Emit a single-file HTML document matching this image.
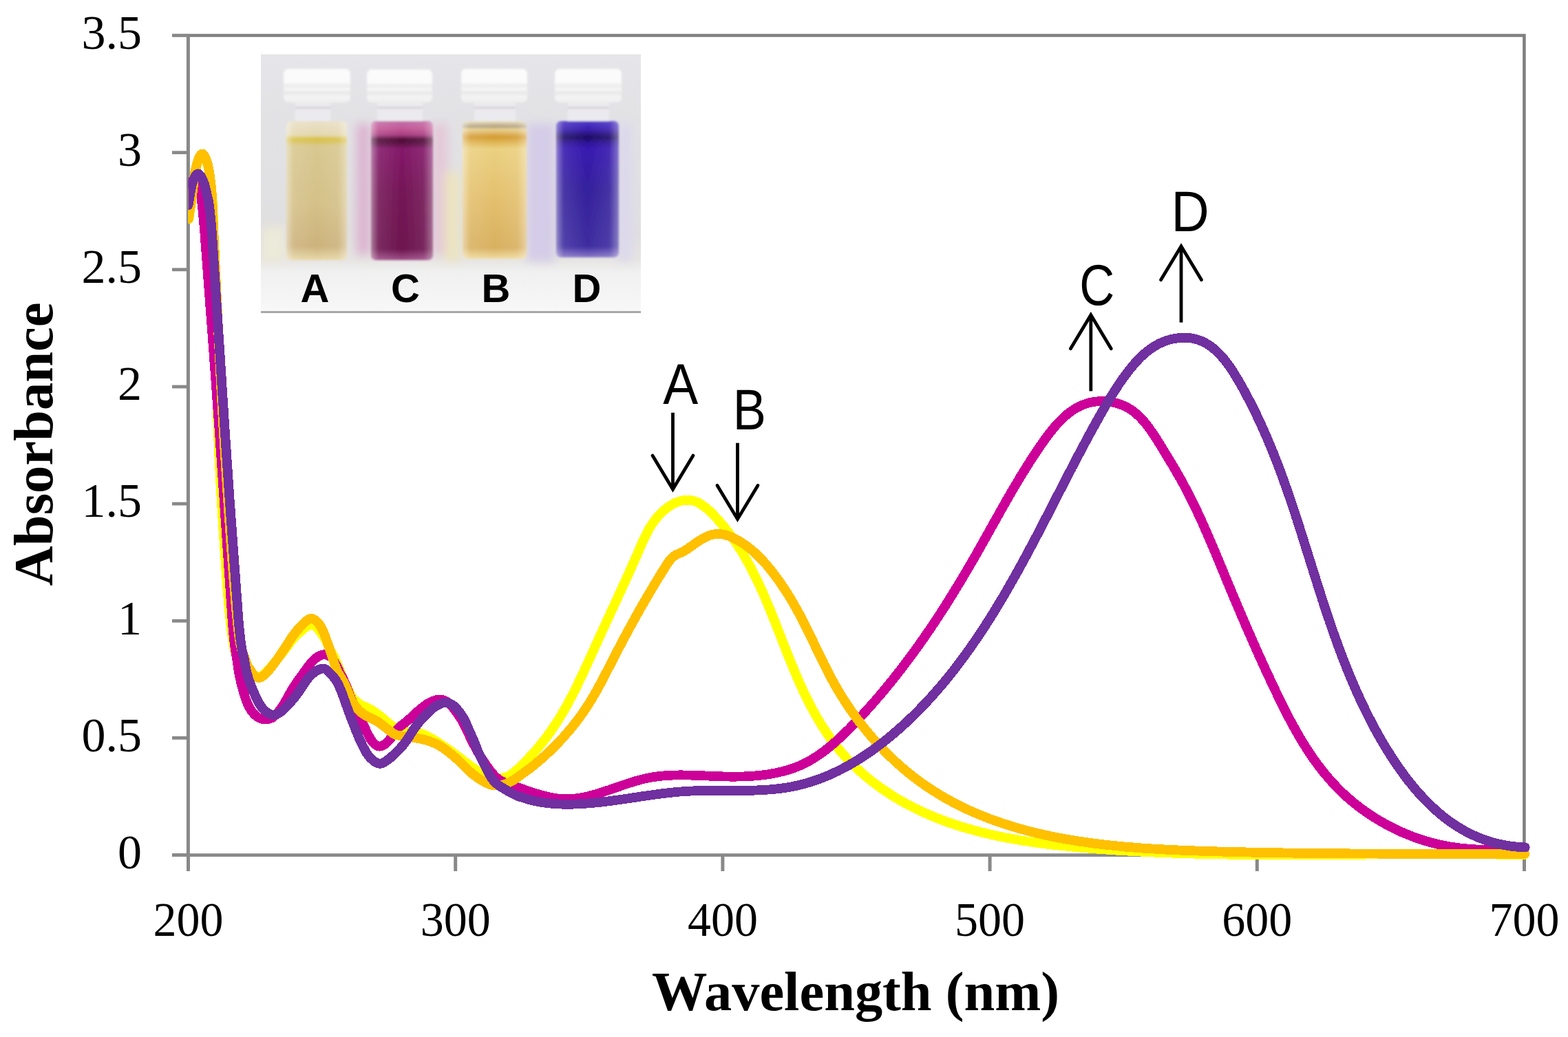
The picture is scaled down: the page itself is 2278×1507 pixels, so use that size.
<!DOCTYPE html>
<html><head><meta charset="utf-8"><title>Absorbance spectra</title>
<style>
html,body{margin:0;padding:0;background:#fff;width:2278px;height:1507px;overflow:hidden}
svg{display:block}
.tk{font-family:"Liberation Serif",serif;font-size:70px;fill:#000}
.tt{font-family:"Liberation Serif",serif;font-weight:bold;font-size:81px;fill:#000}
.an{font-family:"Liberation Sans",sans-serif;font-size:84px;fill:#000}
.il{font-family:"Liberation Sans",sans-serif;font-weight:bold;font-size:58px;fill:#000}
</style></head>
<body>
<svg width="2278" height="1507" viewBox="0 0 2278 1507">
<defs><clipPath id="pc"><rect x="273.5" y="0" width="2000" height="1300"/></clipPath></defs>
<rect width="2278" height="1507" fill="#fff"/>
<path d="M274,51.55 H2214.4 V1242.6" fill="none" stroke="#808080" stroke-width="4.6"/>
<line x1="273.4" y1="49.3" x2="273.4" y2="1245" stroke="#898989" stroke-width="5"/>
<line x1="250" y1="1242.6" x2="273" y2="1242.6" stroke="#898989" stroke-width="4.8"/>
<line x1="250" y1="1072.4" x2="273" y2="1072.4" stroke="#898989" stroke-width="4.8"/>
<line x1="250" y1="902.3" x2="273" y2="902.3" stroke="#898989" stroke-width="4.8"/>
<line x1="250" y1="732.1" x2="273" y2="732.1" stroke="#898989" stroke-width="4.8"/>
<line x1="250" y1="562.0" x2="273" y2="562.0" stroke="#898989" stroke-width="4.8"/>
<line x1="250" y1="391.8" x2="273" y2="391.8" stroke="#898989" stroke-width="4.8"/>
<line x1="250" y1="221.7" x2="273" y2="221.7" stroke="#898989" stroke-width="4.8"/>
<line x1="250" y1="51.5" x2="273" y2="51.5" stroke="#898989" stroke-width="4.8"/>
<line x1="250" y1="1242.6" x2="2217" y2="1242.6" stroke="#898989" stroke-width="4.8"/>
<line x1="273.5" y1="1242" x2="273.5" y2="1266" stroke="#898989" stroke-width="5"/>
<line x1="661.7" y1="1242" x2="661.7" y2="1266" stroke="#898989" stroke-width="5"/>
<line x1="1049.9" y1="1242" x2="1049.9" y2="1266" stroke="#898989" stroke-width="5"/>
<line x1="1438.1" y1="1242" x2="1438.1" y2="1266" stroke="#898989" stroke-width="5"/>
<line x1="1826.3" y1="1242" x2="1826.3" y2="1266" stroke="#898989" stroke-width="5"/>
<line x1="2214.5" y1="1242" x2="2214.5" y2="1266" stroke="#898989" stroke-width="5"/>
<text x="206" y="1261.8" text-anchor="end" class="tk">0</text>
<text x="206" y="1091.6" text-anchor="end" class="tk">0.5</text>
<text x="206" y="921.5" text-anchor="end" class="tk">1</text>
<text x="206" y="751.3" text-anchor="end" class="tk">1.5</text>
<text x="206" y="581.2" text-anchor="end" class="tk">2</text>
<text x="206" y="411.0" text-anchor="end" class="tk">2.5</text>
<text x="206" y="240.9" text-anchor="end" class="tk">3</text>
<text x="206" y="70.7" text-anchor="end" class="tk">3.5</text>
<text x="273.5" y="1359.5" text-anchor="middle" class="tk" textLength="102" lengthAdjust="spacingAndGlyphs">200</text>
<text x="661.7" y="1359.5" text-anchor="middle" class="tk" textLength="102" lengthAdjust="spacingAndGlyphs">300</text>
<text x="1049.9" y="1359.5" text-anchor="middle" class="tk" textLength="102" lengthAdjust="spacingAndGlyphs">400</text>
<text x="1438.1" y="1359.5" text-anchor="middle" class="tk" textLength="102" lengthAdjust="spacingAndGlyphs">500</text>
<text x="1826.3" y="1359.5" text-anchor="middle" class="tk" textLength="102" lengthAdjust="spacingAndGlyphs">600</text>
<text x="2214.5" y="1359.5" text-anchor="middle" class="tk" textLength="102" lengthAdjust="spacingAndGlyphs">700</text>
<text x="1243" y="1468" text-anchor="middle" class="tt" textLength="592" lengthAdjust="spacingAndGlyphs">Wavelength (nm)</text>
<text transform="translate(76,645.4) rotate(-90)" x="0" y="0" text-anchor="middle" class="tt" textLength="412" lengthAdjust="spacingAndGlyphs">Absorbance</text>
<g>
<defs>
<linearGradient id="bg" x1="0" y1="0" x2="0" y2="1">
<stop offset="0" stop-color="#e6e6ea"/><stop offset="0.25" stop-color="#e2e2e5"/><stop offset="0.7" stop-color="#e0dfe0"/>
<stop offset="0.79" stop-color="#e6e4e2"/><stop offset="0.84" stop-color="#f0f0f0"/><stop offset="1" stop-color="#f8f8f8"/></linearGradient>
<linearGradient id="lC" x1="0" y1="0" x2="0" y2="1"><stop offset="0" stop-color="#c070a8"/><stop offset="0.05" stop-color="#c45a98"/><stop offset="0.1" stop-color="#a83c80"/><stop offset="0.13" stop-color="#4e0c38"/><stop offset="0.16" stop-color="#5a1042"/><stop offset="0.2" stop-color="#84186a"/><stop offset="0.5" stop-color="#741656"/><stop offset="0.92" stop-color="#6c144e"/><stop offset="1" stop-color="#a05088"/></linearGradient>
<linearGradient id="lD" x1="0" y1="0" x2="0" y2="1"><stop offset="0" stop-color="#5038c8"/><stop offset="0.06" stop-color="#3a20b0"/><stop offset="0.09" stop-color="#2a1488"/><stop offset="0.12" stop-color="#1c0c60"/><stop offset="0.15" stop-color="#2a1090"/><stop offset="0.2" stop-color="#3618b0"/><stop offset="0.5" stop-color="#34209c"/><stop offset="0.92" stop-color="#3e2ca0"/><stop offset="1" stop-color="#8878c8"/></linearGradient>
<linearGradient id="lA" x1="0" y1="0" x2="0" y2="1"><stop offset="0" stop-color="#e8e0c8"/><stop offset="0.1" stop-color="#e4d8b0"/><stop offset="0.13" stop-color="#d8c040"/><stop offset="0.18" stop-color="#d8c890"/><stop offset="0.6" stop-color="#d4c088"/><stop offset="0.9" stop-color="#ccb27c"/><stop offset="1" stop-color="#e8d8a8"/></linearGradient>
<linearGradient id="lB" x1="0" y1="0" x2="0" y2="1"><stop offset="0" stop-color="#ece0c0"/><stop offset="0.04" stop-color="#b0a080"/><stop offset="0.06" stop-color="#e8d090"/><stop offset="0.115" stop-color="#d49a30"/><stop offset="0.16" stop-color="#e0b858"/><stop offset="0.2" stop-color="#ead080"/><stop offset="0.6" stop-color="#e2be6c"/><stop offset="0.92" stop-color="#d8b060"/><stop offset="1" stop-color="#f0dca0"/></linearGradient>
<linearGradient id="edge" x1="0" y1="0" x2="1" y2="0"><stop offset="0" stop-color="#fff" stop-opacity="0.45"/><stop offset="0.12" stop-color="#fff" stop-opacity="0.1"/><stop offset="0.5" stop-color="#fff" stop-opacity="0"/><stop offset="0.85" stop-color="#fff" stop-opacity="0.08"/><stop offset="1" stop-color="#fff" stop-opacity="0.4"/></linearGradient>
<linearGradient id="cap" x1="0" y1="0" x2="0" y2="1"><stop offset="0" stop-color="#fbfbfb"/><stop offset="0.4" stop-color="#fafafa"/><stop offset="0.5" stop-color="#ececec"/><stop offset="0.6" stop-color="#f6f6f6"/><stop offset="0.72" stop-color="#e8e8e8"/><stop offset="0.82" stop-color="#f4f4f4"/><stop offset="1" stop-color="#eeeeee"/></linearGradient>
<filter id="blr" x="-5%" y="-5%" width="110%" height="110%"><feGaussianBlur stdDeviation="1.6"/></filter>
<filter id="blr2" x="-30%" y="-30%" width="160%" height="160%"><feGaussianBlur stdDeviation="7"/></filter>
<clipPath id="ic"><rect x="379" y="79" width="552" height="374"/></clipPath>
</defs>
<g clip-path="url(#ic)">
<rect x="379" y="79" width="552" height="376" fill="url(#bg)"/>
<g filter="url(#blr2)">
<rect x="518" y="180" width="20" height="190" fill="#dcb4d0"/>
<rect x="628" y="180" width="22" height="190" fill="#e4c8d8"/>
<rect x="646" y="250" width="22" height="130" fill="#ece4c0"/>
<rect x="766" y="180" width="40" height="200" fill="#d4cce8"/>
<rect x="898" y="180" width="20" height="200" fill="#dcd8ec"/>
<rect x="380" y="330" width="35" height="50" fill="#ecead8"/>
</g>
<g filter="url(#blr)">
<rect x="429" y="147" width="51" height="31" fill="#ebeaee"/><rect x="429" y="155" width="51" height="3" fill="#d6d4da"/><rect x="412" y="100" width="97" height="49" rx="7" fill="url(#cap)"/><rect x="416" y="176" width="88" height="202" rx="7" fill="url(#lA)"/><rect x="416" y="176" width="88" height="202" rx="7" fill="url(#edge)"/><rect x="548" y="147" width="66" height="31" fill="#ebeaee"/><rect x="548" y="155" width="66" height="3" fill="#d6d4da"/><rect x="533" y="101" width="95" height="48" rx="7" fill="url(#cap)"/><rect x="539" y="176" width="90" height="202" rx="7" fill="url(#lC)"/><rect x="539" y="176" width="90" height="202" rx="7" fill="url(#edge)"/><rect x="689" y="147" width="60" height="31" fill="#ebeaee"/><rect x="689" y="155" width="60" height="3" fill="#d6d4da"/><rect x="670" y="100" width="96" height="49" rx="7" fill="url(#cap)"/><rect x="672" y="176" width="93" height="200" rx="7" fill="url(#lB)"/><rect x="672" y="176" width="93" height="200" rx="7" fill="url(#edge)"/><rect x="825" y="147" width="60" height="31" fill="#ebeaee"/><rect x="825" y="155" width="60" height="3" fill="#d6d4da"/><rect x="806" y="100" width="97" height="49" rx="7" fill="url(#cap)"/><rect x="808" y="176" width="91" height="198" rx="7" fill="url(#lD)"/><rect x="808" y="176" width="91" height="198" rx="7" fill="url(#edge)"/></g>
</g>
<rect x="379" y="452" width="552" height="3" fill="#a8a8a8"/>
<text x="457.5" y="439" text-anchor="middle" class="il">A</text><text x="589" y="439" text-anchor="middle" class="il">C</text><text x="720.5" y="439" text-anchor="middle" class="il">B</text><text x="852.5" y="439" text-anchor="middle" class="il">D</text></g>
<path d="M274.5,318.0 C275.2,312.7 277.6,296.8 279.0,286.0 C280.4,275.2 281.5,261.8 283.0,253.0 C284.5,244.2 286.2,237.7 288.0,233.0 C289.8,228.3 291.7,225.2 293.5,225.0 C295.3,224.8 297.2,227.2 299.0,231.5 C300.8,235.8 302.5,241.9 304.0,251.0 C305.5,260.1 306.9,271.0 308.0,286.0 C309.1,301.0 309.0,283.7 310.5,341.0 C312.0,398.3 313.8,545.2 317.0,630.0 C320.2,714.8 326.2,798.3 330.0,850.0 C333.8,901.7 336.3,920.7 340.0,940.0 C343.7,959.3 347.7,959.5 352.0,966.0 C356.3,972.5 361.5,976.2 366.0,979.0 C370.5,981.8 374.7,984.3 379.0,983.0 C383.3,981.7 386.8,976.7 392.0,971.0 C397.2,965.3 403.7,956.8 410.0,949.0 C416.3,941.2 422.8,930.8 430.0,924.0 C437.2,917.2 446.3,907.8 453.0,908.0 C459.7,908.2 465.5,918.8 470.0,925.0 C474.5,931.2 477.0,939.2 480.0,945.0 C483.0,950.8 484.7,952.5 488.0,960.0 C491.3,967.5 496.1,981.2 500.0,990.0 C503.9,998.8 508.7,1008.1 511.7,1013.0 C514.7,1017.9 515.9,1017.6 518.0,1019.5 C520.1,1021.4 522.0,1023.0 524.6,1024.5 C527.2,1026.0 530.8,1026.9 533.9,1028.5 C537.0,1030.1 539.9,1031.8 543.2,1034.0 C546.6,1036.2 549.3,1038.3 554.0,1042.0 C558.7,1045.7 565.5,1052.5 571.5,1056.0 C577.5,1059.5 582.6,1061.1 590.0,1063.0 C597.4,1064.9 605.5,1063.2 615.8,1067.5 C626.1,1071.8 639.8,1080.9 651.7,1089.0 C663.7,1097.1 677.5,1109.2 687.5,1116.0 C697.5,1122.8 703.4,1127.8 711.4,1130.0 C719.4,1132.2 728.9,1131.2 735.3,1129.5 C741.7,1127.8 746.0,1122.6 750.0,1119.5 C754.0,1116.4 757.4,1112.7 759.2,1111.0 C761.0,1109.3 760.2,1110.0 760.7,1109.5 C761.2,1109.0 761.6,1108.6 762.1,1108.1 C762.6,1107.6 763.0,1107.1 763.5,1106.6 C764.0,1106.1 764.5,1105.6 765.0,1105.1 C765.5,1104.6 765.9,1104.2 766.4,1103.7 C766.9,1103.2 767.3,1102.7 767.8,1102.2 C768.2,1101.7 768.6,1101.2 769.1,1100.7 C769.6,1100.2 770.0,1099.7 770.5,1099.2 C771.0,1098.7 771.4,1098.3 771.9,1097.8 C772.4,1097.3 772.8,1096.8 773.2,1096.3 C773.7,1095.8 774.2,1095.3 774.6,1094.8 C775.0,1094.3 775.5,1093.8 775.9,1093.3 C776.3,1092.8 776.8,1092.3 777.2,1091.8 C777.7,1091.3 778.2,1090.8 778.6,1090.3 C779.0,1089.8 779.5,1089.2 779.9,1088.7 C780.3,1088.2 780.8,1087.7 781.2,1087.2 C781.6,1086.7 782.0,1086.2 782.4,1085.7 C782.8,1085.2 783.3,1084.7 783.7,1084.2 C784.1,1083.7 784.6,1083.1 785.0,1082.6 C785.4,1082.1 785.8,1081.6 786.2,1081.1 C786.6,1080.6 787.1,1080.0 787.5,1079.5 C787.9,1079.0 788.3,1078.5 788.7,1078.0 C789.1,1077.5 789.6,1076.9 790.0,1076.4 C790.4,1075.9 790.8,1075.3 791.2,1074.8 C791.6,1074.3 792.0,1073.8 792.4,1073.3 C792.8,1072.8 793.2,1072.2 793.6,1071.7 C794.0,1071.2 794.4,1070.6 794.8,1070.1 C795.2,1069.6 795.6,1069.0 796.0,1068.5 C796.4,1068.0 796.7,1067.4 797.1,1066.9 C797.5,1066.4 797.9,1065.8 798.3,1065.3 C798.7,1064.8 799.1,1064.2 799.5,1063.7 C799.9,1063.2 800.2,1062.6 800.6,1062.1 C801.0,1061.5 801.3,1061.0 801.7,1060.4 C802.1,1059.9 802.5,1059.3 802.9,1058.8 C803.3,1058.3 803.6,1057.8 804.0,1057.2 C804.4,1056.7 804.7,1056.0 805.1,1055.5 C805.5,1055.0 805.8,1054.5 806.2,1053.9 C806.6,1053.4 806.9,1052.8 807.3,1052.2 C807.7,1051.6 808.0,1051.0 808.4,1050.5 C808.8,1050.0 809.0,1049.5 809.4,1048.9 C809.8,1048.4 810.1,1047.8 810.5,1047.2 C810.9,1046.6 811.2,1046.1 811.6,1045.5 C812.0,1044.9 812.3,1044.4 812.6,1043.8 C812.9,1043.2 813.2,1042.7 813.6,1042.1 C814.0,1041.5 814.4,1041.0 814.7,1040.4 C815.1,1039.8 815.4,1039.3 815.7,1038.7 C816.0,1038.1 816.4,1037.6 816.7,1037.0 C817.0,1036.4 817.4,1035.9 817.7,1035.3 C818.0,1034.7 818.4,1034.1 818.7,1033.5 C819.0,1032.9 819.4,1032.4 819.7,1031.8 C820.0,1031.2 820.4,1030.7 820.7,1030.1 C821.0,1029.5 821.4,1028.9 821.7,1028.3 C822.0,1027.7 822.4,1027.2 822.7,1026.6 C823.0,1026.0 823.4,1025.4 823.7,1024.8 C824.0,1024.2 824.3,1023.7 824.6,1023.1 C824.9,1022.5 825.3,1021.9 825.6,1021.3 C825.9,1020.7 826.2,1020.2 826.5,1019.6 C826.8,1019.0 827.2,1018.4 827.5,1017.8 C827.8,1017.2 828.1,1016.6 828.4,1016.0 C828.7,1015.4 829.0,1014.9 829.3,1014.3 C829.6,1013.7 830.0,1013.1 830.3,1012.5 C830.6,1011.9 830.9,1011.3 831.2,1010.7 C831.5,1010.1 831.8,1009.5 832.1,1008.9 C832.4,1008.3 832.7,1007.7 833.0,1007.1 C833.3,1006.5 833.6,1005.9 833.9,1005.3 C834.2,1004.7 834.5,1004.1 834.8,1003.5 C835.1,1002.9 835.4,1002.4 835.7,1001.8 C836.0,1001.2 836.3,1000.6 836.6,1000.0 C836.9,999.4 837.2,998.8 837.5,998.2 C837.8,997.6 838.1,996.9 838.4,996.3 C838.7,995.7 839.0,995.1 839.3,994.5 C839.6,993.9 839.9,993.3 840.2,992.7 C840.5,992.1 840.7,991.5 841.0,990.9 C841.3,990.3 841.6,989.7 841.9,989.1 C842.2,988.5 842.5,987.9 842.8,987.3 C843.1,986.7 843.3,986.1 843.6,985.5 C843.9,984.9 844.2,984.3 844.5,983.7 C844.8,983.1 845.1,982.4 845.4,981.8 C845.7,981.2 845.9,980.6 846.2,980.0 C846.5,979.4 846.8,978.8 847.1,978.2 C847.4,977.6 847.6,977.0 847.9,976.4 C848.2,975.8 848.5,975.2 848.8,974.6 C849.1,974.0 849.3,973.3 849.6,972.7 C849.9,972.1 850.1,971.5 850.4,970.9 C850.7,970.3 851.0,969.7 851.3,969.1 C851.6,968.5 851.8,967.9 852.1,967.3 C852.4,966.7 852.6,966.0 852.9,965.4 C853.2,964.8 853.5,964.2 853.8,963.6 C854.1,963.0 854.3,962.4 854.6,961.8 C854.9,961.2 855.1,960.6 855.4,960.0 C855.7,959.4 856.0,958.7 856.3,958.1 C856.6,957.5 856.8,956.9 857.1,956.3 C857.4,955.7 857.6,955.1 857.9,954.5 C858.2,953.9 858.4,953.3 858.7,952.7 C859.0,952.1 859.3,951.4 859.6,950.8 C859.9,950.2 860.1,949.6 860.4,949.0 C860.7,948.4 860.9,947.8 861.2,947.2 C861.5,946.6 861.7,946.0 862.0,945.4 C862.3,944.8 862.6,944.1 862.9,943.5 C863.2,942.9 863.4,942.3 863.7,941.7 C864.0,941.1 864.2,940.5 864.5,939.9 C864.8,939.3 865.0,938.7 865.3,938.1 C865.6,937.5 865.9,936.9 866.2,936.3 C866.5,935.7 866.7,935.1 867.0,934.5 C867.3,933.9 867.5,933.3 867.8,932.7 C868.1,932.1 868.3,931.5 868.6,930.9 C868.9,930.3 869.2,929.6 869.5,929.0 C869.8,928.4 870.0,927.8 870.3,927.2 C870.6,926.6 870.8,926.0 871.1,925.4 C871.4,924.8 871.6,924.2 871.9,923.6 C872.2,923.0 872.5,922.4 872.8,921.8 C873.1,921.2 873.3,920.6 873.6,920.0 C873.9,919.4 874.1,918.8 874.4,918.2 C874.7,917.6 875.0,917.0 875.3,916.4 C875.6,915.8 875.8,915.2 876.1,914.6 C876.4,914.0 876.6,913.4 876.9,912.8 C877.2,912.2 877.4,911.6 877.7,911.0 C878.0,910.4 878.3,909.8 878.6,909.2 C878.9,908.6 879.1,908.0 879.4,907.4 C879.7,906.8 879.9,906.3 880.2,905.7 C880.5,905.1 880.7,904.5 881.0,903.9 C881.3,903.3 881.6,902.7 881.9,902.1 C882.2,901.5 882.4,900.9 882.7,900.3 C883.0,899.7 883.2,899.1 883.5,898.5 C883.8,897.9 884.1,897.3 884.4,896.7 C884.7,896.1 884.9,895.5 885.2,894.9 C885.5,894.3 885.7,893.7 886.0,893.1 C886.3,892.5 886.5,891.9 886.8,891.3 C887.1,890.7 887.4,890.1 887.7,889.5 C888.0,888.9 888.2,888.3 888.5,887.7 C888.8,887.1 889.0,886.5 889.3,885.9 C889.6,885.3 889.8,884.7 890.1,884.1 C890.4,883.5 890.7,882.9 891.0,882.3 C891.3,881.7 891.5,881.1 891.8,880.5 C892.1,879.9 892.3,879.4 892.6,878.8 C892.9,878.2 893.2,877.6 893.5,877.0 C893.8,876.4 894.0,875.8 894.3,875.2 C894.6,874.6 894.8,874.0 895.1,873.4 C895.4,872.8 895.6,872.2 895.9,871.6 C896.2,871.0 896.5,870.4 896.8,869.8 C897.1,869.2 897.3,868.6 897.6,868.0 C897.9,867.4 898.1,866.8 898.4,866.2 C898.7,865.6 898.9,865.0 899.2,864.4 C899.5,863.8 899.8,863.2 900.1,862.6 C900.4,862.0 900.6,861.4 900.9,860.8 C901.2,860.2 901.4,859.6 901.7,859.0 C902.0,858.4 902.3,857.8 902.6,857.2 C902.9,856.6 903.1,856.0 903.4,855.4 C903.7,854.8 903.9,854.2 904.2,853.6 C904.5,853.0 904.7,852.4 905.0,851.8 C905.3,851.2 905.6,850.5 905.9,849.9 C906.2,849.3 906.4,848.7 906.7,848.1 C907.0,847.5 907.2,846.9 907.5,846.3 C907.8,845.7 908.0,845.1 908.3,844.5 C908.6,843.9 908.9,843.3 909.2,842.7 C909.5,842.1 909.7,841.5 910.0,840.9 C910.3,840.3 910.5,839.7 910.8,839.1 C911.1,838.5 911.3,837.8 911.6,837.2 C911.9,836.6 912.1,836.0 912.4,835.4 C912.7,834.8 913.0,834.2 913.3,833.6 C913.6,833.0 913.8,832.4 914.1,831.8 C914.4,831.2 914.6,830.5 914.9,829.9 C915.2,829.3 915.4,828.7 915.7,828.1 C916.0,827.5 916.3,826.9 916.6,826.3 C916.9,825.7 917.1,825.0 917.4,824.4 C917.7,823.8 917.9,823.2 918.2,822.6 C918.5,822.0 918.7,821.4 919.0,820.8 C919.3,820.2 919.5,819.5 919.8,818.9 C920.1,818.3 920.4,817.7 920.7,817.1 C921.0,816.5 921.2,815.8 921.5,815.2 C921.8,814.6 922.0,814.0 922.3,813.4 C922.6,812.8 922.8,812.1 923.1,811.5 C923.4,810.9 923.6,810.3 923.9,809.7 C924.2,809.1 924.4,808.4 924.7,807.8 C925.0,807.2 925.3,806.5 925.6,805.9 C925.9,805.3 926.1,804.7 926.4,804.1 C926.7,803.5 926.9,802.8 927.2,802.2 C927.5,801.6 927.7,800.9 928.0,800.3 C928.3,799.7 928.5,799.1 928.8,798.5 C929.1,797.9 929.3,797.2 929.6,796.6 C929.9,796.0 930.2,795.3 930.5,794.7 C930.8,794.1 931.0,793.4 931.3,792.8 C931.6,792.2 931.8,791.6 932.1,791.0 C932.4,790.4 932.6,789.7 932.9,789.1 C933.2,788.5 933.5,787.8 933.8,787.2 C934.1,786.6 934.3,786.0 934.6,785.4 C934.9,784.8 935.2,784.1 935.5,783.5 C935.8,782.9 936.1,782.2 936.4,781.6 C936.7,781.0 937.0,780.4 937.3,779.8 C937.6,779.2 937.9,778.6 938.2,778.0 C938.5,777.4 938.8,776.7 939.1,776.1 C939.4,775.5 939.7,774.9 940.0,774.3 C940.3,773.7 940.7,773.1 941.0,772.5 C941.3,771.9 941.6,771.3 941.9,770.7 C942.2,770.1 942.5,769.5 942.9,768.9 C943.2,768.3 943.6,767.8 944.0,767.2 C944.4,766.6 944.6,766.0 945.0,765.4 C945.4,764.8 945.7,764.3 946.1,763.7 C946.5,763.1 946.8,762.6 947.2,762.0 C947.6,761.4 947.9,760.9 948.3,760.3 C948.7,759.7 949.0,759.1 949.4,758.6 C949.8,758.1 950.2,757.5 950.6,757.0 C951.0,756.5 951.4,755.8 951.8,755.3 C952.2,754.8 952.7,754.2 953.1,753.7 C953.5,753.2 954.0,752.6 954.4,752.1 C954.8,751.6 955.3,751.1 955.7,750.6 C956.1,750.1 956.5,749.6 957.0,749.1 C957.5,748.6 957.9,748.0 958.4,747.5 C958.9,747.0 959.4,746.6 959.9,746.1 C960.4,745.6 960.9,745.1 961.4,744.6 C961.9,744.1 962.4,743.7 962.9,743.2 C963.4,742.7 963.9,742.2 964.4,741.8 C964.9,741.3 965.5,740.9 966.1,740.5 C966.7,740.1 967.2,739.6 967.7,739.2 C968.2,738.8 968.8,738.3 969.4,737.9 C970.0,737.5 970.5,737.1 971.1,736.7 C971.7,736.3 972.3,735.9 972.9,735.5 C973.5,735.1 974.0,734.8 974.6,734.4 C975.2,734.0 975.8,733.6 976.4,733.3 C977.0,732.9 977.6,732.6 978.2,732.3 C978.8,732.0 979.5,731.7 980.1,731.4 C980.7,731.1 981.3,730.8 981.9,730.5 C982.5,730.2 983.2,730.0 983.8,729.8 C984.4,729.6 985.0,729.3 985.6,729.1 C986.2,728.9 986.9,728.6 987.5,728.4 C988.1,728.2 988.8,728.1 989.4,727.9 C990.0,727.7 990.6,727.5 991.2,727.4 C991.8,727.3 992.5,727.2 993.1,727.1 C993.7,727.0 994.3,726.9 994.9,726.8 C995.5,726.7 996.2,726.6 996.8,726.6 C997.4,726.6 998.0,726.6 998.6,726.6 C999.2,726.6 999.8,726.6 1000.4,726.6 C1001.0,726.6 1001.6,726.7 1002.2,726.8 C1002.8,726.9 1003.3,727.0 1003.9,727.1 C1004.5,727.2 1005.1,727.3 1005.7,727.4 C1006.3,727.5 1006.8,727.6 1007.4,727.8 C1008.0,728.0 1008.5,728.2 1009.1,728.4 C1009.7,728.6 1010.2,728.8 1010.8,729.0 C1011.4,729.2 1012.0,729.5 1012.5,729.7 C1013.0,730.0 1013.6,730.2 1014.1,730.5 C1014.6,730.8 1015.2,731.0 1015.8,731.3 C1016.3,731.6 1016.9,731.9 1017.4,732.2 C1017.9,732.5 1018.5,732.9 1019.0,733.2 C1019.5,733.6 1020.1,733.9 1020.6,734.3 C1021.1,734.7 1021.6,735.0 1022.1,735.4 C1022.6,735.8 1023.2,736.1 1023.7,736.5 C1024.2,736.9 1024.7,737.3 1025.2,737.7 C1025.7,738.1 1026.3,738.6 1026.8,739.0 C1027.3,739.4 1027.8,739.9 1028.3,740.3 C1028.8,740.7 1029.3,741.1 1029.8,741.6 C1030.3,742.1 1030.8,742.5 1031.3,743.0 C1031.8,743.5 1032.2,743.8 1032.7,744.3 C1033.2,744.8 1033.7,745.3 1034.2,745.8 C1034.7,746.3 1035.1,746.7 1035.6,747.2 C1036.1,747.7 1036.5,748.2 1037.0,748.7 C1037.5,749.2 1037.9,749.7 1038.4,750.2 C1038.9,750.7 1039.3,751.2 1039.8,751.7 C1040.3,752.2 1040.7,752.7 1041.2,753.2 C1041.7,753.7 1042.1,754.2 1042.6,754.7 C1043.0,755.2 1043.5,755.7 1043.9,756.2 C1044.4,756.7 1044.8,757.2 1045.3,757.7 C1045.8,758.2 1046.2,758.7 1046.6,759.2 C1047.0,759.7 1047.5,760.3 1047.9,760.8 C1048.3,761.3 1048.8,761.8 1049.2,762.3 C1049.6,762.8 1050.1,763.4 1050.5,763.9 C1050.9,764.4 1051.4,764.9 1051.8,765.4 C1052.2,765.9 1052.7,766.5 1053.1,767.0 C1053.5,767.5 1053.9,768.1 1054.3,768.6 C1054.7,769.1 1055.2,769.7 1055.6,770.2 C1056.0,770.7 1056.4,771.2 1056.8,771.7 C1057.2,772.2 1057.7,772.8 1058.1,773.3 C1058.5,773.8 1058.9,774.4 1059.3,774.9 C1059.7,775.4 1060.1,776.0 1060.5,776.5 C1060.9,777.0 1061.3,777.7 1061.7,778.2 C1062.1,778.8 1062.4,779.3 1062.8,779.8 C1063.2,780.3 1063.6,780.9 1064.0,781.4 C1064.4,781.9 1064.8,782.5 1065.2,783.0 C1065.6,783.5 1065.9,784.2 1066.3,784.7 C1066.7,785.2 1067.0,785.8 1067.4,786.3 C1067.8,786.8 1068.2,787.5 1068.6,788.0 C1069.0,788.5 1069.3,789.1 1069.7,789.6 C1070.1,790.1 1070.4,790.8 1070.8,791.3 C1071.2,791.8 1071.5,792.3 1071.9,792.9 C1072.3,793.5 1072.7,794.0 1073.0,794.6 C1073.3,795.2 1073.7,795.7 1074.0,796.3 C1074.3,796.9 1074.7,797.5 1075.1,798.0 C1075.5,798.5 1075.8,799.1 1076.2,799.6 C1076.6,800.1 1076.9,800.7 1077.2,801.3 C1077.5,801.9 1077.9,802.4 1078.2,803.0 C1078.5,803.6 1079.0,804.1 1079.3,804.7 C1079.6,805.3 1080.0,805.8 1080.3,806.4 C1080.6,807.0 1081.0,807.6 1081.3,808.2 C1081.6,808.8 1082.0,809.3 1082.3,809.9 C1082.6,810.5 1083.0,811.0 1083.3,811.6 C1083.6,812.2 1084.0,812.7 1084.3,813.3 C1084.6,813.9 1085.0,814.5 1085.3,815.1 C1085.6,815.7 1085.9,816.2 1086.2,816.8 C1086.5,817.4 1086.9,817.9 1087.2,818.5 C1087.5,819.1 1087.9,819.7 1088.2,820.3 C1088.5,820.9 1088.8,821.4 1089.1,822.0 C1089.4,822.6 1089.7,823.2 1090.0,823.8 C1090.3,824.4 1090.7,824.9 1091.0,825.5 C1091.3,826.1 1091.6,826.7 1091.9,827.3 C1092.2,827.9 1092.5,828.5 1092.8,829.1 C1093.1,829.7 1093.4,830.2 1093.7,830.8 C1094.0,831.4 1094.3,832.0 1094.6,832.6 C1094.9,833.2 1095.2,833.8 1095.5,834.4 C1095.8,835.0 1096.1,835.6 1096.4,836.2 C1096.7,836.8 1097.0,837.4 1097.3,838.0 C1097.6,838.6 1097.9,839.2 1098.2,839.8 C1098.5,840.4 1098.8,840.9 1099.1,841.5 C1099.4,842.1 1099.6,842.7 1099.9,843.3 C1100.2,843.9 1100.5,844.5 1100.8,845.1 C1101.1,845.7 1101.3,846.3 1101.6,846.9 C1101.9,847.5 1102.2,848.2 1102.5,848.8 C1102.8,849.4 1103.0,850.0 1103.3,850.6 C1103.6,851.2 1103.9,851.8 1104.2,852.4 C1104.5,853.0 1104.7,853.6 1105.0,854.2 C1105.3,854.8 1105.5,855.4 1105.8,856.0 C1106.1,856.6 1106.3,857.2 1106.6,857.8 C1106.9,858.4 1107.2,859.1 1107.5,859.7 C1107.8,860.3 1108.0,860.9 1108.3,861.5 C1108.6,862.1 1108.8,862.7 1109.1,863.3 C1109.4,863.9 1109.6,864.5 1109.9,865.1 C1110.2,865.7 1110.4,866.4 1110.7,867.0 C1111.0,867.6 1111.2,868.2 1111.5,868.8 C1111.8,869.4 1112.0,870.1 1112.3,870.7 C1112.6,871.3 1112.8,871.9 1113.1,872.5 C1113.3,873.1 1113.5,873.7 1113.8,874.3 C1114.0,874.9 1114.3,875.6 1114.6,876.2 C1114.9,876.8 1115.1,877.4 1115.4,878.0 C1115.7,878.6 1116.0,879.3 1116.2,879.9 C1116.5,880.5 1116.7,881.1 1116.9,881.7 C1117.2,882.3 1117.4,883.0 1117.7,883.6 C1118.0,884.2 1118.2,884.9 1118.5,885.5 C1118.8,886.1 1119.0,886.7 1119.2,887.3 C1119.5,887.9 1119.8,888.6 1120.0,889.2 C1120.2,889.8 1120.5,890.4 1120.7,891.0 C1121.0,891.6 1121.2,892.3 1121.5,892.9 C1121.8,893.5 1122.0,894.2 1122.2,894.8 C1122.5,895.4 1122.8,896.0 1123.0,896.6 C1123.2,897.2 1123.5,897.9 1123.7,898.5 C1124.0,899.1 1124.2,899.8 1124.5,900.4 C1124.8,901.0 1125.0,901.6 1125.2,902.2 C1125.5,902.8 1125.8,903.5 1126.0,904.1 C1126.2,904.7 1126.5,905.4 1126.7,906.0 C1126.9,906.6 1127.2,907.2 1127.4,907.8 C1127.7,908.4 1128.0,909.1 1128.2,909.7 C1128.5,910.3 1128.7,911.0 1128.9,911.6 C1129.1,912.2 1129.3,912.9 1129.6,913.5 C1129.8,914.1 1130.2,914.7 1130.4,915.3 C1130.7,915.9 1130.9,916.6 1131.1,917.2 C1131.3,917.8 1131.5,918.5 1131.8,919.1 C1132.0,919.7 1132.3,920.4 1132.6,921.0 C1132.8,921.6 1133.1,922.2 1133.3,922.8 C1133.5,923.4 1133.8,924.1 1134.0,924.7 C1134.2,925.3 1134.5,926.0 1134.8,926.6 C1135.0,927.2 1135.3,927.9 1135.5,928.5 C1135.7,929.1 1136.0,929.8 1136.2,930.4 C1136.5,931.0 1136.8,931.6 1137.0,932.2 C1137.2,932.8 1137.5,933.5 1137.7,934.1 C1137.9,934.7 1138.2,935.4 1138.4,936.0 C1138.7,936.6 1139.0,937.3 1139.2,937.9 C1139.5,938.5 1139.7,939.1 1139.9,939.7 C1140.1,940.3 1140.3,941.0 1140.6,941.6 C1140.8,942.2 1141.2,942.9 1141.4,943.5 C1141.7,944.1 1141.8,944.8 1142.1,945.4 C1142.3,946.0 1142.7,946.6 1142.9,947.2 C1143.2,947.8 1143.4,948.5 1143.6,949.1 C1143.8,949.7 1144.0,950.4 1144.3,951.0 C1144.5,951.6 1144.8,952.2 1145.1,952.8 C1145.3,953.4 1145.5,954.1 1145.8,954.7 C1146.0,955.3 1146.3,956.0 1146.6,956.6 C1146.8,957.2 1147.0,957.9 1147.3,958.5 C1147.5,959.1 1147.8,959.7 1148.1,960.3 C1148.3,960.9 1148.5,961.6 1148.8,962.2 C1149.0,962.8 1149.3,963.5 1149.6,964.1 C1149.9,964.7 1150.2,965.3 1150.4,965.9 C1150.7,966.5 1150.8,967.2 1151.1,967.8 C1151.3,968.4 1151.6,969.0 1151.9,969.6 C1152.2,970.2 1152.5,970.9 1152.7,971.5 C1153.0,972.1 1153.2,972.8 1153.4,973.4 C1153.7,974.0 1153.9,974.6 1154.2,975.2 C1154.5,975.8 1154.7,976.5 1155.0,977.1 C1155.3,977.7 1155.5,978.3 1155.8,978.9 C1156.1,979.5 1156.3,980.2 1156.6,980.8 C1156.9,981.4 1157.2,982.0 1157.4,982.6 C1157.7,983.2 1157.8,983.9 1158.1,984.5 C1158.3,985.1 1158.6,985.7 1158.9,986.3 C1159.2,986.9 1159.5,987.5 1159.8,988.1 C1160.1,988.7 1160.3,989.4 1160.6,990.0 C1160.9,990.6 1161.1,991.2 1161.4,991.8 C1161.7,992.4 1161.9,993.0 1162.2,993.6 C1162.5,994.2 1162.7,994.9 1163.0,995.5 C1163.3,996.1 1163.5,996.7 1163.8,997.3 C1164.1,997.9 1164.4,998.5 1164.7,999.1 C1165.0,999.7 1165.2,1000.3 1165.5,1000.9 C1165.8,1001.5 1166.1,1002.2 1166.4,1002.8 C1166.7,1003.4 1166.9,1004.0 1167.2,1004.6 C1167.5,1005.2 1167.8,1005.8 1168.1,1006.4 C1168.4,1007.0 1168.6,1007.6 1168.9,1008.2 C1169.2,1008.8 1169.5,1009.4 1169.8,1010.0 C1170.1,1010.6 1170.4,1011.2 1170.7,1011.8 C1171.0,1012.4 1171.2,1013.0 1171.5,1013.6 C1171.8,1014.2 1172.1,1014.8 1172.4,1015.4 C1172.7,1016.0 1173.0,1016.6 1173.3,1017.2 C1173.6,1017.8 1173.9,1018.4 1174.2,1019.0 C1174.5,1019.6 1174.8,1020.2 1175.1,1020.8 C1175.4,1021.4 1175.7,1022.0 1176.0,1022.6 C1176.3,1023.2 1176.6,1023.7 1176.9,1024.3 C1177.2,1024.9 1177.6,1025.5 1177.9,1026.1 C1178.2,1026.7 1178.5,1027.3 1178.8,1027.9 C1179.1,1028.5 1179.4,1029.0 1179.7,1029.6 C1180.0,1030.2 1180.4,1030.8 1180.7,1031.4 C1181.0,1032.0 1181.3,1032.6 1181.6,1033.2 C1181.9,1033.8 1182.3,1034.3 1182.6,1034.9 C1182.9,1035.5 1183.3,1036.1 1183.6,1036.7 C1183.9,1037.3 1184.2,1037.8 1184.5,1038.4 C1184.8,1039.0 1185.2,1039.5 1185.5,1040.1 C1185.8,1040.7 1186.2,1041.3 1186.5,1041.9 C1186.8,1042.5 1187.2,1043.0 1187.5,1043.6 C1187.8,1044.2 1188.2,1044.7 1188.5,1045.3 C1188.8,1045.9 1189.2,1046.4 1189.5,1047.0 C1189.8,1047.6 1190.2,1048.1 1190.6,1048.7 C1190.9,1049.3 1191.3,1049.8 1191.6,1050.4 C1191.9,1051.0 1192.2,1051.5 1192.6,1052.1 C1192.9,1052.7 1193.3,1053.2 1193.7,1053.8 C1194.1,1054.4 1194.4,1054.9 1194.7,1055.5 C1195.0,1056.1 1195.4,1056.6 1195.8,1057.2 C1196.2,1057.8 1196.5,1058.3 1196.9,1058.9 C1197.3,1059.5 1197.6,1060.0 1198.0,1060.6 C1198.4,1061.1 1198.7,1061.7 1199.1,1062.2 C1199.5,1062.8 1199.8,1063.4 1200.2,1063.9 C1200.6,1064.5 1200.9,1065.0 1201.3,1065.5 C1201.7,1066.0 1202.0,1066.7 1202.4,1067.2 C1202.8,1067.8 1203.1,1068.3 1203.5,1068.8 C1203.9,1069.3 1204.3,1069.9 1204.7,1070.4 C1205.1,1071.0 1205.4,1071.5 1205.8,1072.1 C1206.2,1072.6 1206.6,1073.2 1207.0,1073.7 C1207.4,1074.2 1207.8,1074.8 1208.2,1075.3 C1208.6,1075.8 1208.9,1076.4 1209.3,1076.9 C1209.7,1077.4 1210.1,1078.0 1210.5,1078.5 C1210.9,1079.0 1211.3,1079.6 1211.7,1080.1 C1212.1,1080.6 1212.5,1081.2 1212.9,1081.7 C1213.3,1082.2 1213.8,1082.7 1214.2,1083.2 C1214.6,1083.7 1215.0,1084.3 1215.4,1084.8 C1215.8,1085.3 1216.2,1085.9 1216.6,1086.4 C1217.0,1086.9 1217.5,1087.4 1217.9,1087.9 C1218.3,1088.4 1218.8,1089.0 1219.2,1089.5 C1219.6,1090.0 1220.1,1090.5 1220.5,1091.0 C1220.9,1091.5 1221.3,1092.0 1221.7,1092.5 C1222.1,1093.0 1222.5,1093.6 1223.0,1094.1 C1223.5,1094.6 1224.0,1095.1 1224.4,1095.6 C1224.9,1096.1 1225.3,1096.6 1225.7,1097.1 C1226.1,1097.6 1226.5,1098.1 1227.0,1098.6 C1227.5,1099.1 1228.0,1099.6 1228.4,1100.1 C1228.9,1100.6 1229.2,1101.0 1229.7,1101.5 C1230.2,1102.0 1230.6,1102.5 1231.1,1103.0 C1231.6,1103.5 1232.0,1104.0 1232.5,1104.5 C1233.0,1105.0 1233.4,1105.4 1233.9,1105.9 C1234.4,1106.4 1234.8,1106.9 1235.3,1107.4 C1235.8,1107.9 1236.2,1108.3 1236.7,1108.8 C1237.2,1109.3 1237.6,1109.7 1238.1,1110.2 C1238.6,1110.7 1239.0,1111.1 1239.5,1111.6 C1240.0,1112.1 1240.5,1112.5 1241.0,1113.0 C1241.5,1113.5 1242.0,1113.9 1242.5,1114.4 C1243.0,1114.9 1243.4,1115.3 1243.9,1115.8 C1244.4,1116.3 1244.9,1116.7 1245.4,1117.2 C1245.9,1117.7 1246.4,1118.1 1246.9,1118.6 C1247.4,1119.1 1247.9,1119.5 1248.4,1120.0 C1248.9,1120.5 1249.4,1120.8 1249.9,1121.3 C1250.4,1121.8 1250.9,1122.2 1251.4,1122.7 C1251.9,1123.2 1252.4,1123.6 1252.9,1124.0 C1253.4,1124.4 1253.9,1124.9 1254.4,1125.3 C1254.9,1125.7 1255.5,1126.2 1256.0,1126.6 C1256.5,1127.0 1257.0,1127.5 1257.5,1127.9 C1258.0,1128.3 1258.6,1128.8 1259.1,1129.2 C1259.6,1129.6 1260.1,1130.1 1260.6,1130.5 C1261.1,1130.9 1261.7,1131.4 1262.2,1131.8 C1262.7,1132.2 1263.3,1132.7 1263.8,1133.1 C1264.3,1133.5 1264.9,1133.9 1265.4,1134.3 C1265.9,1134.7 1266.5,1135.2 1267.0,1135.6 C1267.5,1136.0 1268.1,1136.4 1268.6,1136.8 C1269.1,1137.2 1269.7,1137.6 1270.2,1138.0 C1270.7,1138.4 1271.3,1138.8 1271.8,1139.2 C1272.3,1139.6 1272.9,1140.1 1273.4,1140.5 C1273.9,1140.9 1274.5,1141.3 1275.0,1141.7 C1275.5,1142.1 1276.0,1142.4 1276.6,1142.8 C1277.1,1143.2 1277.8,1143.6 1278.3,1144.0 C1278.8,1144.4 1279.4,1144.8 1279.9,1145.2 C1280.4,1145.6 1281.0,1145.9 1281.5,1146.3 C1282.0,1146.7 1282.7,1147.1 1283.2,1147.5 C1283.8,1147.9 1284.2,1148.2 1284.8,1148.6 C1285.3,1149.0 1285.9,1149.3 1286.5,1149.7 C1287.1,1150.1 1287.7,1150.5 1288.2,1150.9 C1288.8,1151.3 1289.2,1151.6 1289.8,1152.0 C1290.3,1152.4 1290.9,1152.8 1291.5,1153.1 C1292.1,1153.4 1292.6,1153.8 1293.2,1154.1 C1293.8,1154.4 1294.4,1154.8 1294.9,1155.2 C1295.5,1155.6 1296.0,1156.0 1296.5,1156.3 C1297.0,1156.6 1297.6,1156.9 1298.2,1157.3 C1298.8,1157.7 1299.3,1158.1 1299.9,1158.4 C1300.5,1158.8 1301.0,1159.1 1301.6,1159.4 C1302.2,1159.7 1302.7,1160.1 1303.3,1160.4 C1303.9,1160.8 1304.4,1161.2 1305.0,1161.5 C1305.6,1161.8 1306.1,1162.2 1306.7,1162.5 C1307.3,1162.8 1307.9,1163.2 1308.5,1163.5 C1309.1,1163.8 1309.6,1164.1 1310.2,1164.4 C1310.8,1164.7 1311.3,1165.1 1311.9,1165.4 C1312.5,1165.7 1313.0,1166.1 1313.6,1166.4 C1314.2,1166.7 1314.8,1167.0 1315.4,1167.3 C1316.0,1167.6 1316.5,1168.0 1317.1,1168.3 C1317.7,1168.6 1318.3,1168.9 1318.9,1169.2 C1319.5,1169.5 1320.0,1169.9 1320.6,1170.2 C1321.2,1170.5 1321.7,1170.8 1322.3,1171.1 C1322.9,1171.4 1323.5,1171.7 1324.1,1172.0 C1324.7,1172.3 1325.3,1172.6 1325.9,1172.9 C1326.5,1173.2 1327.0,1173.5 1327.6,1173.8 C1328.2,1174.1 1328.8,1174.4 1329.4,1174.7 C1330.0,1175.0 1330.6,1175.2 1331.2,1175.5 C1331.8,1175.8 1332.3,1176.1 1332.9,1176.4 C1333.5,1176.7 1334.1,1177.0 1334.7,1177.3 C1335.3,1177.6 1335.9,1177.8 1336.5,1178.1 C1337.1,1178.4 1337.7,1178.6 1338.3,1178.9 C1338.9,1179.2 1339.5,1179.5 1340.1,1179.8 C1340.7,1180.1 1341.3,1180.3 1341.9,1180.6 C1342.5,1180.9 1343.1,1181.1 1343.7,1181.4 C1344.3,1181.7 1344.9,1181.9 1345.5,1182.2 C1346.1,1182.5 1346.7,1182.7 1347.3,1183.0 C1347.9,1183.3 1348.5,1183.5 1349.1,1183.8 C1349.7,1184.1 1350.3,1184.3 1350.9,1184.6 C1351.5,1184.9 1352.1,1185.2 1352.7,1185.4 C1353.3,1185.7 1353.9,1185.8 1354.5,1186.1 C1355.1,1186.3 1355.7,1186.7 1356.3,1186.9 C1356.9,1187.2 1357.6,1187.3 1358.2,1187.6 C1358.8,1187.8 1359.4,1188.2 1360.0,1188.4 C1360.6,1188.7 1361.2,1188.9 1361.8,1189.1 C1362.4,1189.3 1363.1,1189.6 1363.7,1189.8 C1364.3,1190.0 1364.9,1190.3 1365.5,1190.5 C1366.1,1190.7 1366.7,1191.0 1367.3,1191.2 C1367.9,1191.4 1368.6,1191.7 1369.2,1191.9 C1369.8,1192.1 1370.4,1192.4 1371.0,1192.6 C1371.6,1192.8 1372.3,1193.1 1372.9,1193.3 C1373.5,1193.5 1374.1,1193.8 1374.7,1194.0 C1375.3,1194.2 1376.0,1194.4 1376.6,1194.6 C1377.2,1194.8 1377.9,1195.1 1378.5,1195.3 C1379.1,1195.5 1379.7,1195.8 1380.3,1196.0 C1380.9,1196.2 1381.6,1196.4 1382.2,1196.6 C1382.8,1196.8 1383.5,1197.0 1384.1,1197.2 C1384.7,1197.4 1385.3,1197.7 1385.9,1197.9 C1386.5,1198.1 1387.2,1198.3 1387.8,1198.5 C1388.4,1198.7 1389.1,1198.9 1389.7,1199.1 C1390.3,1199.3 1391.0,1199.5 1391.6,1199.7 C1392.2,1199.9 1392.9,1200.1 1393.5,1200.3 C1394.1,1200.5 1394.8,1200.7 1395.4,1200.9 C1396.0,1201.1 1396.6,1201.3 1397.2,1201.5 C1397.8,1201.7 1398.5,1201.9 1399.1,1202.1 C1399.7,1202.3 1400.4,1202.4 1401.0,1202.6 C1401.6,1202.8 1402.3,1203.0 1402.9,1203.2 C1403.5,1203.4 1404.2,1203.6 1404.8,1203.8 C1405.4,1204.0 1406.0,1204.1 1406.7,1204.3 C1407.4,1204.5 1408.1,1204.7 1408.7,1204.9 C1409.3,1205.1 1410.0,1205.2 1410.6,1205.4 C1411.2,1205.6 1411.9,1205.7 1412.5,1205.9 C1413.1,1206.1 1413.8,1206.3 1414.4,1206.5 C1415.0,1206.7 1415.7,1206.8 1416.3,1207.0 C1416.9,1207.2 1417.5,1207.3 1418.2,1207.5 C1418.9,1207.7 1419.6,1207.8 1420.2,1208.0 C1420.8,1208.2 1421.5,1208.3 1422.1,1208.5 C1422.7,1208.7 1423.4,1208.8 1424.0,1209.0 C1424.6,1209.2 1425.2,1209.3 1425.9,1209.5 C1426.6,1209.7 1427.2,1209.8 1427.9,1210.0 C1428.6,1210.2 1429.2,1210.2 1429.8,1210.4 C1430.4,1210.6 1431.0,1210.7 1431.7,1210.9 C1432.4,1211.1 1433.1,1211.2 1433.7,1211.4 C1434.3,1211.6 1434.9,1211.7 1435.6,1211.8 C1436.2,1211.9 1436.9,1212.1 1437.6,1212.3 C1438.2,1212.5 1438.9,1212.5 1439.5,1212.7 C1440.1,1212.9 1440.8,1213.1 1441.4,1213.2 C1442.1,1213.3 1442.7,1213.5 1443.4,1213.6 C1444.1,1213.7 1444.8,1213.8 1445.4,1214.0 C1446.1,1214.2 1446.7,1214.3 1447.3,1214.5 C1447.9,1214.7 1448.6,1214.8 1449.3,1214.9 C1450.0,1215.0 1450.5,1215.2 1451.2,1215.3 C1451.9,1215.4 1452.6,1215.6 1453.2,1215.7 C1453.8,1215.8 1454.4,1216.0 1455.1,1216.1 C1455.8,1216.2 1456.4,1216.4 1457.1,1216.5 C1457.8,1216.6 1458.4,1216.8 1459.1,1216.9 C1459.8,1217.0 1460.3,1217.2 1461.0,1217.3 C1461.7,1217.4 1462.3,1217.5 1463.0,1217.6 C1463.7,1217.7 1464.3,1217.9 1465.0,1218.0 C1465.7,1218.1 1466.2,1218.3 1466.9,1218.4 C1467.6,1218.5 1468.2,1218.6 1468.9,1218.7 C1469.6,1218.8 1470.2,1219.0 1470.9,1219.1 C1471.6,1219.2 1472.2,1219.4 1472.9,1219.5 C1473.6,1219.6 1474.2,1219.7 1474.8,1219.8 C1475.4,1219.9 1476.1,1220.0 1476.8,1220.1 C1477.5,1220.2 1478.1,1220.4 1478.8,1220.5 C1479.5,1220.6 1480.1,1220.7 1480.8,1220.8 C1481.5,1220.9 1482.1,1221.1 1482.8,1221.2 C1483.5,1221.3 1484.1,1221.4 1484.8,1221.5 C1485.5,1221.6 1486.0,1221.7 1486.7,1221.8 C1487.4,1221.9 1488.0,1222.0 1488.7,1222.1 C1489.4,1222.2 1490.0,1222.3 1490.7,1222.4 C1491.4,1222.5 1492.0,1222.6 1492.7,1222.7 C1493.4,1222.8 1494.0,1222.9 1494.7,1223.0 C1495.4,1223.1 1496.0,1223.2 1496.7,1223.3 C1497.4,1223.4 1498.0,1223.5 1498.7,1223.6 C1499.4,1223.7 1500.0,1223.8 1500.7,1223.9 C1501.4,1224.0 1502.0,1224.1 1502.7,1224.2 C1503.4,1224.3 1504.0,1224.4 1504.7,1224.5 C1505.4,1224.6 1506.0,1224.7 1506.7,1224.8 C1507.4,1224.9 1508.0,1224.9 1508.7,1225.0 C1509.4,1225.1 1510.0,1225.2 1510.7,1225.3 C1511.4,1225.4 1512.0,1225.5 1512.7,1225.6 C1513.4,1225.7 1514.0,1225.7 1514.7,1225.8 C1515.4,1225.9 1516.0,1226.0 1516.7,1226.1 C1517.4,1226.2 1518.0,1226.2 1518.7,1226.3 C1519.4,1226.4 1520.0,1226.5 1520.7,1226.6 C1521.4,1226.7 1522.0,1226.7 1522.7,1226.8 C1523.4,1226.9 1524.0,1227.0 1524.7,1227.1 C1525.4,1227.2 1526.0,1227.2 1526.7,1227.3 C1527.4,1227.4 1528.0,1227.5 1528.7,1227.6 C1529.4,1227.7 1530.0,1227.7 1530.7,1227.8 C1531.4,1227.9 1532.0,1227.9 1532.7,1228.0 C1533.4,1228.1 1534.0,1228.1 1534.7,1228.2 C1535.4,1228.3 1536.0,1228.4 1536.7,1228.5 C1537.4,1228.6 1538.1,1228.6 1538.8,1228.7 C1539.5,1228.8 1540.1,1228.8 1540.8,1228.9 C1541.5,1229.0 1542.1,1229.0 1542.8,1229.1 C1543.5,1229.2 1544.1,1229.2 1544.8,1229.3 C1545.5,1229.4 1546.1,1229.4 1546.8,1229.5 C1547.5,1229.6 1548.1,1229.6 1548.8,1229.7 C1549.5,1229.8 1550.1,1229.8 1550.8,1229.9 C1551.5,1230.0 1552.1,1230.0 1552.8,1230.1 C1553.5,1230.2 1554.2,1230.2 1554.9,1230.3 C1555.6,1230.4 1556.2,1230.4 1556.9,1230.5 C1557.6,1230.6 1558.2,1230.6 1558.9,1230.7 C1559.6,1230.8 1560.2,1230.8 1560.9,1230.9 C1561.6,1231.0 1562.2,1231.0 1562.9,1231.1 C1563.6,1231.2 1564.2,1231.2 1564.9,1231.3 C1565.6,1231.4 1566.2,1231.5 1566.9,1231.5 C1567.6,1231.5 1568.3,1231.5 1569.0,1231.6 C1569.7,1231.6 1570.3,1231.7 1571.0,1231.8 C1571.7,1231.9 1572.3,1232.0 1573.0,1232.0 C1573.7,1232.0 1574.3,1232.0 1575.0,1232.1 C1575.7,1232.1 1576.3,1232.2 1577.0,1232.3 C1577.7,1232.4 1578.3,1232.5 1579.0,1232.5 C1579.7,1232.5 1580.3,1232.5 1581.0,1232.6 C1581.7,1232.6 1582.4,1232.7 1583.1,1232.8 C1583.8,1232.9 1584.4,1233.0 1585.1,1233.0 C1585.8,1233.0 1586.4,1233.0 1587.1,1233.1 C1587.8,1233.1 1588.4,1233.2 1589.1,1233.3 C1589.8,1233.3 1590.4,1233.4 1591.1,1233.4 C1591.8,1233.5 1592.4,1233.5 1593.1,1233.6 C1593.8,1233.6 1594.4,1233.7 1595.1,1233.7 C1595.8,1233.8 1596.5,1233.9 1597.2,1233.9 C1597.9,1234.0 1598.5,1234.0 1599.2,1234.0 C1599.9,1234.0 1600.5,1234.2 1601.2,1234.2 C1601.9,1234.2 1602.5,1234.2 1603.2,1234.3 C1603.9,1234.3 1604.5,1234.5 1605.2,1234.5 C1605.9,1234.5 1606.5,1234.5 1607.2,1234.6 C1607.9,1234.6 1608.5,1234.8 1609.2,1234.8 C1609.9,1234.8 1610.5,1234.9 1611.2,1234.9 C1611.9,1234.9 1612.5,1235.0 1613.2,1235.0 C1613.9,1235.0 1614.6,1235.2 1615.3,1235.2 C1616.0,1235.2 1616.6,1235.3 1617.3,1235.3 C1618.0,1235.3 1618.6,1235.4 1619.3,1235.4 C1620.0,1235.5 1620.6,1235.5 1621.3,1235.6 C1622.0,1235.6 1622.6,1235.7 1623.3,1235.7 C1624.0,1235.7 1624.6,1235.8 1625.3,1235.8 C1626.0,1235.8 1626.6,1235.9 1627.3,1235.9 C1628.0,1236.0 1628.6,1236.0 1629.3,1236.1 C1630.0,1236.1 1630.6,1236.2 1631.3,1236.2 C1632.0,1236.2 1632.6,1236.3 1633.3,1236.3 C1634.0,1236.3 1634.6,1236.4 1635.3,1236.4 C1636.0,1236.4 1636.6,1236.5 1637.3,1236.5 C1638.0,1236.5 1638.6,1236.7 1639.3,1236.7 C1640.0,1236.8 1640.6,1236.8 1641.3,1236.8 C1642.0,1236.8 1642.7,1236.9 1643.4,1236.9 C1644.1,1236.9 1644.7,1237.0 1645.4,1237.0 C1646.1,1237.0 1646.7,1237.1 1647.4,1237.1 C1648.1,1237.1 1648.7,1237.2 1649.4,1237.2 C1650.1,1237.2 1650.7,1237.3 1651.4,1237.3 C1652.1,1237.3 1652.7,1237.4 1653.4,1237.4 C1654.1,1237.4 1654.7,1237.5 1655.4,1237.5 C1656.1,1237.5 1656.7,1237.6 1657.4,1237.6 C1658.1,1237.6 1658.7,1237.7 1659.4,1237.7 C1660.1,1237.7 1660.7,1237.8 1661.4,1237.8 C1662.1,1237.8 1662.7,1237.9 1663.4,1237.9 C1664.1,1237.9 1664.7,1238.0 1665.4,1238.0 C1666.1,1238.0 1666.7,1238.1 1667.4,1238.1 C1668.1,1238.1 1668.7,1238.2 1669.4,1238.2 C1670.1,1238.2 1670.7,1238.3 1671.4,1238.3 C1672.1,1238.3 1672.7,1238.4 1673.4,1238.4 C1674.1,1238.4 1674.7,1238.5 1675.4,1238.5 C1676.1,1238.5 1676.7,1238.6 1677.4,1238.6 C1678.1,1238.6 1678.7,1238.7 1679.4,1238.7 C1680.1,1238.7 1680.7,1238.7 1681.4,1238.7 C1682.1,1238.7 1682.7,1238.8 1683.4,1238.8 C1684.1,1238.8 1684.7,1238.9 1685.4,1238.9 C1686.1,1238.9 1686.7,1239.0 1687.4,1239.0 C1688.1,1239.0 1688.7,1239.1 1689.4,1239.1 C1690.1,1239.1 1690.7,1239.2 1691.4,1239.2 C1692.1,1239.2 1692.7,1239.2 1693.4,1239.2 C1694.1,1239.2 1694.7,1239.3 1695.4,1239.3 C1696.1,1239.3 1696.7,1239.4 1697.4,1239.4 C1698.1,1239.4 1698.7,1239.5 1699.4,1239.5 C1700.1,1239.5 1700.7,1239.5 1701.4,1239.5 C1702.1,1239.5 1702.7,1239.6 1703.4,1239.6 C1704.1,1239.6 1704.7,1239.7 1705.4,1239.7 C1706.1,1239.7 1706.7,1239.7 1707.4,1239.7 C1708.1,1239.7 1708.7,1239.8 1709.4,1239.8 C1710.1,1239.8 1710.7,1239.9 1711.4,1239.9 C1712.1,1239.9 1712.7,1239.9 1713.4,1239.9 C1714.1,1239.9 1714.7,1240.0 1715.4,1240.0 C1716.1,1240.0 1716.7,1240.1 1717.4,1240.1 C1718.1,1240.1 1718.7,1240.1 1719.4,1240.1 C1720.1,1240.1 1720.8,1240.2 1721.4,1240.2 C1722.1,1240.2 1722.7,1240.3 1723.3,1240.3 C1723.9,1240.3 1724.6,1240.3 1725.3,1240.3 C1726.0,1240.3 1726.6,1240.4 1727.3,1240.4 C1728.0,1240.4 1728.6,1240.4 1729.3,1240.4 C1730.0,1240.4 1730.6,1240.5 1731.3,1240.5 C1732.0,1240.5 1732.6,1240.5 1733.3,1240.5 C1734.0,1240.5 1734.6,1240.6 1735.3,1240.6 C1736.0,1240.6 1736.6,1240.6 1737.3,1240.6 C1738.0,1240.6 1738.6,1240.7 1739.3,1240.7 C1740.0,1240.7 1740.6,1240.7 1741.3,1240.7 C1742.0,1240.7 1742.6,1240.8 1743.3,1240.8 C1744.0,1240.8 1744.6,1240.8 1745.3,1240.8 C1746.0,1240.8 1746.6,1240.9 1747.3,1240.9 C1748.0,1240.9 1748.6,1240.9 1749.3,1240.9 C1750.0,1240.9 1750.6,1241.0 1751.3,1241.0 C1752.0,1241.0 1752.6,1241.0 1753.3,1241.0 C1754.0,1241.0 1754.6,1241.1 1755.3,1241.1 C1756.0,1241.1 1756.5,1241.1 1757.2,1241.1 C1757.9,1241.1 1758.5,1241.1 1759.2,1241.1 C1759.9,1241.1 1760.5,1241.2 1761.2,1241.2 C1761.9,1241.2 1762.5,1241.2 1763.2,1241.2 C1763.9,1241.2 1764.5,1241.3 1765.2,1241.3 C1765.9,1241.3 1766.5,1241.3 1767.2,1241.3 C1767.9,1241.3 1768.5,1241.3 1769.2,1241.3 C1769.9,1241.3 1770.5,1241.4 1771.2,1241.4 C1771.9,1241.4 1772.5,1241.4 1773.2,1241.4 C1773.9,1241.4 1774.5,1241.4 1775.2,1241.4 C1775.9,1241.4 1776.5,1241.5 1777.2,1241.5 C1777.9,1241.5 1778.6,1241.5 1779.2,1241.5 C1779.8,1241.5 1780.4,1241.5 1781.1,1241.5 C1781.8,1241.5 1782.4,1241.6 1783.1,1241.6 C1783.8,1241.6 1784.4,1241.6 1785.1,1241.6 C1785.8,1241.6 1786.4,1241.6 1787.1,1241.6 C1787.8,1241.6 1788.4,1241.6 1789.1,1241.6 C1789.8,1241.6 1790.4,1241.7 1791.1,1241.7 C1791.8,1241.7 1792.4,1241.7 1793.1,1241.7 C1793.8,1241.7 1794.4,1241.7 1795.1,1241.7 C1795.8,1241.7 1796.4,1241.7 1797.1,1241.7 C1797.8,1241.7 1798.4,1241.8 1799.1,1241.8 C1799.8,1241.8 1800.4,1241.8 1801.1,1241.8 C1801.8,1241.8 1802.3,1241.8 1803.0,1241.8 C1803.7,1241.8 1804.3,1241.8 1805.0,1241.8 C1805.7,1241.8 1806.3,1241.8 1807.0,1241.8 C1807.7,1241.8 1808.3,1241.9 1809.0,1241.9 C1809.7,1241.9 1810.3,1241.9 1811.0,1241.9 C1811.7,1241.9 1812.3,1241.9 1813.0,1241.9 C1813.7,1241.9 1814.3,1241.9 1815.0,1241.9 C1815.7,1241.9 1816.3,1241.9 1817.0,1241.9 C1817.7,1241.9 1818.3,1242.0 1819.0,1242.0 C1819.7,1242.0 1820.2,1242.0 1820.9,1242.0 C1821.6,1242.0 1822.2,1242.0 1822.9,1242.0 C1823.6,1242.0 1824.2,1242.0 1824.9,1242.0 C1825.6,1242.0 1826.2,1242.0 1826.9,1242.0 C1827.6,1242.0 1828.2,1242.0 1828.9,1242.0 C1829.6,1242.0 1830.2,1242.0 1830.9,1242.0 C1831.6,1242.0 1832.2,1242.0 1832.9,1242.0 C1833.6,1242.0 1834.2,1242.0 1834.9,1242.0 C1835.6,1242.0 1836.2,1242.1 1836.9,1242.1 C1837.6,1242.1 1838.2,1242.1 1838.8,1242.1 C1839.4,1242.1 1840.1,1242.1 1840.8,1242.1 C1841.5,1242.1 1842.1,1242.1 1842.8,1242.1 C1843.5,1242.1 1844.1,1242.1 1844.8,1242.1 C1845.5,1242.1 1846.1,1242.1 1846.8,1242.1 C1847.5,1242.1 1848.1,1242.1 1848.8,1242.1 C1849.5,1242.1 1850.1,1242.1 1850.8,1242.1 C1851.5,1242.1 1852.1,1242.1 1852.8,1242.1 C1853.5,1242.1 1854.1,1242.1 1854.8,1242.1 C1855.5,1242.1 1856.0,1242.1 1856.7,1242.1 C1857.4,1242.1 1858.0,1242.1 1858.7,1242.1 C1859.4,1242.1 1860.0,1242.1 1860.7,1242.1 C1861.4,1242.1 1862.0,1242.1 1862.7,1242.1 C1863.4,1242.1 1864.0,1242.1 1864.7,1242.1 C1865.4,1242.1 1866.0,1242.1 1866.7,1242.1 C1867.4,1242.1 1868.0,1242.1 1868.7,1242.1 C1869.4,1242.1 1870.1,1242.1 1870.7,1242.1 C1871.3,1242.1 1871.9,1242.1 1872.6,1242.1 C1873.2,1242.1 1873.9,1242.1 1874.6,1242.1 C1875.3,1242.1 1875.9,1242.1 1876.6,1242.1 C1877.3,1242.1 1877.9,1242.1 1878.6,1242.1 C1879.3,1242.1 1879.9,1242.1 1880.6,1242.1 C1881.3,1242.1 1881.9,1242.1 1882.6,1242.1 C1883.3,1242.1 1883.9,1242.1 1884.6,1242.1 C1885.3,1242.1 1885.9,1242.1 1886.6,1242.1 C1887.3,1242.1 1887.9,1242.1 1888.6,1242.1 C1889.2,1242.1 1889.8,1242.1 1890.5,1242.1 C1891.2,1242.1 1891.8,1242.1 1892.5,1242.1 C1893.2,1242.1 1893.8,1242.1 1894.5,1242.1 C1895.2,1242.1 1895.8,1242.1 1896.5,1242.1 C1897.2,1242.1 1897.8,1242.1 1898.5,1242.1 C1899.2,1242.1 1899.8,1242.1 1900.5,1242.1 C1901.2,1242.1 1901.8,1242.0 1902.5,1242.0 C1903.2,1242.0 1903.8,1242.0 1904.5,1242.0 C1905.2,1242.0 1905.8,1242.0 1906.4,1242.0 C1907.1,1242.0 1907.7,1242.0 1908.4,1242.0 C1909.1,1242.0 1909.7,1242.0 1910.4,1242.0 C1911.1,1242.0 1911.7,1242.0 1912.4,1242.0 C1913.1,1242.0 1913.7,1242.0 1914.4,1242.0 C1915.1,1242.0 1915.7,1242.0 1916.4,1242.0 C1917.1,1242.0 1917.7,1242.0 1918.4,1242.0 C1919.1,1242.0 1919.7,1242.0 1920.4,1242.0 C1921.1,1242.0 1921.8,1242.0 1922.4,1242.0 C1923.1,1242.0 1923.7,1241.9 1924.3,1241.9 C1924.9,1241.9 1925.6,1241.9 1926.3,1241.9 C1927.0,1241.9 1927.6,1241.9 1928.3,1241.9 C1929.0,1241.9 1929.6,1241.9 1930.3,1241.9 C1931.0,1241.9 1931.6,1241.9 1932.3,1241.9 C1933.0,1241.9 1933.6,1241.9 1934.3,1241.9 C1935.0,1241.9 1935.6,1241.9 1936.3,1241.9 C1937.0,1241.9 1937.6,1241.9 1938.3,1241.9 C1939.0,1241.9 1939.6,1241.9 1940.3,1241.9 C1941.0,1241.9 1941.6,1241.8 1942.3,1241.8 C1943.0,1241.8 1943.5,1241.8 1944.2,1241.8 C1944.9,1241.8 1945.5,1241.8 1946.2,1241.8 C1946.9,1241.8 1947.5,1241.8 1948.2,1241.8 C1948.9,1241.8 1949.5,1241.8 1950.2,1241.8 C1950.9,1241.8 1951.5,1241.8 1952.2,1241.8 C1952.9,1241.8 1953.5,1241.8 1954.2,1241.8 C1954.9,1241.8 1955.5,1241.8 1956.2,1241.8 C1956.9,1241.8 1957.5,1241.7 1958.2,1241.7 C1958.9,1241.7 1959.5,1241.7 1960.2,1241.7 C1960.9,1241.7 1961.6,1241.7 1962.2,1241.7 C1962.8,1241.7 1963.4,1241.7 1964.1,1241.7 C1964.8,1241.7 1965.4,1241.7 1966.1,1241.7 C1966.8,1241.7 1967.4,1241.7 1968.1,1241.7 C1968.8,1241.7 1969.4,1241.7 1970.1,1241.7 C1970.8,1241.7 1971.4,1241.6 1972.1,1241.6 C1972.8,1241.6 1973.4,1241.6 1974.1,1241.6 C1974.8,1241.6 1975.4,1241.6 1976.1,1241.6 C1976.8,1241.6 1977.4,1241.6 1978.1,1241.6 C1978.8,1241.6 1979.4,1241.6 1980.1,1241.6 C1980.8,1241.6 1981.4,1241.6 1982.1,1241.6 C1982.8,1241.6 1983.4,1241.6 1984.1,1241.6 C1984.8,1241.6 1985.3,1241.5 1986.0,1241.5 C1986.7,1241.5 1987.3,1241.5 1988.0,1241.5 C1988.7,1241.5 1989.3,1241.5 1990.0,1241.5 C1990.7,1241.5 1991.3,1241.5 1992.0,1241.5 C1992.7,1241.5 1993.3,1241.5 1994.0,1241.5 C1994.7,1241.5 1995.3,1241.5 1996.0,1241.5 C1996.7,1241.5 1997.3,1241.5 1998.0,1241.5 C1998.7,1241.5 1999.3,1241.4 2000.0,1241.4 C2000.7,1241.4 2001.3,1241.4 2002.0,1241.4 C2002.7,1241.4 2003.3,1241.4 2004.0,1241.4 C2004.7,1241.4 2005.3,1241.4 2006.0,1241.4 C2006.7,1241.4 2007.3,1241.4 2008.0,1241.4 C2008.7,1241.4 2009.3,1241.4 2010.0,1241.4 C2010.7,1241.4 2011.3,1241.4 2012.0,1241.4 C2012.7,1241.4 2013.2,1241.4 2013.9,1241.4 C2014.6,1241.4 2015.2,1241.3 2015.9,1241.3 C2016.6,1241.3 2017.2,1241.3 2017.9,1241.3 C2018.6,1241.3 2019.2,1241.3 2019.9,1241.3 C2020.6,1241.3 2021.2,1241.3 2021.9,1241.3 C2022.6,1241.3 2023.2,1241.3 2023.9,1241.3 C2024.6,1241.3 2025.2,1241.3 2025.9,1241.3 C2026.6,1241.3 2027.2,1241.3 2027.9,1241.3 C2028.6,1241.3 2029.2,1241.3 2029.9,1241.3 C2030.6,1241.3 2031.2,1241.2 2031.9,1241.2 C2032.6,1241.2 2033.2,1241.2 2033.9,1241.2 C2034.6,1241.2 2035.2,1241.2 2035.9,1241.2 C2036.6,1241.2 2037.2,1241.2 2037.9,1241.2 C2038.6,1241.2 2039.2,1241.2 2039.9,1241.2 C2040.6,1241.2 2041.2,1241.2 2041.9,1241.2 C2042.6,1241.2 2043.2,1241.2 2043.9,1241.2 C2044.6,1241.2 2045.2,1241.2 2045.9,1241.2 C2046.6,1241.2 2047.2,1241.2 2047.9,1241.2 C2048.6,1241.2 2049.2,1241.2 2049.9,1241.2 C2050.6,1241.2 2051.2,1241.1 2051.9,1241.1 C2052.6,1241.1 2053.2,1241.1 2053.9,1241.1 C2054.6,1241.1 2055.2,1241.1 2055.9,1241.1 C2056.6,1241.1 2057.2,1241.1 2057.9,1241.1 C2058.6,1241.1 2059.2,1241.1 2059.9,1241.1 C2060.6,1241.1 2061.2,1241.1 2061.9,1241.1 C2062.6,1241.1 2063.2,1241.1 2063.9,1241.1 C2064.6,1241.1 2065.2,1241.1 2065.9,1241.1 C2066.6,1241.1 2067.2,1241.1 2067.9,1241.1 C2068.6,1241.1 2069.2,1241.1 2069.9,1241.1 C2070.6,1241.1 2071.2,1241.1 2071.9,1241.1 C2072.6,1241.1 2073.2,1241.1 2073.9,1241.1 C2074.6,1241.1 2075.2,1241.1 2075.9,1241.1 C2076.6,1241.1 2077.2,1241.1 2077.9,1241.1 C2078.6,1241.1 2079.2,1241.1 2079.9,1241.1 C2080.6,1241.1 2081.2,1241.1 2081.9,1241.1 C2082.6,1241.1 2083.2,1241.1 2083.9,1241.1 C2084.6,1241.1 2085.2,1241.1 2085.9,1241.1 C2086.6,1241.1 2087.2,1241.1 2087.9,1241.1 C2088.6,1241.1 2089.2,1241.1 2089.9,1241.1 C2090.6,1241.1 2091.2,1241.1 2091.9,1241.1 C2092.6,1241.1 2093.2,1241.1 2093.9,1241.1 C2094.6,1241.1 2095.2,1241.1 2095.9,1241.1 C2096.6,1241.1 2097.2,1241.1 2097.9,1241.1 C2098.6,1241.1 2099.2,1241.1 2099.9,1241.1 C2100.6,1241.1 2101.2,1241.1 2101.9,1241.1 C2102.6,1241.1 2103.2,1241.1 2103.9,1241.1 C2104.6,1241.1 2105.2,1241.1 2105.9,1241.1 C2106.6,1241.1 2107.2,1241.1 2107.9,1241.1 C2108.6,1241.1 2109.2,1241.1 2109.9,1241.1 C2110.6,1241.1 2111.2,1241.1 2111.9,1241.1 C2112.6,1241.1 2113.2,1241.1 2113.9,1241.1 C2114.6,1241.1 2115.2,1241.1 2115.9,1241.1 C2116.6,1241.1 2117.2,1241.1 2117.9,1241.1 C2118.6,1241.1 2119.2,1241.1 2119.9,1241.1 C2120.6,1241.1 2121.2,1241.1 2121.9,1241.1 C2122.6,1241.1 2123.3,1241.1 2124.0,1241.1 C2124.7,1241.1 2125.3,1241.1 2126.0,1241.1 C2126.7,1241.1 2127.3,1241.1 2128.0,1241.1 C2128.7,1241.1 2129.3,1241.1 2130.0,1241.1 C2130.7,1241.1 2131.3,1241.2 2132.0,1241.2 C2132.7,1241.2 2133.3,1241.2 2134.0,1241.2 C2134.7,1241.2 2135.3,1241.2 2136.0,1241.2 C2136.7,1241.2 2137.3,1241.2 2138.0,1241.2 C2138.7,1241.2 2139.3,1241.2 2140.0,1241.2 C2140.7,1241.2 2141.3,1241.2 2142.0,1241.2 C2142.7,1241.2 2143.3,1241.2 2144.0,1241.2 C2144.7,1241.2 2145.4,1241.3 2146.1,1241.3 C2146.8,1241.3 2147.4,1241.3 2148.1,1241.3 C2148.8,1241.3 2149.4,1241.3 2150.1,1241.3 C2150.8,1241.3 2151.4,1241.3 2152.1,1241.3 C2152.8,1241.3 2153.4,1241.3 2154.1,1241.3 C2154.8,1241.3 2155.4,1241.3 2156.1,1241.3 C2156.8,1241.3 2157.4,1241.4 2158.1,1241.4 C2158.8,1241.4 2159.4,1241.4 2160.1,1241.4 C2160.8,1241.4 2161.5,1241.4 2162.2,1241.4 C2162.9,1241.4 2163.5,1241.4 2164.2,1241.4 C2164.9,1241.4 2165.5,1241.5 2166.2,1241.5 C2166.9,1241.5 2167.5,1241.5 2168.2,1241.5 C2168.9,1241.5 2169.5,1241.5 2170.2,1241.5 C2170.9,1241.5 2171.5,1241.5 2172.2,1241.5 C2172.9,1241.5 2173.5,1241.6 2174.2,1241.6 C2174.9,1241.6 2175.6,1241.6 2176.3,1241.6 C2177.0,1241.6 2177.6,1241.6 2178.3,1241.6 C2179.0,1241.6 2179.6,1241.7 2180.3,1241.7 C2181.0,1241.7 2181.6,1241.7 2182.3,1241.7 C2183.0,1241.7 2183.6,1241.7 2184.3,1241.7 C2185.0,1241.7 2185.6,1241.7 2186.3,1241.7 C2187.0,1241.7 2187.7,1241.8 2188.4,1241.8 C2189.1,1241.8 2189.7,1241.8 2190.4,1241.8 C2191.1,1241.8 2191.7,1241.8 2192.4,1241.8 C2193.1,1241.8 2193.7,1241.9 2194.4,1241.9 C2195.1,1241.9 2195.7,1241.9 2196.4,1241.9 C2197.1,1241.9 2197.8,1242.0 2198.5,1242.0 C2199.2,1242.0 2199.8,1242.0 2200.5,1242.0 C2201.2,1242.0 2201.8,1242.0 2202.5,1242.0 C2203.2,1242.0 2203.8,1242.1 2204.5,1242.1 C2205.2,1242.1 2205.8,1242.1 2206.5,1242.1 C2207.2,1242.1 2207.9,1242.2 2208.6,1242.2 C2209.3,1242.2 2209.9,1242.2 2210.6,1242.2 C2211.3,1242.2 2211.9,1242.3 2212.6,1242.3 C2213.3,1242.3 2214.3,1242.3 2214.6,1242.3" fill="none" stroke="#FFFF00" stroke-width="13.8" stroke-linecap="round" stroke-linejoin="round" shape-rendering="crispEdges" clip-path="url(#pc)"/>
<path d="M273.5,270.0 C274.4,268.8 277.1,264.3 279.0,263.0 C280.9,261.7 283.2,260.5 285.0,262.0 C286.8,263.5 287.9,259.0 290.0,272.0 C292.1,285.0 292.7,280.3 297.5,340.0 C302.3,399.7 312.3,536.7 319.0,630.0 C325.7,723.3 333.2,845.0 337.5,900.0 C341.8,955.0 342.8,946.7 344.5,960.0 C346.2,973.3 346.2,973.3 347.5,980.0 C348.8,986.7 350.5,993.3 352.3,1000.0 C354.1,1006.7 356.2,1014.3 358.5,1020.0 C360.8,1025.7 363.2,1030.2 366.0,1034.0 C368.8,1037.8 371.8,1040.6 375.0,1042.5 C378.2,1044.4 381.3,1045.6 385.0,1045.5 C388.7,1045.4 392.8,1045.1 397.0,1042.0 C401.2,1038.9 405.3,1033.8 410.0,1027.0 C414.7,1020.2 420.1,1008.8 425.0,1001.0 C429.9,993.2 434.5,986.8 439.5,980.0 C444.5,973.2 450.1,964.8 455.0,960.0 C459.9,955.2 464.5,952.2 469.0,951.5 C473.5,950.8 477.7,951.2 482.0,956.0 C486.3,960.8 491.7,973.7 495.0,980.0 C498.3,986.3 499.3,988.0 501.8,993.8 C504.3,999.6 507.1,1008.1 510.0,1015.0 C512.9,1021.9 516.3,1029.2 519.0,1035.0 C521.7,1040.8 523.7,1044.5 526.4,1050.0 C529.1,1055.5 532.4,1063.2 535.0,1068.0 C537.6,1072.8 539.4,1076.2 542.0,1079.0 C544.6,1081.8 547.5,1084.3 550.5,1084.6 C553.5,1084.9 556.8,1083.4 560.0,1081.0 C563.2,1078.6 566.7,1074.0 570.0,1070.0 C573.3,1066.0 576.7,1060.5 580.0,1057.0 C583.3,1053.5 586.7,1051.8 590.0,1049.0 C593.3,1046.2 596.7,1043.4 600.0,1040.4 C603.3,1037.4 606.7,1033.8 610.0,1031.0 C613.3,1028.2 616.7,1025.5 620.0,1023.4 C623.3,1021.3 627.1,1019.6 630.0,1018.5 C632.9,1017.4 634.4,1016.4 637.4,1016.5 C640.4,1016.6 644.7,1017.2 648.0,1019.0 C651.3,1020.8 653.3,1022.7 657.0,1027.0 C660.7,1031.3 666.4,1039.2 670.0,1045.0 C673.6,1050.8 675.2,1055.0 678.5,1061.7 C681.8,1068.4 685.6,1077.0 690.0,1085.0 C694.4,1093.0 699.2,1102.0 705.0,1110.0 C710.8,1118.0 716.0,1126.9 725.0,1133.0 C734.0,1139.1 753.2,1144.1 759.2,1146.5 C765.2,1148.9 760.3,1147.2 760.9,1147.5 C761.5,1147.8 762.1,1148.0 762.8,1148.2 C763.4,1148.4 764.1,1148.6 764.8,1148.8 C765.4,1149.0 766.1,1149.2 766.7,1149.4 C767.4,1149.6 768.1,1149.9 768.7,1150.1 C769.4,1150.3 770.0,1150.5 770.6,1150.7 C771.2,1150.9 771.9,1151.1 772.5,1151.3 C773.1,1151.5 773.9,1151.7 774.5,1151.9 C775.1,1152.1 775.8,1152.3 776.4,1152.5 C777.0,1152.7 777.6,1152.9 778.3,1153.1 C778.9,1153.3 779.6,1153.5 780.3,1153.7 C780.9,1153.9 781.6,1154.1 782.2,1154.3 C782.9,1154.5 783.6,1154.6 784.2,1154.8 C784.9,1155.0 785.5,1155.2 786.1,1155.4 C786.7,1155.6 787.4,1155.7 788.0,1155.9 C788.6,1156.1 789.4,1156.2 790.0,1156.4 C790.6,1156.6 791.3,1156.7 791.9,1156.9 C792.5,1157.1 793.1,1157.2 793.8,1157.4 C794.4,1157.6 795.1,1157.7 795.8,1157.8 C796.4,1157.9 797.1,1158.1 797.7,1158.3 C798.3,1158.5 799.0,1158.6 799.6,1158.7 C800.2,1158.8 801.0,1159.0 801.6,1159.1 C802.2,1159.2 802.9,1159.3 803.5,1159.4 C804.1,1159.5 804.8,1159.6 805.4,1159.7 C806.0,1159.8 806.8,1159.9 807.4,1160.0 C808.0,1160.1 808.7,1160.2 809.3,1160.3 C809.9,1160.4 810.6,1160.5 811.2,1160.6 C811.9,1160.7 812.6,1160.8 813.2,1160.8 C813.9,1160.8 814.5,1160.9 815.1,1160.9 C815.8,1161.0 816.5,1161.0 817.1,1161.1 C817.8,1161.1 818.4,1161.2 819.0,1161.2 C819.6,1161.2 820.2,1161.2 820.9,1161.2 C821.5,1161.2 822.2,1161.2 822.9,1161.2 C823.5,1161.2 824.2,1161.2 824.8,1161.2 C825.4,1161.2 826.1,1161.2 826.7,1161.2 C827.4,1161.2 828.1,1161.1 828.7,1161.1 C829.4,1161.1 830.0,1161.0 830.6,1161.0 C831.2,1161.0 831.9,1160.9 832.5,1160.8 C833.1,1160.7 833.9,1160.7 834.5,1160.6 C835.1,1160.5 835.8,1160.5 836.4,1160.4 C837.0,1160.3 837.8,1160.3 838.4,1160.2 C839.0,1160.1 839.7,1160.0 840.3,1159.9 C840.9,1159.8 841.6,1159.7 842.2,1159.6 C842.9,1159.5 843.6,1159.4 844.2,1159.3 C844.9,1159.2 845.5,1159.0 846.1,1158.9 C846.7,1158.8 847.4,1158.7 848.0,1158.6 C848.6,1158.5 849.4,1158.2 850.0,1158.1 C850.6,1157.9 851.2,1157.8 851.9,1157.7 C852.5,1157.6 853.2,1157.5 853.9,1157.3 C854.5,1157.1 855.2,1157.0 855.8,1156.8 C856.4,1156.6 857.1,1156.5 857.7,1156.3 C858.4,1156.1 859.1,1156.0 859.7,1155.8 C860.4,1155.6 861.0,1155.5 861.6,1155.3 C862.2,1155.1 863.0,1155.0 863.6,1154.8 C864.2,1154.6 864.9,1154.4 865.5,1154.2 C866.1,1154.0 866.8,1153.8 867.4,1153.6 C868.0,1153.4 868.8,1153.2 869.4,1153.0 C870.0,1152.8 870.6,1152.6 871.3,1152.4 C871.9,1152.2 872.6,1152.0 873.3,1151.8 C873.9,1151.6 874.6,1151.4 875.2,1151.2 C875.8,1151.0 876.5,1150.8 877.1,1150.6 C877.8,1150.4 878.5,1150.1 879.1,1149.9 C879.8,1149.7 880.4,1149.5 881.0,1149.3 C881.6,1149.1 882.4,1148.8 883.0,1148.6 C883.6,1148.4 884.2,1148.2 884.9,1148.0 C885.5,1147.8 886.2,1147.5 886.9,1147.3 C887.5,1147.1 888.1,1146.8 888.8,1146.6 C889.4,1146.4 890.1,1146.2 890.8,1146.0 C891.4,1145.8 892.1,1145.5 892.7,1145.3 C893.3,1145.1 894.0,1144.8 894.6,1144.6 C895.2,1144.4 896.0,1144.1 896.6,1143.9 C897.2,1143.7 897.9,1143.5 898.5,1143.3 C899.1,1143.1 899.9,1142.8 900.5,1142.6 C901.1,1142.4 901.8,1142.1 902.4,1141.9 C903.0,1141.7 903.8,1141.4 904.4,1141.2 C905.0,1141.0 905.6,1140.8 906.3,1140.6 C906.9,1140.4 907.6,1140.1 908.3,1139.9 C908.9,1139.7 909.6,1139.5 910.2,1139.3 C910.9,1139.1 911.6,1138.8 912.2,1138.6 C912.9,1138.4 913.5,1138.2 914.1,1138.0 C914.8,1137.8 915.5,1137.6 916.1,1137.4 C916.8,1137.2 917.4,1137.0 918.0,1136.8 C918.6,1136.6 919.2,1136.4 919.9,1136.2 C920.5,1136.0 921.2,1135.8 921.9,1135.6 C922.5,1135.4 923.1,1135.2 923.8,1135.0 C924.4,1134.8 925.1,1134.6 925.8,1134.4 C926.4,1134.2 927.1,1134.1 927.7,1133.9 C928.4,1133.7 929.1,1133.6 929.7,1133.4 C930.4,1133.2 931.0,1133.0 931.6,1132.8 C932.2,1132.6 933.0,1132.6 933.6,1132.4 C934.2,1132.2 934.9,1132.1 935.5,1131.9 C936.1,1131.7 936.9,1131.6 937.5,1131.4 C938.1,1131.2 938.8,1131.1 939.4,1131.0 C940.0,1130.9 940.7,1130.7 941.4,1130.6 C942.1,1130.5 942.8,1130.3 943.4,1130.2 C944.0,1130.1 944.6,1129.9 945.3,1129.8 C945.9,1129.7 946.6,1129.6 947.3,1129.5 C947.9,1129.4 948.6,1129.3 949.2,1129.2 C949.9,1129.1 950.6,1129.0 951.2,1128.9 C951.9,1128.8 952.5,1128.7 953.1,1128.6 C953.8,1128.5 954.5,1128.4 955.1,1128.3 C955.8,1128.2 956.4,1128.2 957.0,1128.1 C957.6,1128.0 958.4,1128.0 959.0,1127.9 C959.6,1127.8 960.2,1127.8 960.9,1127.7 C961.5,1127.6 962.2,1127.6 962.9,1127.5 C963.6,1127.4 964.2,1127.4 964.9,1127.3 C965.5,1127.2 966.1,1127.1 966.8,1127.1 C967.4,1127.0 968.1,1127.0 968.8,1127.0 C969.4,1127.0 970.1,1126.9 970.7,1126.9 C971.4,1126.9 972.0,1126.8 972.7,1126.8 C973.4,1126.8 974.1,1126.7 974.7,1126.7 C975.4,1126.7 976.0,1126.6 976.6,1126.6 C977.2,1126.6 978.0,1126.5 978.6,1126.5 C979.2,1126.5 979.9,1126.5 980.5,1126.5 C981.1,1126.5 981.8,1126.4 982.5,1126.4 C983.2,1126.4 983.9,1126.4 984.5,1126.4 C985.1,1126.4 985.8,1126.4 986.4,1126.4 C987.0,1126.4 987.7,1126.3 988.4,1126.3 C989.1,1126.3 989.7,1126.3 990.4,1126.3 C991.1,1126.3 991.8,1126.4 992.4,1126.4 C993.0,1126.4 993.6,1126.4 994.3,1126.4 C994.9,1126.4 995.6,1126.4 996.3,1126.4 C997.0,1126.4 997.6,1126.4 998.3,1126.4 C999.0,1126.4 999.6,1126.5 1000.3,1126.5 C1000.9,1126.5 1001.6,1126.5 1002.2,1126.5 C1002.9,1126.5 1003.5,1126.6 1004.2,1126.6 C1004.9,1126.6 1005.5,1126.6 1006.2,1126.6 C1006.9,1126.6 1007.5,1126.7 1008.2,1126.7 C1008.9,1126.7 1009.6,1126.8 1010.2,1126.8 C1010.9,1126.8 1011.5,1126.8 1012.1,1126.8 C1012.8,1126.8 1013.4,1126.9 1014.1,1126.9 C1014.8,1126.9 1015.4,1127.0 1016.1,1127.0 C1016.8,1127.0 1017.4,1127.1 1018.1,1127.1 C1018.8,1127.1 1019.4,1127.2 1020.1,1127.2 C1020.8,1127.2 1021.4,1127.3 1022.1,1127.3 C1022.8,1127.3 1023.4,1127.4 1024.1,1127.4 C1024.8,1127.4 1025.4,1127.4 1026.1,1127.4 C1026.8,1127.4 1027.4,1127.5 1028.1,1127.5 C1028.8,1127.5 1029.4,1127.6 1030.1,1127.6 C1030.8,1127.6 1031.4,1127.7 1032.1,1127.7 C1032.8,1127.7 1033.4,1127.8 1034.1,1127.8 C1034.8,1127.8 1035.4,1127.9 1036.1,1127.9 C1036.8,1127.9 1037.4,1128.0 1038.1,1128.0 C1038.8,1128.0 1039.4,1128.0 1040.1,1128.0 C1040.8,1128.0 1041.4,1128.1 1042.1,1128.1 C1042.8,1128.1 1043.4,1128.2 1044.1,1128.2 C1044.8,1128.2 1045.4,1128.3 1046.1,1128.3 C1046.8,1128.3 1047.4,1128.3 1048.1,1128.3 C1048.8,1128.3 1049.5,1128.4 1050.2,1128.4 C1050.9,1128.4 1051.5,1128.4 1052.2,1128.4 C1052.9,1128.4 1053.5,1128.5 1054.2,1128.5 C1054.9,1128.5 1055.5,1128.5 1056.2,1128.5 C1056.9,1128.5 1057.5,1128.5 1058.2,1128.5 C1058.9,1128.5 1059.6,1128.6 1060.3,1128.6 C1061.0,1128.6 1061.6,1128.6 1062.3,1128.6 C1063.0,1128.6 1063.6,1128.6 1064.3,1128.6 C1065.0,1128.6 1065.6,1128.6 1066.3,1128.6 C1067.0,1128.6 1067.7,1128.6 1068.4,1128.6 C1069.1,1128.6 1069.7,1128.6 1070.4,1128.6 C1071.1,1128.6 1071.7,1128.5 1072.4,1128.5 C1073.1,1128.5 1073.7,1128.5 1074.4,1128.5 C1075.1,1128.5 1075.8,1128.5 1076.5,1128.5 C1077.2,1128.5 1077.8,1128.4 1078.5,1128.4 C1079.2,1128.4 1079.8,1128.4 1080.5,1128.4 C1081.2,1128.4 1081.8,1128.3 1082.5,1128.3 C1083.2,1128.3 1083.8,1128.2 1084.5,1128.2 C1085.2,1128.2 1085.8,1128.1 1086.5,1128.1 C1087.2,1128.1 1087.9,1128.0 1088.6,1128.0 C1089.3,1128.0 1089.9,1127.9 1090.6,1127.9 C1091.3,1127.9 1091.9,1127.8 1092.6,1127.8 C1093.3,1127.8 1093.9,1127.6 1094.6,1127.6 C1095.3,1127.5 1095.9,1127.5 1096.6,1127.5 C1097.3,1127.5 1097.9,1127.4 1098.6,1127.3 C1099.3,1127.2 1099.9,1127.2 1100.6,1127.1 C1101.3,1127.0 1101.9,1127.0 1102.6,1126.9 C1103.3,1126.8 1103.9,1126.8 1104.6,1126.7 C1105.3,1126.6 1105.9,1126.6 1106.6,1126.5 C1107.2,1126.4 1107.8,1126.4 1108.5,1126.3 C1109.2,1126.2 1109.8,1126.1 1110.5,1126.0 C1111.2,1125.9 1111.8,1125.9 1112.5,1125.8 C1113.2,1125.7 1113.8,1125.6 1114.5,1125.5 C1115.2,1125.4 1115.8,1125.3 1116.4,1125.2 C1117.1,1125.1 1117.8,1125.0 1118.4,1124.9 C1119.1,1124.8 1119.7,1124.7 1120.3,1124.6 C1120.9,1124.5 1121.6,1124.3 1122.3,1124.2 C1123.0,1124.1 1123.5,1124.0 1124.2,1123.9 C1124.9,1123.8 1125.6,1123.6 1126.2,1123.5 C1126.8,1123.4 1127.5,1123.2 1128.1,1123.1 C1128.7,1123.0 1129.4,1122.8 1130.0,1122.7 C1130.6,1122.6 1131.2,1122.4 1131.9,1122.2 C1132.6,1122.0 1133.2,1122.0 1133.9,1121.8 C1134.6,1121.6 1135.2,1121.4 1135.8,1121.3 C1136.4,1121.2 1137.1,1121.1 1137.7,1120.9 C1138.3,1120.8 1139.0,1120.6 1139.6,1120.4 C1140.2,1120.2 1140.8,1120.0 1141.4,1119.8 C1142.0,1119.6 1142.7,1119.5 1143.3,1119.3 C1143.9,1119.1 1144.6,1118.9 1145.2,1118.7 C1145.8,1118.5 1146.5,1118.3 1147.1,1118.1 C1147.7,1117.9 1148.3,1117.7 1148.9,1117.5 C1149.5,1117.3 1150.2,1117.1 1150.8,1116.9 C1151.4,1116.7 1152.0,1116.5 1152.6,1116.3 C1153.2,1116.1 1153.8,1115.8 1154.4,1115.6 C1155.0,1115.4 1155.6,1115.1 1156.2,1114.9 C1156.8,1114.7 1157.5,1114.4 1158.1,1114.2 C1158.7,1114.0 1159.3,1113.8 1159.9,1113.5 C1160.5,1113.2 1161.0,1113.0 1161.6,1112.7 C1162.2,1112.4 1162.8,1112.2 1163.4,1111.9 C1164.0,1111.6 1164.6,1111.4 1165.2,1111.1 C1165.8,1110.8 1166.4,1110.6 1167.0,1110.3 C1167.6,1110.0 1168.1,1109.8 1168.7,1109.5 C1169.3,1109.2 1169.9,1108.9 1170.5,1108.6 C1171.1,1108.3 1171.6,1108.0 1172.2,1107.7 C1172.8,1107.4 1173.3,1107.1 1173.9,1106.8 C1174.5,1106.5 1175.0,1106.1 1175.6,1105.8 C1176.2,1105.5 1176.7,1105.2 1177.3,1104.9 C1177.9,1104.6 1178.4,1104.2 1179.0,1103.9 C1179.6,1103.6 1180.1,1103.2 1180.7,1102.9 C1181.3,1102.6 1181.8,1102.2 1182.4,1101.8 C1183.0,1101.4 1183.5,1101.1 1184.1,1100.8 C1184.6,1100.5 1185.2,1100.1 1185.7,1099.7 C1186.2,1099.3 1186.9,1099.0 1187.4,1098.6 C1188.0,1098.2 1188.5,1097.9 1189.0,1097.5 C1189.5,1097.1 1190.1,1096.8 1190.6,1096.4 C1191.1,1096.0 1191.7,1095.7 1192.2,1095.3 C1192.8,1094.9 1193.4,1094.5 1193.9,1094.1 C1194.5,1093.7 1195.0,1093.4 1195.5,1093.0 C1196.0,1092.6 1196.6,1092.2 1197.1,1091.8 C1197.6,1091.4 1198.2,1091.0 1198.7,1090.6 C1199.2,1090.2 1199.7,1089.7 1200.2,1089.3 C1200.7,1088.9 1201.3,1088.5 1201.8,1088.1 C1202.3,1087.7 1202.9,1087.2 1203.4,1086.8 C1203.9,1086.4 1204.4,1086.0 1204.9,1085.6 C1205.4,1085.2 1206.0,1084.7 1206.5,1084.3 C1207.0,1083.9 1207.5,1083.4 1208.0,1083.0 C1208.5,1082.6 1209.1,1082.1 1209.6,1081.7 C1210.1,1081.3 1210.6,1080.8 1211.1,1080.4 C1211.6,1080.0 1212.1,1079.5 1212.6,1079.1 C1213.1,1078.6 1213.6,1078.2 1214.1,1077.7 C1214.6,1077.2 1215.2,1076.9 1215.7,1076.4 C1216.2,1076.0 1216.7,1075.5 1217.2,1075.0 C1217.7,1074.5 1218.2,1074.1 1218.7,1073.6 C1219.2,1073.1 1219.6,1072.7 1220.1,1072.2 C1220.6,1071.8 1221.1,1071.4 1221.6,1070.9 C1222.1,1070.5 1222.6,1070.0 1223.1,1069.5 C1223.6,1069.0 1224.1,1068.5 1224.6,1068.0 C1225.1,1067.5 1225.6,1067.1 1226.1,1066.6 C1226.6,1066.1 1227.0,1065.7 1227.5,1065.2 C1228.0,1064.7 1228.5,1064.3 1229.0,1063.8 C1229.5,1063.3 1229.9,1062.8 1230.4,1062.3 C1230.9,1061.8 1231.4,1061.4 1231.9,1060.9 C1232.4,1060.4 1232.8,1060.0 1233.3,1059.5 C1233.8,1059.0 1234.3,1058.5 1234.8,1058.0 C1235.3,1057.5 1235.7,1057.0 1236.2,1056.5 C1236.7,1056.0 1237.1,1055.6 1237.6,1055.1 C1238.1,1054.6 1238.5,1054.1 1239.0,1053.6 C1239.5,1053.1 1240.0,1052.6 1240.5,1052.1 C1241.0,1051.6 1241.4,1051.2 1241.9,1050.7 C1242.4,1050.2 1242.8,1049.7 1243.3,1049.2 C1243.8,1048.7 1244.2,1048.2 1244.7,1047.7 C1245.2,1047.2 1245.6,1046.7 1246.1,1046.2 C1246.6,1045.7 1247.0,1045.3 1247.5,1044.8 C1248.0,1044.3 1248.4,1043.8 1248.9,1043.3 C1249.4,1042.8 1249.8,1042.3 1250.3,1041.8 C1250.8,1041.3 1251.2,1040.8 1251.7,1040.3 C1252.2,1039.8 1252.6,1039.3 1253.1,1038.8 C1253.5,1038.3 1254.0,1037.8 1254.4,1037.3 C1254.9,1036.8 1255.3,1036.3 1255.8,1035.8 C1256.3,1035.3 1256.8,1034.8 1257.2,1034.3 C1257.7,1033.8 1258.0,1033.3 1258.5,1032.8 C1259.0,1032.3 1259.4,1031.8 1259.9,1031.3 C1260.4,1030.8 1260.8,1030.3 1261.3,1029.8 C1261.8,1029.3 1262.1,1028.8 1262.6,1028.3 C1263.0,1027.8 1263.5,1027.3 1264.0,1026.8 C1264.5,1026.3 1264.8,1025.8 1265.3,1025.3 C1265.8,1024.8 1266.2,1024.3 1266.7,1023.8 C1267.2,1023.3 1267.6,1022.8 1268.0,1022.3 C1268.4,1021.8 1268.8,1021.2 1269.3,1020.7 C1269.8,1020.2 1270.2,1019.7 1270.7,1019.2 C1271.2,1018.7 1271.6,1018.2 1272.0,1017.7 C1272.4,1017.2 1272.9,1016.7 1273.3,1016.2 C1273.7,1015.7 1274.1,1015.1 1274.6,1014.6 C1275.0,1014.1 1275.5,1013.6 1276.0,1013.1 C1276.5,1012.6 1276.9,1012.1 1277.3,1011.6 C1277.7,1011.1 1278.2,1010.5 1278.6,1010.0 C1279.0,1009.5 1279.5,1009.0 1279.9,1008.5 C1280.3,1008.0 1280.8,1007.5 1281.2,1007.0 C1281.6,1006.5 1282.1,1005.9 1282.5,1005.4 C1282.9,1004.9 1283.4,1004.4 1283.8,1003.9 C1284.2,1003.4 1284.7,1002.8 1285.1,1002.3 C1285.5,1001.8 1286.0,1001.3 1286.4,1000.8 C1286.8,1000.3 1287.2,999.7 1287.6,999.2 C1288.0,998.7 1288.5,998.2 1288.9,997.7 C1289.3,997.2 1289.8,996.6 1290.2,996.1 C1290.6,995.6 1291.1,995.1 1291.5,994.6 C1291.9,994.1 1292.3,993.5 1292.7,993.0 C1293.1,992.5 1293.6,992.0 1294.0,991.5 C1294.4,991.0 1294.9,990.4 1295.3,989.9 C1295.7,989.4 1296.1,988.8 1296.5,988.3 C1296.9,987.8 1297.4,987.3 1297.8,986.8 C1298.2,986.3 1298.6,985.7 1299.0,985.2 C1299.4,984.7 1299.9,984.1 1300.3,983.6 C1300.7,983.1 1301.1,982.5 1301.5,982.0 C1301.9,981.5 1302.4,981.0 1302.8,980.5 C1303.2,980.0 1303.6,979.4 1304.0,978.9 C1304.4,978.4 1304.8,977.8 1305.2,977.3 C1305.6,976.8 1306.1,976.2 1306.5,975.7 C1306.9,975.2 1307.3,974.6 1307.7,974.1 C1308.1,973.6 1308.5,973.1 1308.9,972.6 C1309.3,972.1 1309.7,971.5 1310.1,971.0 C1310.5,970.5 1311.0,969.9 1311.4,969.4 C1311.8,968.9 1312.2,968.3 1312.6,967.8 C1313.0,967.3 1313.4,966.7 1313.8,966.2 C1314.2,965.7 1314.6,965.1 1315.0,964.6 C1315.4,964.1 1315.8,963.5 1316.2,963.0 C1316.6,962.5 1317.0,961.9 1317.4,961.4 C1317.8,960.9 1318.2,960.3 1318.6,959.8 C1319.0,959.3 1319.4,958.7 1319.8,958.2 C1320.2,957.7 1320.6,957.1 1321.0,956.6 C1321.4,956.1 1321.8,955.5 1322.2,955.0 C1322.6,954.5 1323.0,953.9 1323.4,953.4 C1323.8,952.9 1324.2,952.3 1324.6,951.8 C1325.0,951.3 1325.3,950.7 1325.7,950.2 C1326.1,949.7 1326.5,949.1 1326.9,948.6 C1327.3,948.1 1327.7,947.5 1328.1,947.0 C1328.5,946.5 1328.9,945.8 1329.3,945.3 C1329.7,944.8 1330.0,944.2 1330.4,943.7 C1330.8,943.2 1331.2,942.6 1331.6,942.1 C1332.0,941.6 1332.4,941.0 1332.8,940.5 C1333.2,940.0 1333.5,939.4 1333.9,938.9 C1334.3,938.4 1334.7,937.8 1335.1,937.2 C1335.5,936.7 1335.8,936.1 1336.2,935.6 C1336.6,935.1 1337.0,934.5 1337.4,934.0 C1337.8,933.5 1338.1,932.9 1338.5,932.4 C1338.9,931.9 1339.3,931.2 1339.7,930.7 C1340.1,930.2 1340.4,929.6 1340.8,929.1 C1341.2,928.6 1341.6,928.0 1342.0,927.5 C1342.4,927.0 1342.7,926.3 1343.1,925.8 C1343.5,925.2 1343.8,924.7 1344.2,924.2 C1344.6,923.7 1345.0,923.2 1345.4,922.6 C1345.8,922.0 1346.1,921.5 1346.5,920.9 C1346.9,920.3 1347.2,919.8 1347.6,919.3 C1348.0,918.8 1348.3,918.1 1348.7,917.6 C1349.1,917.1 1349.5,916.5 1349.9,916.0 C1350.3,915.5 1350.6,914.9 1351.0,914.4 C1351.4,913.9 1351.7,913.2 1352.1,912.7 C1352.5,912.2 1352.8,911.7 1353.2,911.1 C1353.6,910.5 1353.9,910.0 1354.3,909.4 C1354.7,908.8 1355.0,908.3 1355.4,907.8 C1355.8,907.2 1356.1,906.6 1356.5,906.1 C1356.9,905.6 1357.2,905.0 1357.6,904.5 C1358.0,904.0 1358.3,903.4 1358.7,902.8 C1359.1,902.2 1359.4,901.6 1359.8,901.1 C1360.2,900.6 1360.5,900.0 1360.9,899.5 C1361.3,899.0 1361.6,898.3 1362.0,897.8 C1362.4,897.2 1362.7,896.8 1363.1,896.2 C1363.5,895.7 1363.8,895.1 1364.2,894.5 C1364.6,893.9 1364.9,893.3 1365.3,892.8 C1365.7,892.2 1366.1,891.8 1366.4,891.2 C1366.8,890.7 1367.1,890.1 1367.4,889.5 C1367.8,888.9 1368.1,888.3 1368.5,887.8 C1368.9,887.2 1369.2,886.8 1369.6,886.2 C1370.0,885.7 1370.3,885.1 1370.7,884.5 C1371.1,883.9 1371.4,883.3 1371.7,882.8 C1372.0,882.2 1372.4,881.8 1372.8,881.2 C1373.2,880.7 1373.6,880.1 1373.9,879.5 C1374.2,878.9 1374.6,878.4 1374.9,877.8 C1375.2,877.2 1375.7,876.6 1376.0,876.1 C1376.3,875.6 1376.7,875.0 1377.0,874.5 C1377.3,874.0 1377.7,873.4 1378.1,872.8 C1378.5,872.2 1378.8,871.7 1379.2,871.1 C1379.6,870.5 1379.9,870.0 1380.2,869.4 C1380.5,868.8 1381.0,868.2 1381.3,867.7 C1381.6,867.2 1381.9,866.7 1382.3,866.1 C1382.7,865.5 1383.1,865.0 1383.4,864.4 C1383.8,863.8 1384.1,863.3 1384.4,862.7 C1384.7,862.1 1385.1,861.6 1385.4,861.0 C1385.8,860.4 1386.2,859.9 1386.5,859.3 C1386.8,858.7 1387.2,858.2 1387.5,857.6 C1387.8,857.0 1388.2,856.5 1388.5,855.9 C1388.8,855.3 1389.2,854.8 1389.6,854.3 C1389.9,853.8 1390.3,853.2 1390.6,852.6 C1390.9,852.0 1391.2,851.5 1391.6,850.9 C1391.9,850.3 1392.3,849.8 1392.7,849.2 C1393.1,848.6 1393.4,848.1 1393.7,847.5 C1394.0,846.9 1394.4,846.4 1394.7,845.8 C1395.0,845.2 1395.4,844.7 1395.7,844.1 C1396.0,843.5 1396.4,843.0 1396.7,842.4 C1397.0,841.8 1397.5,841.3 1397.8,840.7 C1398.1,840.1 1398.5,839.6 1398.8,839.0 C1399.1,838.4 1399.5,837.9 1399.8,837.3 C1400.1,836.7 1400.5,836.2 1400.8,835.6 C1401.1,835.0 1401.5,834.5 1401.8,833.9 C1402.1,833.3 1402.5,832.8 1402.8,832.2 C1403.1,831.6 1403.5,831.1 1403.8,830.5 C1404.1,829.9 1404.5,829.4 1404.8,828.8 C1405.1,828.2 1405.5,827.7 1405.8,827.1 C1406.1,826.5 1406.5,826.0 1406.8,825.4 C1407.1,824.8 1407.5,824.3 1407.8,823.7 C1408.1,823.1 1408.5,822.6 1408.8,822.0 C1409.1,821.4 1409.5,820.9 1409.8,820.3 C1410.1,819.7 1410.5,819.2 1410.8,818.6 C1411.1,818.0 1411.5,817.5 1411.8,816.9 C1412.1,816.3 1412.5,815.7 1412.8,815.1 C1413.1,814.5 1413.5,814.0 1413.8,813.4 C1414.1,812.8 1414.5,812.3 1414.8,811.7 C1415.1,811.1 1415.5,810.6 1415.8,810.0 C1416.1,809.4 1416.4,808.9 1416.7,808.3 C1417.0,807.7 1417.4,807.2 1417.7,806.6 C1418.0,806.0 1418.4,805.5 1418.7,804.9 C1419.0,804.3 1419.4,803.8 1419.7,803.2 C1420.0,802.6 1420.4,802.0 1420.7,801.4 C1421.0,800.8 1421.3,800.3 1421.6,799.7 C1421.9,799.1 1422.3,798.6 1422.6,798.0 C1422.9,797.4 1423.3,796.9 1423.6,796.3 C1423.9,795.7 1424.2,795.2 1424.5,794.6 C1424.8,794.0 1425.2,793.5 1425.5,792.9 C1425.8,792.3 1426.2,791.7 1426.5,791.1 C1426.8,790.5 1427.1,790.0 1427.4,789.4 C1427.7,788.8 1428.1,788.3 1428.4,787.7 C1428.7,787.1 1429.1,786.6 1429.4,786.0 C1429.7,785.4 1430.0,784.9 1430.3,784.3 C1430.6,783.7 1431.0,783.1 1431.3,782.5 C1431.6,781.9 1432.0,781.4 1432.3,780.8 C1432.6,780.2 1432.9,779.7 1433.2,779.1 C1433.5,778.5 1433.9,778.0 1434.2,777.4 C1434.5,776.8 1434.9,776.2 1435.2,775.6 C1435.5,775.0 1435.8,774.5 1436.1,773.9 C1436.4,773.3 1436.8,772.8 1437.1,772.2 C1437.4,771.6 1437.8,771.1 1438.1,770.5 C1438.4,769.9 1438.7,769.4 1439.0,768.8 C1439.3,768.2 1439.7,767.6 1440.0,767.0 C1440.3,766.4 1440.6,765.9 1440.9,765.3 C1441.2,764.7 1441.6,764.2 1441.9,763.6 C1442.2,763.0 1442.6,762.4 1442.9,761.8 C1443.2,761.2 1443.5,760.7 1443.8,760.1 C1444.1,759.5 1444.5,759.0 1444.8,758.4 C1445.1,757.8 1445.5,757.3 1445.8,756.7 C1446.1,756.1 1446.4,755.5 1446.7,754.9 C1447.0,754.3 1447.4,753.8 1447.7,753.2 C1448.0,752.6 1448.4,752.1 1448.7,751.5 C1449.0,750.9 1449.3,750.4 1449.6,749.8 C1449.9,749.2 1450.3,748.6 1450.6,748.0 C1450.9,747.4 1451.3,746.9 1451.6,746.3 C1451.9,745.7 1452.2,745.2 1452.5,744.6 C1452.8,744.0 1453.2,743.4 1453.5,742.8 C1453.8,742.2 1454.2,741.7 1454.5,741.1 C1454.8,740.5 1455.2,740.0 1455.5,739.4 C1455.8,738.8 1456.1,738.3 1456.4,737.7 C1456.7,737.1 1457.1,736.5 1457.4,735.9 C1457.7,735.3 1458.1,734.8 1458.4,734.2 C1458.7,733.6 1459.1,733.1 1459.4,732.5 C1459.7,731.9 1460.1,731.3 1460.4,730.7 C1460.7,730.1 1461.0,729.6 1461.3,729.0 C1461.6,728.4 1462.0,727.9 1462.3,727.3 C1462.6,726.7 1463.0,726.1 1463.3,725.5 C1463.6,724.9 1464.0,724.4 1464.3,723.8 C1464.6,723.2 1465.0,722.7 1465.3,722.1 C1465.6,721.5 1466.0,720.9 1466.3,720.3 C1466.6,719.7 1467.0,719.2 1467.3,718.6 C1467.6,718.0 1468.0,717.5 1468.3,716.9 C1468.6,716.3 1469.0,715.7 1469.3,715.1 C1469.6,714.5 1470.0,714.0 1470.3,713.4 C1470.6,712.8 1470.9,712.3 1471.3,711.7 C1471.7,711.1 1472.1,710.6 1472.4,710.0 C1472.8,709.4 1473.1,708.8 1473.4,708.2 C1473.7,707.6 1474.1,707.1 1474.4,706.5 C1474.7,705.9 1475.1,705.4 1475.4,704.8 C1475.8,704.2 1476.2,703.6 1476.5,703.0 C1476.8,702.4 1477.2,701.9 1477.5,701.3 C1477.8,700.7 1478.2,700.2 1478.5,699.6 C1478.8,699.0 1479.2,698.4 1479.6,697.8 C1479.9,697.2 1480.3,696.7 1480.6,696.1 C1480.9,695.5 1481.2,695.0 1481.6,694.4 C1481.9,693.8 1482.3,693.2 1482.7,692.6 C1483.1,692.0 1483.4,691.5 1483.7,690.9 C1484.0,690.3 1484.4,689.8 1484.8,689.2 C1485.2,688.6 1485.6,688.0 1485.9,687.4 C1486.2,686.8 1486.6,686.3 1486.9,685.7 C1487.2,685.1 1487.6,684.6 1488.0,684.0 C1488.4,683.4 1488.7,682.9 1489.1,682.3 C1489.5,681.7 1489.8,681.1 1490.2,680.5 C1490.6,679.9 1490.9,679.4 1491.2,678.8 C1491.5,678.2 1491.9,677.7 1492.3,677.1 C1492.7,676.5 1493.0,675.9 1493.4,675.3 C1493.8,674.7 1494.1,674.2 1494.5,673.6 C1494.9,673.0 1495.2,672.5 1495.6,671.9 C1496.0,671.3 1496.3,670.8 1496.7,670.2 C1497.1,669.6 1497.4,669.0 1497.8,668.4 C1498.2,667.8 1498.6,667.3 1499.0,666.7 C1499.4,666.1 1499.7,665.6 1500.1,665.0 C1500.5,664.4 1500.8,663.8 1501.2,663.2 C1501.6,662.6 1501.9,662.1 1502.3,661.5 C1502.7,660.9 1503.1,660.4 1503.5,659.8 C1503.9,659.2 1504.2,658.7 1504.6,658.1 C1505.0,657.5 1505.4,656.9 1505.8,656.3 C1506.2,655.7 1506.5,655.2 1506.9,654.6 C1507.3,654.0 1507.7,653.5 1508.1,652.9 C1508.5,652.3 1508.9,651.8 1509.3,651.2 C1509.7,650.6 1510.0,650.0 1510.4,649.4 C1510.8,648.8 1511.2,648.3 1511.6,647.7 C1512.0,647.1 1512.4,646.6 1512.8,646.0 C1513.2,645.4 1513.6,644.9 1514.0,644.3 C1514.4,643.7 1514.8,643.2 1515.2,642.6 C1515.6,642.0 1516.0,641.5 1516.4,640.9 C1516.8,640.3 1517.2,639.7 1517.6,639.1 C1518.0,638.5 1518.5,638.0 1518.9,637.4 C1519.3,636.8 1519.7,636.3 1520.1,635.8 C1520.5,635.2 1520.9,634.7 1521.3,634.1 C1521.7,633.5 1522.2,633.0 1522.6,632.4 C1523.0,631.8 1523.4,631.2 1523.8,630.7 C1524.2,630.2 1524.7,629.6 1525.1,629.1 C1525.5,628.6 1526.0,628.0 1526.4,627.5 C1526.8,627.0 1527.3,626.3 1527.7,625.8 C1528.1,625.2 1528.6,624.7 1529.0,624.2 C1529.4,623.7 1529.9,623.1 1530.3,622.6 C1530.7,622.1 1531.2,621.5 1531.6,621.0 C1532.0,620.5 1532.5,620.0 1532.9,619.5 C1533.4,619.0 1533.8,618.4 1534.3,617.9 C1534.8,617.4 1535.2,616.9 1535.7,616.4 C1536.2,615.9 1536.5,615.4 1537.0,614.9 C1537.5,614.4 1537.9,613.9 1538.4,613.4 C1538.9,612.9 1539.3,612.5 1539.8,612.0 C1540.3,611.5 1540.7,611.1 1541.2,610.6 C1541.7,610.1 1542.1,609.7 1542.6,609.2 C1543.1,608.7 1543.6,608.3 1544.1,607.8 C1544.6,607.3 1545.0,606.8 1545.5,606.4 C1546.0,606.0 1546.5,605.5 1547.0,605.1 C1547.5,604.7 1548.0,604.2 1548.5,603.8 C1549.0,603.4 1549.5,602.9 1550.0,602.5 C1550.5,602.1 1551.0,601.7 1551.5,601.3 C1552.0,600.9 1552.5,600.5 1553.0,600.1 C1553.5,599.7 1554.1,599.3 1554.6,598.9 C1555.1,598.5 1555.6,598.2 1556.1,597.8 C1556.6,597.4 1557.2,597.1 1557.7,596.7 C1558.2,596.3 1558.8,596.0 1559.3,595.6 C1559.8,595.2 1560.4,594.9 1560.9,594.6 C1561.5,594.3 1562.0,593.9 1562.6,593.6 C1563.1,593.3 1563.7,592.9 1564.2,592.6 C1564.8,592.3 1565.3,592.0 1565.9,591.7 C1566.5,591.4 1567.0,591.2 1567.6,590.9 C1568.2,590.6 1568.7,590.3 1569.3,590.0 C1569.9,589.7 1570.4,589.5 1571.0,589.3 C1571.6,589.0 1572.2,588.8 1572.8,588.5 C1573.4,588.2 1573.9,588.0 1574.5,587.8 C1575.1,587.6 1575.7,587.4 1576.3,587.2 C1576.9,587.0 1577.5,586.8 1578.1,586.6 C1578.7,586.4 1579.4,586.2 1580.0,586.0 C1580.6,585.8 1581.2,585.7 1581.8,585.5 C1582.4,585.3 1583.1,585.1 1583.7,585.0 C1584.3,584.9 1585.0,584.7 1585.6,584.6 C1586.2,584.5 1586.9,584.4 1587.5,584.3 C1588.1,584.2 1588.8,584.1 1589.4,584.0 C1590.0,583.9 1590.7,583.8 1591.3,583.7 C1591.9,583.6 1592.6,583.6 1593.3,583.5 C1594.0,583.4 1594.6,583.3 1595.2,583.3 C1595.8,583.2 1596.4,583.2 1597.1,583.2 C1597.8,583.2 1598.4,583.1 1599.1,583.1 C1599.8,583.1 1600.4,583.1 1601.1,583.1 C1601.8,583.1 1602.3,583.1 1603.0,583.1 C1603.7,583.1 1604.3,583.2 1605.0,583.2 C1605.7,583.2 1606.3,583.2 1607.0,583.3 C1607.7,583.3 1608.2,583.4 1608.9,583.5 C1609.6,583.6 1610.2,583.6 1610.9,583.7 C1611.6,583.8 1612.2,583.9 1612.8,584.0 C1613.4,584.1 1614.1,584.2 1614.8,584.3 C1615.5,584.4 1616.1,584.5 1616.7,584.6 C1617.3,584.7 1617.9,584.9 1618.6,585.0 C1619.2,585.1 1619.9,585.3 1620.6,585.5 C1621.2,585.7 1621.9,585.8 1622.5,586.0 C1623.1,586.2 1623.8,586.4 1624.4,586.6 C1625.0,586.8 1625.6,587.0 1626.2,587.2 C1626.8,587.4 1627.5,587.6 1628.1,587.8 C1628.7,588.0 1629.3,588.2 1629.9,588.5 C1630.5,588.8 1631.1,589.0 1631.7,589.3 C1632.3,589.6 1632.9,589.8 1633.5,590.1 C1634.1,590.4 1634.7,590.6 1635.3,590.9 C1635.9,591.2 1636.5,591.5 1637.1,591.8 C1637.7,592.1 1638.2,592.5 1638.8,592.8 C1639.4,593.1 1640.0,593.5 1640.5,593.8 C1641.0,594.1 1641.5,594.4 1642.1,594.8 C1642.6,595.1 1643.2,595.5 1643.8,595.9 C1644.3,596.3 1644.9,596.6 1645.4,597.0 C1645.9,597.4 1646.5,597.8 1647.0,598.2 C1647.5,598.6 1648.0,599.0 1648.5,599.4 C1649.0,599.8 1649.5,600.3 1650.0,600.7 C1650.5,601.1 1651.0,601.6 1651.5,602.0 C1652.0,602.4 1652.5,602.8 1653.0,603.3 C1653.5,603.8 1654.0,604.2 1654.5,604.7 C1655.0,605.2 1655.4,605.6 1655.9,606.1 C1656.4,606.6 1656.8,607.0 1657.3,607.5 C1657.8,608.0 1658.2,608.5 1658.7,609.0 C1659.2,609.5 1659.6,610.0 1660.1,610.5 C1660.6,611.0 1661.0,611.5 1661.5,612.0 C1662.0,612.5 1662.4,613.1 1662.8,613.6 C1663.2,614.1 1663.7,614.6 1664.1,615.1 C1664.5,615.6 1665.0,616.2 1665.4,616.7 C1665.8,617.2 1666.3,617.9 1666.7,618.4 C1667.1,618.9 1667.5,619.5 1667.9,620.0 C1668.3,620.5 1668.8,621.1 1669.2,621.7 C1669.6,622.3 1670.0,622.8 1670.4,623.4 C1670.8,624.0 1671.2,624.5 1671.6,625.1 C1672.0,625.7 1672.4,626.2 1672.8,626.8 C1673.2,627.4 1673.6,627.9 1674.0,628.5 C1674.4,629.1 1674.8,629.6 1675.2,630.2 C1675.6,630.8 1676.0,631.4 1676.4,632.0 C1676.8,632.6 1677.1,633.1 1677.5,633.7 C1677.9,634.3 1678.3,634.9 1678.7,635.5 C1679.1,636.1 1679.4,636.7 1679.8,637.3 C1680.2,637.9 1680.5,638.4 1680.9,639.0 C1681.3,639.6 1681.6,640.2 1682.0,640.8 C1682.4,641.4 1682.7,642.0 1683.1,642.6 C1683.5,643.2 1683.8,643.8 1684.2,644.4 C1684.6,645.0 1684.9,645.6 1685.3,646.2 C1685.7,646.8 1686.0,647.3 1686.4,647.9 C1686.8,648.5 1687.1,649.1 1687.5,649.7 C1687.9,650.3 1688.2,650.9 1688.6,651.5 C1688.9,652.1 1689.2,652.6 1689.6,653.2 C1689.9,653.8 1690.3,654.4 1690.7,655.0 C1691.1,655.6 1691.5,656.1 1691.8,656.7 C1692.1,657.3 1692.4,657.8 1692.8,658.4 C1693.2,659.0 1693.6,659.6 1693.9,660.2 C1694.2,660.8 1694.6,661.3 1694.9,661.9 C1695.2,662.5 1695.7,663.0 1696.0,663.6 C1696.3,664.2 1696.7,664.7 1697.0,665.3 C1697.3,665.9 1697.7,666.4 1698.0,667.0 C1698.3,667.6 1698.8,668.1 1699.1,668.7 C1699.4,669.3 1699.8,669.8 1700.1,670.4 C1700.4,671.0 1700.8,671.5 1701.1,672.1 C1701.4,672.7 1701.8,673.2 1702.1,673.8 C1702.4,674.4 1702.8,674.9 1703.2,675.5 C1703.6,676.1 1703.9,676.6 1704.2,677.2 C1704.5,677.8 1704.9,678.3 1705.2,678.9 C1705.5,679.5 1705.9,680.0 1706.2,680.6 C1706.5,681.2 1706.9,681.7 1707.2,682.3 C1707.5,682.9 1707.9,683.4 1708.2,684.0 C1708.5,684.6 1708.8,685.1 1709.1,685.7 C1709.4,686.3 1709.8,686.8 1710.1,687.4 C1710.4,688.0 1710.8,688.5 1711.1,689.1 C1711.4,689.7 1711.8,690.2 1712.1,690.8 C1712.4,691.4 1712.7,691.9 1713.0,692.5 C1713.3,693.1 1713.7,693.6 1714.0,694.2 C1714.3,694.8 1714.7,695.3 1715.0,695.9 C1715.3,696.5 1715.6,697.0 1715.9,697.6 C1716.2,698.2 1716.6,698.7 1716.9,699.3 C1717.2,699.9 1717.5,700.4 1717.8,701.0 C1718.1,701.6 1718.5,702.1 1718.8,702.7 C1719.1,703.3 1719.4,703.8 1719.7,704.4 C1720.0,705.0 1720.3,705.6 1720.6,706.2 C1720.9,706.8 1721.2,707.3 1721.5,707.9 C1721.8,708.5 1722.2,709.0 1722.5,709.6 C1722.8,710.2 1723.1,710.8 1723.4,711.4 C1723.7,712.0 1724.0,712.5 1724.3,713.1 C1724.6,713.7 1724.9,714.3 1725.2,714.9 C1725.5,715.5 1725.8,716.0 1726.1,716.6 C1726.4,717.2 1726.7,717.8 1727.0,718.4 C1727.3,719.0 1727.6,719.5 1727.9,720.1 C1728.2,720.7 1728.5,721.3 1728.8,721.9 C1729.1,722.5 1729.4,723.1 1729.7,723.7 C1730.0,724.3 1730.3,724.8 1730.6,725.4 C1730.9,726.0 1731.2,726.6 1731.5,727.2 C1731.8,727.8 1732.0,728.4 1732.3,729.0 C1732.6,729.6 1732.9,730.1 1733.2,730.7 C1733.5,731.3 1733.8,731.9 1734.1,732.5 C1734.4,733.1 1734.7,733.7 1735.0,734.3 C1735.3,734.9 1735.5,735.5 1735.8,736.1 C1736.1,736.7 1736.4,737.3 1736.7,737.9 C1737.0,738.5 1737.2,739.1 1737.5,739.7 C1737.8,740.3 1738.1,740.9 1738.4,741.5 C1738.7,742.1 1738.9,742.7 1739.2,743.3 C1739.5,743.9 1739.8,744.5 1740.1,745.1 C1740.4,745.7 1740.6,746.3 1740.9,746.9 C1741.2,747.5 1741.5,748.1 1741.8,748.7 C1742.1,749.3 1742.3,749.9 1742.6,750.5 C1742.9,751.1 1743.1,751.7 1743.4,752.3 C1743.7,752.9 1744.0,753.5 1744.3,754.1 C1744.6,754.7 1744.8,755.3 1745.1,755.9 C1745.4,756.5 1745.6,757.2 1745.9,757.8 C1746.2,758.4 1746.5,759.0 1746.8,759.6 C1747.1,760.2 1747.3,760.8 1747.6,761.4 C1747.9,762.0 1748.1,762.6 1748.4,763.2 C1748.7,763.8 1748.9,764.5 1749.2,765.1 C1749.5,765.7 1749.7,766.3 1750.0,766.9 C1750.3,767.5 1750.5,768.1 1750.8,768.7 C1751.1,769.3 1751.3,770.0 1751.6,770.6 C1751.9,771.2 1752.2,771.8 1752.5,772.4 C1752.8,773.0 1753.0,773.6 1753.3,774.2 C1753.6,774.8 1753.8,775.5 1754.1,776.1 C1754.4,776.7 1754.6,777.3 1754.9,777.9 C1755.2,778.5 1755.4,779.1 1755.7,779.7 C1756.0,780.3 1756.2,781.0 1756.5,781.6 C1756.8,782.2 1757.0,782.8 1757.2,783.4 C1757.5,784.0 1757.7,784.7 1758.0,785.3 C1758.3,785.9 1758.5,786.5 1758.8,787.1 C1759.1,787.7 1759.3,788.4 1759.6,789.0 C1759.9,789.6 1760.1,790.2 1760.4,790.8 C1760.7,791.4 1760.9,792.1 1761.2,792.7 C1761.5,793.3 1761.7,793.9 1762.0,794.5 C1762.3,795.1 1762.5,795.8 1762.8,796.4 C1763.0,797.0 1763.2,797.6 1763.5,798.2 C1763.8,798.8 1764.0,799.5 1764.3,800.1 C1764.6,800.7 1764.8,801.3 1765.1,801.9 C1765.4,802.5 1765.6,803.2 1765.9,803.8 C1766.2,804.4 1766.5,805.1 1766.7,805.7 C1767.0,806.3 1767.2,806.9 1767.4,807.5 C1767.7,808.1 1767.9,808.8 1768.2,809.4 C1768.5,810.0 1768.7,810.6 1769.0,811.2 C1769.3,811.8 1769.5,812.5 1769.8,813.1 C1770.0,813.7 1770.2,814.3 1770.5,814.9 C1770.8,815.5 1771.0,816.2 1771.3,816.8 C1771.6,817.4 1771.8,818.1 1772.1,818.7 C1772.3,819.3 1772.5,819.9 1772.8,820.5 C1773.0,821.1 1773.3,821.8 1773.6,822.4 C1773.9,823.0 1774.1,823.6 1774.4,824.2 C1774.7,824.8 1775.0,825.5 1775.2,826.1 C1775.5,826.7 1775.7,827.4 1775.9,828.0 C1776.2,828.6 1776.4,829.2 1776.7,829.8 C1777.0,830.4 1777.2,831.1 1777.5,831.7 C1777.8,832.3 1778.0,832.9 1778.2,833.5 C1778.5,834.1 1778.7,834.8 1779.0,835.4 C1779.3,836.0 1779.5,836.7 1779.8,837.3 C1780.0,837.9 1780.2,838.5 1780.5,839.1 C1780.8,839.7 1781.0,840.4 1781.3,841.0 C1781.6,841.6 1781.8,842.2 1782.1,842.8 C1782.3,843.4 1782.5,844.1 1782.8,844.7 C1783.0,845.3 1783.3,845.9 1783.6,846.5 C1783.9,847.1 1784.2,847.8 1784.4,848.4 C1784.7,849.0 1784.8,849.6 1785.1,850.2 C1785.3,850.8 1785.6,851.5 1785.9,852.1 C1786.2,852.7 1786.5,853.3 1786.7,853.9 C1787.0,854.5 1787.2,855.2 1787.4,855.8 C1787.7,856.4 1787.9,857.1 1788.2,857.7 C1788.5,858.3 1788.8,858.9 1789.0,859.5 C1789.2,860.1 1789.5,860.7 1789.7,861.3 C1790.0,861.9 1790.2,862.6 1790.5,863.2 C1790.8,863.8 1791.0,864.4 1791.3,865.0 C1791.6,865.6 1791.8,866.3 1792.1,866.9 C1792.3,867.5 1792.5,868.1 1792.8,868.7 C1793.0,869.3 1793.3,870.0 1793.6,870.6 C1793.9,871.2 1794.1,871.8 1794.4,872.4 C1794.7,873.0 1795.0,873.7 1795.2,874.3 C1795.5,874.9 1795.7,875.5 1795.9,876.1 C1796.2,876.7 1796.4,877.3 1796.7,877.9 C1797.0,878.5 1797.2,879.2 1797.5,879.8 C1797.8,880.4 1798.0,881.0 1798.3,881.6 C1798.5,882.2 1798.8,882.9 1799.0,883.5 C1799.2,884.1 1799.5,884.7 1799.8,885.3 C1800.1,885.9 1800.3,886.5 1800.6,887.1 C1800.9,887.7 1801.1,888.4 1801.4,889.0 C1801.7,889.6 1802.0,890.2 1802.2,890.8 C1802.5,891.4 1802.7,892.0 1802.9,892.6 C1803.2,893.2 1803.4,893.9 1803.7,894.5 C1804.0,895.1 1804.2,895.7 1804.5,896.3 C1804.8,896.9 1805.0,897.5 1805.3,898.1 C1805.6,898.7 1805.8,899.4 1806.1,900.0 C1806.4,900.6 1806.7,901.2 1806.9,901.8 C1807.2,902.4 1807.3,903.0 1807.6,903.6 C1807.8,904.2 1808.1,904.9 1808.4,905.5 C1808.7,906.1 1808.9,906.7 1809.2,907.3 C1809.5,907.9 1809.7,908.5 1810.0,909.1 C1810.3,909.7 1810.5,910.4 1810.8,911.0 C1811.1,911.6 1811.3,912.2 1811.6,912.8 C1811.9,913.4 1812.1,914.0 1812.4,914.6 C1812.7,915.2 1812.9,915.8 1813.2,916.4 C1813.5,917.0 1813.7,917.7 1814.0,918.3 C1814.3,918.9 1814.5,919.5 1814.8,920.1 C1815.1,920.7 1815.3,921.3 1815.6,921.9 C1815.9,922.5 1816.1,923.1 1816.4,923.7 C1816.7,924.3 1816.9,925.0 1817.2,925.6 C1817.5,926.2 1817.7,926.8 1818.0,927.4 C1818.3,928.0 1818.5,928.6 1818.8,929.2 C1819.1,929.8 1819.3,930.4 1819.6,931.0 C1819.9,931.6 1820.1,932.2 1820.4,932.8 C1820.7,933.4 1820.9,934.1 1821.2,934.7 C1821.5,935.3 1821.7,935.9 1822.0,936.5 C1822.3,937.1 1822.5,937.7 1822.8,938.3 C1823.1,938.9 1823.3,939.5 1823.6,940.1 C1823.9,940.7 1824.1,941.3 1824.4,941.9 C1824.7,942.5 1824.9,943.2 1825.2,943.8 C1825.5,944.4 1825.7,945.0 1826.0,945.6 C1826.3,946.2 1826.5,946.8 1826.8,947.4 C1827.1,948.0 1827.4,948.6 1827.7,949.2 C1828.0,949.8 1828.2,950.4 1828.5,951.0 C1828.8,951.6 1829.0,952.3 1829.3,952.9 C1829.6,953.5 1829.8,954.1 1830.1,954.7 C1830.4,955.3 1830.6,955.9 1830.9,956.5 C1831.2,957.1 1831.5,957.7 1831.8,958.3 C1832.1,958.9 1832.3,959.5 1832.6,960.1 C1832.9,960.7 1833.1,961.3 1833.4,961.9 C1833.7,962.5 1833.9,963.2 1834.2,963.8 C1834.5,964.4 1834.8,965.0 1835.1,965.6 C1835.4,966.2 1835.6,966.8 1835.9,967.4 C1836.2,968.0 1836.4,968.6 1836.7,969.2 C1837.0,969.8 1837.3,970.4 1837.6,971.0 C1837.9,971.6 1838.1,972.2 1838.4,972.8 C1838.7,973.4 1838.9,974.0 1839.2,974.6 C1839.5,975.2 1839.8,975.9 1840.1,976.5 C1840.4,977.1 1840.6,977.7 1840.9,978.3 C1841.2,978.9 1841.4,979.5 1841.7,980.1 C1842.0,980.7 1842.3,981.3 1842.6,981.9 C1842.9,982.5 1843.1,983.1 1843.4,983.7 C1843.7,984.3 1844.0,984.9 1844.3,985.5 C1844.6,986.1 1844.8,986.7 1845.1,987.3 C1845.4,987.9 1845.7,988.5 1846.0,989.1 C1846.3,989.7 1846.5,990.4 1846.8,991.0 C1847.1,991.6 1847.4,992.2 1847.7,992.8 C1848.0,993.4 1848.2,994.0 1848.5,994.6 C1848.8,995.2 1849.1,995.8 1849.4,996.4 C1849.7,997.0 1850.0,997.6 1850.3,998.2 C1850.6,998.8 1850.8,999.4 1851.1,1000.0 C1851.4,1000.6 1851.7,1001.2 1852.0,1001.8 C1852.3,1002.4 1852.5,1003.0 1852.8,1003.6 C1853.1,1004.2 1853.4,1004.8 1853.7,1005.4 C1854.0,1006.0 1854.3,1006.6 1854.6,1007.2 C1854.9,1007.8 1855.1,1008.5 1855.4,1009.1 C1855.7,1009.7 1856.0,1010.3 1856.3,1010.9 C1856.6,1011.5 1856.9,1012.1 1857.2,1012.7 C1857.5,1013.3 1857.8,1013.9 1858.1,1014.5 C1858.4,1015.1 1858.6,1015.7 1858.9,1016.3 C1859.2,1016.9 1859.5,1017.5 1859.8,1018.1 C1860.1,1018.7 1860.4,1019.3 1860.7,1019.9 C1861.0,1020.5 1861.3,1021.1 1861.6,1021.7 C1861.9,1022.3 1862.2,1022.9 1862.5,1023.5 C1862.8,1024.1 1863.1,1024.7 1863.4,1025.3 C1863.7,1025.9 1864.0,1026.5 1864.3,1027.1 C1864.6,1027.7 1864.9,1028.3 1865.2,1028.9 C1865.5,1029.5 1865.8,1030.1 1866.1,1030.7 C1866.4,1031.3 1866.7,1031.9 1867.0,1032.5 C1867.3,1033.1 1867.6,1033.7 1867.9,1034.3 C1868.2,1034.9 1868.5,1035.5 1868.8,1036.1 C1869.1,1036.7 1869.5,1037.3 1869.8,1037.9 C1870.1,1038.5 1870.4,1039.0 1870.7,1039.6 C1871.0,1040.2 1871.3,1040.8 1871.6,1041.4 C1871.9,1042.0 1872.2,1042.6 1872.5,1043.2 C1872.8,1043.8 1873.2,1044.4 1873.5,1045.0 C1873.8,1045.6 1874.1,1046.2 1874.4,1046.8 C1874.7,1047.4 1875.1,1047.9 1875.4,1048.5 C1875.7,1049.1 1876.0,1049.7 1876.3,1050.3 C1876.6,1050.9 1877.0,1051.5 1877.3,1052.1 C1877.6,1052.7 1877.9,1053.2 1878.2,1053.8 C1878.5,1054.4 1878.9,1055.0 1879.2,1055.6 C1879.5,1056.2 1879.9,1056.7 1880.2,1057.3 C1880.5,1057.9 1880.8,1058.5 1881.1,1059.1 C1881.4,1059.7 1881.8,1060.2 1882.1,1060.8 C1882.4,1061.4 1882.8,1062.0 1883.1,1062.6 C1883.4,1063.2 1883.8,1063.7 1884.1,1064.3 C1884.4,1064.9 1884.8,1065.5 1885.1,1066.1 C1885.4,1066.7 1885.8,1067.2 1886.1,1067.8 C1886.4,1068.4 1886.8,1068.9 1887.1,1069.5 C1887.4,1070.1 1887.8,1070.7 1888.1,1071.3 C1888.4,1071.9 1888.8,1072.4 1889.1,1073.0 C1889.4,1073.6 1889.8,1074.1 1890.2,1074.7 C1890.6,1075.3 1890.9,1075.8 1891.2,1076.4 C1891.5,1077.0 1891.9,1077.5 1892.2,1078.1 C1892.5,1078.7 1893.0,1079.2 1893.3,1079.8 C1893.6,1080.4 1893.9,1080.9 1894.3,1081.5 C1894.7,1082.1 1895.1,1082.6 1895.4,1083.2 C1895.8,1083.8 1896.1,1084.3 1896.4,1084.9 C1896.8,1085.5 1897.1,1086.0 1897.5,1086.6 C1897.9,1087.2 1898.2,1087.7 1898.6,1088.3 C1899.0,1088.9 1899.3,1089.5 1899.7,1090.0 C1900.1,1090.5 1900.5,1091.0 1900.8,1091.6 C1901.1,1092.1 1901.4,1092.8 1901.8,1093.3 C1902.2,1093.8 1902.6,1094.4 1903.0,1094.9 C1903.4,1095.5 1903.7,1096.0 1904.1,1096.6 C1904.5,1097.1 1904.8,1097.7 1905.2,1098.2 C1905.6,1098.8 1905.9,1099.4 1906.3,1099.9 C1906.7,1100.5 1907.0,1101.0 1907.4,1101.5 C1907.8,1102.0 1908.2,1102.7 1908.6,1103.2 C1909.0,1103.8 1909.3,1104.3 1909.7,1104.8 C1910.1,1105.3 1910.5,1105.9 1910.9,1106.4 C1911.3,1106.9 1911.7,1107.5 1912.1,1108.0 C1912.5,1108.5 1912.8,1109.1 1913.2,1109.6 C1913.6,1110.1 1914.0,1110.7 1914.4,1111.2 C1914.8,1111.7 1915.2,1112.3 1915.6,1112.8 C1916.0,1113.3 1916.4,1113.9 1916.8,1114.4 C1917.2,1114.9 1917.6,1115.5 1918.0,1116.0 C1918.4,1116.5 1918.8,1117.0 1919.2,1117.5 C1919.6,1118.0 1920.0,1118.6 1920.4,1119.1 C1920.8,1119.6 1921.3,1120.1 1921.7,1120.6 C1922.1,1121.1 1922.5,1121.7 1922.9,1122.2 C1923.3,1122.7 1923.8,1123.2 1924.2,1123.7 C1924.6,1124.2 1925.0,1124.8 1925.4,1125.3 C1925.8,1125.8 1926.3,1126.3 1926.7,1126.8 C1927.1,1127.3 1927.6,1127.8 1928.0,1128.3 C1928.4,1128.8 1928.8,1129.3 1929.2,1129.8 C1929.6,1130.3 1930.1,1130.8 1930.5,1131.3 C1930.9,1131.8 1931.3,1132.3 1931.8,1132.8 C1932.2,1133.3 1932.8,1133.8 1933.2,1134.3 C1933.7,1134.8 1934.1,1135.3 1934.5,1135.8 C1934.9,1136.3 1935.3,1136.8 1935.8,1137.3 C1936.2,1137.8 1936.8,1138.2 1937.2,1138.7 C1937.7,1139.2 1938.0,1139.7 1938.5,1140.2 C1939.0,1140.7 1939.5,1141.1 1939.9,1141.6 C1940.4,1142.1 1940.8,1142.6 1941.2,1143.1 C1941.7,1143.6 1942.1,1144.0 1942.6,1144.5 C1943.1,1145.0 1943.5,1145.4 1944.0,1145.9 C1944.5,1146.4 1944.9,1146.8 1945.4,1147.3 C1945.9,1147.8 1946.3,1148.2 1946.8,1148.7 C1947.3,1149.2 1947.8,1149.6 1948.3,1150.1 C1948.8,1150.6 1949.2,1151.0 1949.7,1151.5 C1950.2,1152.0 1950.7,1152.5 1951.2,1152.9 C1951.7,1153.4 1952.1,1153.8 1952.6,1154.2 C1953.1,1154.7 1953.6,1155.1 1954.1,1155.6 C1954.6,1156.0 1955.1,1156.5 1955.6,1156.9 C1956.1,1157.4 1956.5,1157.8 1957.0,1158.3 C1957.5,1158.8 1958.0,1159.2 1958.5,1159.6 C1959.0,1160.0 1959.6,1160.5 1960.1,1160.9 C1960.6,1161.3 1961.1,1161.8 1961.6,1162.2 C1962.1,1162.6 1962.6,1163.1 1963.1,1163.5 C1963.6,1163.9 1964.1,1164.4 1964.6,1164.8 C1965.1,1165.2 1965.7,1165.7 1966.2,1166.1 C1966.7,1166.5 1967.2,1166.9 1967.7,1167.3 C1968.2,1167.7 1968.8,1168.2 1969.3,1168.6 C1969.8,1169.0 1970.4,1169.4 1970.9,1169.8 C1971.4,1170.2 1972.0,1170.7 1972.5,1171.1 C1973.0,1171.5 1973.5,1171.9 1974.0,1172.3 C1974.5,1172.7 1975.1,1173.1 1975.6,1173.5 C1976.1,1173.9 1976.7,1174.3 1977.2,1174.7 C1977.8,1175.1 1978.4,1175.5 1978.9,1175.9 C1979.5,1176.3 1980.0,1176.7 1980.5,1177.1 C1981.0,1177.5 1981.5,1177.9 1982.1,1178.3 C1982.6,1178.7 1983.2,1179.0 1983.8,1179.4 C1984.3,1179.8 1984.9,1180.2 1985.4,1180.6 C1986.0,1181.0 1986.5,1181.3 1987.1,1181.7 C1987.6,1182.1 1988.2,1182.5 1988.7,1182.9 C1989.2,1183.3 1989.8,1183.6 1990.4,1184.0 C1991.0,1184.4 1991.5,1184.7 1992.1,1185.1 C1992.7,1185.5 1993.2,1185.8 1993.8,1186.2 C1994.4,1186.6 1994.9,1186.9 1995.5,1187.3 C1996.1,1187.7 1996.6,1188.1 1997.2,1188.4 C1997.8,1188.8 1998.3,1189.1 1998.9,1189.4 C1999.5,1189.8 2000.0,1190.2 2000.6,1190.5 C2001.2,1190.8 2001.7,1191.2 2002.3,1191.5 C2002.9,1191.8 2003.5,1192.2 2004.1,1192.6 C2004.7,1192.9 2005.2,1193.3 2005.8,1193.6 C2006.4,1193.9 2006.9,1194.3 2007.5,1194.6 C2008.1,1194.9 2008.7,1195.3 2009.3,1195.6 C2009.9,1195.9 2010.5,1196.3 2011.1,1196.6 C2011.7,1196.9 2012.2,1197.3 2012.8,1197.6 C2013.4,1197.9 2014.0,1198.2 2014.6,1198.5 C2015.2,1198.8 2015.8,1199.2 2016.4,1199.5 C2017.0,1199.8 2017.6,1200.1 2018.2,1200.4 C2018.8,1200.7 2019.3,1201.0 2019.9,1201.3 C2020.5,1201.6 2021.1,1202.0 2021.7,1202.3 C2022.3,1202.6 2022.9,1202.9 2023.5,1203.2 C2024.1,1203.5 2024.7,1203.8 2025.3,1204.1 C2025.9,1204.4 2026.6,1204.6 2027.2,1204.9 C2027.8,1205.2 2028.4,1205.5 2029.0,1205.8 C2029.6,1206.1 2030.2,1206.4 2030.8,1206.7 C2031.4,1207.0 2032.0,1207.2 2032.6,1207.5 C2033.2,1207.8 2033.9,1208.0 2034.5,1208.3 C2035.1,1208.6 2035.7,1208.9 2036.3,1209.2 C2036.9,1209.5 2037.5,1209.7 2038.1,1210.0 C2038.7,1210.3 2039.4,1210.5 2040.0,1210.8 C2040.6,1211.1 2041.2,1211.3 2041.8,1211.6 C2042.4,1211.8 2043.1,1212.0 2043.7,1212.3 C2044.3,1212.5 2045.0,1212.8 2045.6,1213.1 C2046.2,1213.3 2046.8,1213.5 2047.4,1213.8 C2048.0,1214.0 2048.7,1214.3 2049.3,1214.6 C2049.9,1214.8 2050.6,1215.1 2051.2,1215.3 C2051.8,1215.5 2052.5,1215.8 2053.1,1216.0 C2053.7,1216.2 2054.3,1216.5 2054.9,1216.7 C2055.5,1216.9 2056.2,1217.2 2056.8,1217.4 C2057.4,1217.6 2058.1,1217.8 2058.7,1218.0 C2059.3,1218.2 2060.0,1218.5 2060.6,1218.7 C2061.2,1218.9 2061.9,1219.1 2062.5,1219.3 C2063.1,1219.5 2063.8,1219.8 2064.4,1220.0 C2065.0,1220.2 2065.7,1220.4 2066.3,1220.6 C2066.9,1220.8 2067.6,1221.0 2068.2,1221.2 C2068.8,1221.4 2069.5,1221.6 2070.1,1221.8 C2070.7,1222.0 2071.3,1222.2 2072.0,1222.4 C2072.7,1222.6 2073.3,1222.7 2074.0,1222.9 C2074.7,1223.1 2075.3,1223.3 2075.9,1223.5 C2076.5,1223.7 2077.2,1223.8 2077.8,1224.0 C2078.4,1224.2 2079.0,1224.3 2079.7,1224.5 C2080.3,1224.7 2081.0,1224.9 2081.7,1225.1 C2082.3,1225.3 2083.0,1225.3 2083.6,1225.5 C2084.2,1225.7 2084.8,1225.8 2085.5,1226.0 C2086.2,1226.2 2086.8,1226.3 2087.5,1226.5 C2088.2,1226.7 2088.8,1226.8 2089.4,1227.0 C2090.0,1227.2 2090.7,1227.3 2091.3,1227.4 C2092.0,1227.5 2092.7,1227.7 2093.3,1227.8 C2094.0,1227.9 2094.5,1228.1 2095.2,1228.2 C2095.8,1228.3 2096.5,1228.5 2097.2,1228.6 C2097.8,1228.7 2098.5,1228.9 2099.1,1229.0 C2099.7,1229.1 2100.3,1229.3 2101.0,1229.4 C2101.7,1229.5 2102.3,1229.6 2103.0,1229.7 C2103.7,1229.8 2104.2,1230.0 2104.9,1230.1 C2105.6,1230.2 2106.2,1230.3 2106.9,1230.4 C2107.6,1230.5 2108.2,1230.6 2108.8,1230.7 C2109.5,1230.8 2110.1,1230.9 2110.8,1231.0 C2111.5,1231.1 2112.2,1231.2 2112.8,1231.3 C2113.5,1231.4 2114.0,1231.5 2114.7,1231.6 C2115.3,1231.7 2116.0,1231.8 2116.7,1231.9 C2117.3,1232.0 2117.9,1232.0 2118.6,1232.1 C2119.2,1232.2 2119.9,1232.3 2120.6,1232.4 C2121.3,1232.5 2121.9,1232.5 2122.6,1232.6 C2123.2,1232.7 2123.8,1232.7 2124.5,1232.8 C2125.2,1232.9 2125.8,1232.9 2126.5,1233.0 C2127.2,1233.1 2127.8,1233.1 2128.5,1233.2 C2129.2,1233.3 2129.8,1233.3 2130.4,1233.4 C2131.1,1233.5 2131.7,1233.5 2132.4,1233.6 C2133.1,1233.6 2133.8,1233.7 2134.4,1233.7 C2135.1,1233.8 2135.7,1233.8 2136.3,1233.9 C2137.0,1234.0 2137.6,1234.0 2138.3,1234.1 C2139.0,1234.1 2139.6,1234.2 2140.3,1234.2 C2141.0,1234.2 2141.7,1234.2 2142.3,1234.3 C2143.0,1234.3 2143.5,1234.5 2144.2,1234.5 C2144.8,1234.5 2145.5,1234.6 2146.2,1234.6 C2146.9,1234.6 2147.5,1234.7 2148.2,1234.7 C2148.9,1234.7 2149.5,1234.8 2150.2,1234.8 C2150.9,1234.8 2151.5,1234.9 2152.2,1234.9 C2152.9,1234.9 2153.5,1235.0 2154.2,1235.0 C2154.8,1235.0 2155.4,1235.1 2156.1,1235.1 C2156.8,1235.1 2157.4,1235.1 2158.1,1235.1 C2158.8,1235.1 2159.4,1235.2 2160.1,1235.2 C2160.8,1235.2 2161.4,1235.3 2162.1,1235.3 C2162.8,1235.3 2163.4,1235.3 2164.1,1235.3 C2164.8,1235.3 2165.4,1235.4 2166.1,1235.4 C2166.8,1235.4 2167.4,1235.4 2168.1,1235.4 C2168.8,1235.4 2169.4,1235.5 2170.1,1235.5 C2170.8,1235.5 2171.4,1235.5 2172.1,1235.5 C2172.8,1235.5 2173.4,1235.6 2174.1,1235.6 C2174.8,1235.6 2175.4,1235.6 2176.1,1235.6 C2176.8,1235.6 2177.4,1235.6 2178.1,1235.6 C2178.8,1235.6 2179.4,1235.7 2180.1,1235.7 C2180.8,1235.7 2181.4,1235.7 2182.1,1235.7 C2182.8,1235.7 2183.4,1235.7 2184.1,1235.7 C2184.8,1235.7 2185.5,1235.7 2186.2,1235.7 C2186.9,1235.7 2187.5,1235.8 2188.2,1235.8 C2188.9,1235.8 2189.5,1235.8 2190.2,1235.8 C2190.9,1235.8 2191.5,1235.8 2192.2,1235.8 C2192.9,1235.8 2193.5,1235.8 2194.2,1235.8 C2194.9,1235.8 2195.5,1235.8 2196.2,1235.8 C2196.9,1235.8 2197.6,1235.8 2198.3,1235.8 C2199.0,1235.8 2199.6,1235.9 2200.3,1235.9 C2201.0,1235.9 2201.6,1235.9 2202.3,1235.9 C2203.0,1235.9 2203.6,1235.9 2204.3,1235.9 C2205.0,1235.9 2205.7,1235.9 2206.4,1235.9 C2207.1,1235.9 2207.7,1235.9 2208.4,1235.9 C2209.1,1235.9 2209.7,1235.9 2210.4,1235.9 C2211.1,1235.9 2211.8,1236.0 2212.5,1236.0 C2213.2,1236.0 2214.2,1236.0 2214.5,1236.0" fill="none" stroke="#CC0099" stroke-width="13.8" stroke-linecap="round" stroke-linejoin="round" shape-rendering="crispEdges" clip-path="url(#pc)"/>
<path d="M274.0,318.0 C274.8,312.5 277.5,296.0 279.0,285.0 C280.5,274.0 281.5,260.8 283.0,252.0 C284.5,243.2 286.2,236.8 288.0,232.0 C289.8,227.2 291.7,223.8 293.5,223.5 C295.3,223.2 297.2,225.6 299.0,230.0 C300.8,234.4 302.5,240.8 304.0,250.0 C305.5,259.2 306.9,270.0 308.0,285.0 C309.1,300.0 307.7,282.5 310.5,340.0 C313.3,397.5 319.3,536.7 325.0,630.0 C330.7,723.3 339.2,845.0 344.5,900.0 C349.8,955.0 353.8,947.7 357.0,960.0 C360.2,972.3 361.8,970.3 364.0,974.0 C366.2,977.7 367.8,980.2 370.0,982.0 C372.2,983.8 374.3,985.5 377.0,985.0 C379.7,984.5 382.2,982.8 386.0,979.0 C389.8,975.2 395.2,968.5 400.0,962.0 C404.8,955.5 410.0,947.3 415.0,940.0 C420.0,932.7 424.2,924.8 430.0,918.0 C435.8,911.2 444.2,901.7 449.5,899.5 C454.8,897.3 458.5,901.6 462.0,905.0 C465.5,908.4 467.5,912.9 470.5,919.8 C473.5,926.7 476.9,937.5 480.0,946.4 C483.1,955.2 485.6,965.0 489.0,972.9 C492.4,980.8 496.9,985.9 500.7,993.8 C504.5,1001.6 507.7,1012.9 512.0,1020.0 C516.3,1027.2 520.2,1031.9 526.4,1036.7 C532.6,1041.5 541.5,1044.1 549.0,1049.0 C556.5,1053.9 566.3,1062.7 571.5,1066.0 C576.7,1069.3 572.6,1067.3 580.0,1068.8 C587.4,1070.3 605.8,1072.2 615.8,1074.8 C625.8,1077.4 631.7,1079.7 639.7,1084.4 C647.7,1089.1 655.6,1095.9 663.6,1102.8 C671.6,1109.7 679.5,1119.4 687.5,1125.6 C695.5,1131.8 704.6,1137.4 711.4,1140.0 C718.1,1142.6 723.2,1141.5 728.0,1141.0 C732.8,1140.5 736.3,1138.7 740.0,1137.0 C743.7,1135.3 745.6,1134.0 750.0,1131.0 C754.4,1128.0 763.5,1121.2 766.5,1119.0 C769.5,1116.8 767.7,1118.4 768.3,1118.0 C768.9,1117.6 769.4,1117.1 769.9,1116.7 C770.4,1116.3 771.0,1115.9 771.5,1115.5 C772.0,1115.1 772.5,1114.6 773.0,1114.2 C773.5,1113.8 774.1,1113.4 774.6,1113.0 C775.1,1112.6 775.6,1112.1 776.1,1111.7 C776.6,1111.3 777.2,1110.8 777.7,1110.4 C778.2,1110.0 778.7,1109.5 779.2,1109.1 C779.7,1108.7 780.2,1108.2 780.7,1107.8 C781.2,1107.4 781.8,1106.9 782.3,1106.5 C782.8,1106.1 783.3,1105.6 783.8,1105.2 C784.3,1104.8 784.8,1104.3 785.3,1103.9 C785.8,1103.5 786.3,1103.0 786.8,1102.6 C787.3,1102.2 787.8,1101.8 788.3,1101.3 C788.8,1100.8 789.3,1100.4 789.8,1099.9 C790.3,1099.5 790.7,1099.0 791.2,1098.6 C791.7,1098.2 792.2,1097.8 792.7,1097.3 C793.2,1096.8 793.7,1096.4 794.2,1095.9 C794.7,1095.5 795.1,1095.0 795.6,1094.6 C796.1,1094.1 796.6,1093.7 797.1,1093.2 C797.6,1092.7 798.0,1092.3 798.5,1091.8 C799.0,1091.3 799.5,1090.9 800.0,1090.4 C800.5,1090.0 800.9,1089.5 801.4,1089.1 C801.9,1088.6 802.3,1088.2 802.8,1087.7 C803.3,1087.2 803.7,1086.8 804.2,1086.3 C804.7,1085.8 805.1,1085.4 805.6,1084.9 C806.1,1084.4 806.5,1084.0 807.0,1083.5 C807.5,1083.0 807.9,1082.6 808.4,1082.1 C808.9,1081.6 809.3,1081.1 809.8,1080.6 C810.3,1080.1 810.8,1079.7 811.2,1079.2 C811.7,1078.7 812.0,1078.3 812.5,1077.8 C813.0,1077.3 813.4,1076.8 813.9,1076.3 C814.4,1075.8 814.8,1075.4 815.2,1074.9 C815.7,1074.4 816.2,1073.9 816.6,1073.4 C817.0,1072.9 817.5,1072.5 817.9,1072.0 C818.3,1071.5 818.8,1071.0 819.2,1070.5 C819.6,1070.0 820.1,1069.5 820.5,1069.0 C820.9,1068.5 821.4,1068.0 821.8,1067.5 C822.2,1067.0 822.7,1066.5 823.1,1066.0 C823.5,1065.5 824.0,1065.1 824.4,1064.6 C824.8,1064.1 825.3,1063.5 825.7,1063.0 C826.1,1062.5 826.6,1062.0 827.0,1061.5 C827.4,1061.0 827.9,1060.5 828.3,1060.0 C828.7,1059.5 829.1,1059.0 829.5,1058.5 C829.9,1058.0 830.4,1057.5 830.8,1057.0 C831.2,1056.5 831.6,1055.9 832.0,1055.4 C832.4,1054.9 832.8,1054.4 833.2,1053.9 C833.6,1053.4 834.1,1052.8 834.5,1052.3 C834.9,1051.8 835.3,1051.3 835.7,1050.8 C836.1,1050.3 836.5,1049.7 836.9,1049.2 C837.3,1048.7 837.7,1048.2 838.1,1047.7 C838.5,1047.2 838.9,1046.6 839.3,1046.1 C839.7,1045.6 840.1,1045.0 840.5,1044.5 C840.9,1044.0 841.3,1043.4 841.7,1042.9 C842.1,1042.4 842.4,1041.8 842.8,1041.3 C843.2,1040.8 843.6,1040.2 844.0,1039.7 C844.4,1039.2 844.7,1038.6 845.1,1038.1 C845.5,1037.6 845.9,1037.0 846.3,1036.5 C846.7,1036.0 847.0,1035.5 847.4,1034.9 C847.8,1034.4 848.1,1033.8 848.5,1033.2 C848.9,1032.7 849.2,1032.1 849.6,1031.6 C850.0,1031.0 850.3,1030.5 850.7,1029.9 C851.1,1029.4 851.4,1028.8 851.8,1028.3 C852.2,1027.8 852.5,1027.1 852.9,1026.6 C853.3,1026.0 853.6,1025.5 854.0,1025.0 C854.4,1024.5 854.8,1023.9 855.1,1023.3 C855.5,1022.7 855.8,1022.2 856.1,1021.6 C856.5,1021.0 856.9,1020.5 857.2,1019.9 C857.6,1019.3 857.9,1018.8 858.2,1018.2 C858.6,1017.6 858.9,1017.1 859.3,1016.5 C859.6,1015.9 860.0,1015.4 860.3,1014.8 C860.6,1014.2 861.0,1013.7 861.3,1013.1 C861.6,1012.5 862.0,1012.0 862.3,1011.4 C862.6,1010.8 863.0,1010.3 863.3,1009.7 C863.6,1009.1 864.0,1008.5 864.3,1007.9 C864.6,1007.3 865.0,1006.8 865.3,1006.2 C865.6,1005.6 866.0,1005.1 866.3,1004.5 C866.6,1003.9 867.0,1003.3 867.3,1002.7 C867.6,1002.1 868.0,1001.6 868.3,1001.0 C868.6,1000.4 868.9,999.8 869.2,999.2 C869.5,998.6 869.9,998.1 870.2,997.5 C870.5,996.9 870.8,996.3 871.1,995.7 C871.4,995.1 871.8,994.5 872.1,993.9 C872.4,993.3 872.7,992.8 873.0,992.2 C873.3,991.6 873.7,991.0 874.0,990.4 C874.3,989.8 874.6,989.2 874.9,988.6 C875.2,988.0 875.6,987.5 875.9,986.9 C876.2,986.3 876.5,985.7 876.8,985.1 C877.1,984.5 877.4,983.9 877.7,983.3 C878.0,982.7 878.3,982.1 878.6,981.5 C878.9,980.9 879.3,980.3 879.6,979.7 C879.9,979.1 880.2,978.5 880.5,977.9 C880.8,977.3 881.1,976.8 881.4,976.2 C881.7,975.6 882.0,975.0 882.3,974.4 C882.6,973.8 882.9,973.2 883.2,972.6 C883.5,972.0 883.8,971.4 884.1,970.8 C884.4,970.2 884.8,969.6 885.1,969.0 C885.4,968.4 885.7,967.8 886.0,967.2 C886.3,966.6 886.6,966.0 886.9,965.4 C887.2,964.8 887.5,964.2 887.8,963.6 C888.1,963.0 888.4,962.4 888.7,961.8 C889.0,961.2 889.3,960.6 889.6,960.0 C889.9,959.4 890.2,958.9 890.5,958.3 C890.8,957.7 891.2,957.1 891.5,956.5 C891.8,955.9 892.1,955.3 892.4,954.7 C892.7,954.1 893.0,953.5 893.3,952.9 C893.6,952.3 893.9,951.7 894.2,951.1 C894.5,950.5 894.9,949.9 895.2,949.3 C895.5,948.7 895.8,948.2 896.1,947.6 C896.4,947.0 896.7,946.4 897.0,945.8 C897.3,945.2 897.6,944.6 897.9,944.0 C898.2,943.4 898.6,942.8 898.9,942.2 C899.2,941.6 899.5,941.0 899.8,940.4 C900.1,939.8 900.4,939.3 900.7,938.7 C901.0,938.1 901.4,937.5 901.7,936.9 C902.0,936.3 902.3,935.7 902.6,935.1 C902.9,934.5 903.2,934.0 903.5,933.4 C903.8,932.8 904.2,932.2 904.5,931.6 C904.8,931.0 905.1,930.4 905.4,929.8 C905.7,929.2 906.0,928.7 906.3,928.1 C906.6,927.5 907.0,926.9 907.3,926.3 C907.6,925.7 907.9,925.1 908.2,924.5 C908.5,923.9 908.9,923.4 909.2,922.8 C909.5,922.2 909.8,921.6 910.1,921.0 C910.4,920.4 910.8,919.9 911.1,919.3 C911.4,918.7 911.7,918.1 912.0,917.5 C912.3,916.9 912.7,916.3 913.0,915.7 C913.3,915.1 913.6,914.6 913.9,914.0 C914.2,913.4 914.6,912.8 914.9,912.2 C915.2,911.6 915.5,911.1 915.8,910.5 C916.1,909.9 916.5,909.3 916.8,908.7 C917.1,908.1 917.5,907.6 917.8,907.0 C918.1,906.4 918.4,905.8 918.7,905.2 C919.0,904.6 919.4,904.1 919.7,903.5 C920.0,902.9 920.4,902.3 920.7,901.7 C921.0,901.1 921.3,900.6 921.6,900.0 C921.9,899.4 922.3,898.8 922.6,898.2 C922.9,897.6 923.3,897.1 923.6,896.5 C923.9,895.9 924.2,895.4 924.5,894.8 C924.8,894.2 925.2,893.6 925.5,893.0 C925.8,892.4 926.2,891.9 926.5,891.3 C926.8,890.7 927.2,890.1 927.5,889.5 C927.8,888.9 928.2,888.4 928.5,887.8 C928.8,887.2 929.1,886.7 929.4,886.1 C929.7,885.5 930.1,884.9 930.4,884.3 C930.7,883.7 931.1,883.2 931.4,882.6 C931.7,882.0 932.1,881.5 932.4,880.9 C932.7,880.3 933.1,879.7 933.4,879.1 C933.7,878.5 934.1,878.0 934.4,877.4 C934.7,876.8 935.1,876.3 935.4,875.7 C935.7,875.1 936.1,874.6 936.4,874.0 C936.7,873.4 937.1,872.8 937.4,872.2 C937.7,871.6 938.1,871.1 938.4,870.5 C938.7,869.9 939.1,869.4 939.4,868.8 C939.7,868.2 940.1,867.7 940.4,867.1 C940.7,866.5 941.1,866.0 941.4,865.4 C941.7,864.8 942.1,864.2 942.4,863.6 C942.7,863.0 943.1,862.5 943.4,861.9 C943.7,861.3 944.1,860.8 944.4,860.2 C944.7,859.6 945.1,859.1 945.4,858.5 C945.7,857.9 946.0,857.4 946.4,856.8 C946.8,856.2 947.1,855.7 947.5,855.1 C947.9,854.5 948.2,854.0 948.5,853.4 C948.8,852.8 949.2,852.2 949.5,851.6 C949.8,851.0 950.1,850.5 950.5,849.9 C950.9,849.3 951.2,848.8 951.6,848.2 C952.0,847.6 952.3,847.1 952.6,846.5 C952.9,845.9 953.2,845.4 953.6,844.8 C954.0,844.2 954.4,843.7 954.7,843.1 C955.1,842.5 955.4,842.0 955.7,841.4 C956.0,840.8 956.4,840.3 956.7,839.7 C957.1,839.1 957.4,838.6 957.8,838.0 C958.1,837.4 958.4,836.9 958.8,836.3 C959.1,835.7 959.5,835.2 959.9,834.6 C960.2,834.0 960.5,833.5 960.9,832.9 C961.2,832.3 961.6,831.8 962.0,831.2 C962.4,830.6 962.6,830.0 963.0,829.5 C963.4,829.0 963.8,828.4 964.1,827.9 C964.5,827.4 964.8,826.8 965.1,826.2 C965.5,825.6 965.8,825.1 966.2,824.5 C966.6,823.9 966.9,823.4 967.3,822.8 C967.6,822.2 967.9,821.7 968.3,821.1 C968.6,820.5 969.0,820.0 969.4,819.4 C969.8,818.8 970.1,818.3 970.5,817.8 C970.9,817.3 971.2,816.7 971.6,816.2 C972.0,815.7 972.4,815.1 972.8,814.6 C973.2,814.1 973.6,813.6 974.0,813.1 C974.4,812.6 974.9,812.2 975.3,811.7 C975.7,811.2 976.1,810.7 976.6,810.3 C977.1,809.9 977.5,809.5 978.0,809.1 C978.5,808.7 979.0,808.3 979.5,807.9 C980.0,807.5 980.6,807.2 981.1,806.9 C981.6,806.6 982.1,806.3 982.7,806.0 C983.3,805.7 983.9,805.5 984.5,805.2 C985.1,804.9 985.6,804.7 986.2,804.4 C986.8,804.1 987.4,803.9 988.0,803.6 C988.6,803.4 989.2,803.2 989.8,802.9 C990.4,802.6 991.0,802.3 991.6,802.0 C992.2,801.7 992.7,801.4 993.2,801.1 C993.8,800.8 994.3,800.4 994.9,800.1 C995.5,799.8 996.0,799.4 996.6,799.1 C997.2,798.8 997.7,798.5 998.2,798.1 C998.7,797.8 999.3,797.4 999.8,797.0 C1000.3,796.6 1000.8,796.2 1001.4,795.8 C1002.0,795.4 1002.5,795.1 1003.1,794.7 C1003.7,794.3 1004.2,793.9 1004.7,793.5 C1005.2,793.1 1005.8,792.7 1006.4,792.3 C1007.0,791.9 1007.5,791.5 1008.1,791.1 C1008.7,790.7 1009.2,790.3 1009.8,789.9 C1010.4,789.5 1010.9,789.1 1011.5,788.7 C1012.1,788.3 1012.6,788.0 1013.2,787.6 C1013.8,787.2 1014.4,786.8 1015.0,786.4 C1015.6,786.0 1016.1,785.7 1016.7,785.3 C1017.3,784.9 1017.9,784.6 1018.5,784.2 C1019.1,783.8 1019.6,783.5 1020.2,783.1 C1020.8,782.8 1021.4,782.4 1022.0,782.1 C1022.6,781.8 1023.2,781.5 1023.8,781.2 C1024.4,780.9 1025.0,780.6 1025.6,780.3 C1026.2,780.0 1026.9,779.8 1027.5,779.5 C1028.1,779.2 1028.7,779.0 1029.3,778.7 C1029.9,778.5 1030.5,778.2 1031.1,778.0 C1031.7,777.8 1032.4,777.6 1033.0,777.4 C1033.6,777.2 1034.3,777.0 1034.9,776.9 C1035.5,776.8 1036.1,776.6 1036.7,776.5 C1037.3,776.4 1038.0,776.3 1038.6,776.2 C1039.2,776.1 1039.8,776.0 1040.5,776.0 C1041.2,776.0 1041.8,775.9 1042.5,775.9 C1043.2,775.9 1043.8,776.0 1044.4,776.0 C1045.0,776.0 1045.7,776.1 1046.3,776.1 C1046.9,776.1 1047.5,776.2 1048.2,776.3 C1048.9,776.4 1049.6,776.5 1050.2,776.6 C1050.8,776.7 1051.4,776.9 1052.1,777.0 C1052.8,777.1 1053.4,777.3 1054.1,777.5 C1054.8,777.7 1055.4,777.9 1056.0,778.1 C1056.6,778.3 1057.3,778.5 1057.9,778.7 C1058.5,778.9 1059.2,779.1 1059.8,779.4 C1060.4,779.6 1061.1,779.9 1061.7,780.2 C1062.3,780.5 1063.0,780.7 1063.6,781.0 C1064.2,781.3 1064.9,781.6 1065.5,781.9 C1066.1,782.2 1066.8,782.5 1067.4,782.8 C1068.0,783.1 1068.6,783.4 1069.2,783.7 C1069.8,784.0 1070.4,784.4 1071.0,784.7 C1071.6,785.0 1072.2,785.4 1072.8,785.7 C1073.4,786.1 1074.0,786.4 1074.6,786.8 C1075.2,787.1 1075.7,787.4 1076.3,787.8 C1076.9,788.1 1077.4,788.5 1078.0,788.9 C1078.6,789.3 1079.1,789.6 1079.7,790.0 C1080.3,790.4 1080.8,790.7 1081.4,791.1 C1082.0,791.5 1082.5,791.9 1083.1,792.3 C1083.6,792.7 1084.2,793.1 1084.7,793.5 C1085.2,793.9 1085.8,794.2 1086.3,794.6 C1086.8,795.0 1087.4,795.4 1087.9,795.8 C1088.4,796.2 1088.9,796.7 1089.4,797.1 C1089.9,797.5 1090.5,797.9 1091.0,798.3 C1091.5,798.7 1092.0,799.2 1092.5,799.6 C1093.0,800.0 1093.5,800.5 1094.0,800.9 C1094.5,801.3 1095.0,801.8 1095.5,802.2 C1096.0,802.6 1096.4,803.1 1096.9,803.5 C1097.4,803.9 1097.9,804.3 1098.4,804.8 C1098.9,805.2 1099.3,805.8 1099.8,806.2 C1100.3,806.7 1100.7,807.0 1101.2,807.5 C1101.7,808.0 1102.1,808.4 1102.6,808.9 C1103.1,809.4 1103.5,809.8 1104.0,810.3 C1104.5,810.8 1105.0,811.2 1105.4,811.7 C1105.9,812.2 1106.2,812.7 1106.7,813.2 C1107.2,813.7 1107.6,814.1 1108.1,814.6 C1108.5,815.1 1109.0,815.6 1109.4,816.1 C1109.8,816.6 1110.3,817.0 1110.7,817.5 C1111.1,818.0 1111.6,818.5 1112.0,819.0 C1112.4,819.5 1112.9,820.0 1113.3,820.5 C1113.7,821.0 1114.2,821.5 1114.6,822.0 C1115.0,822.5 1115.4,823.0 1115.8,823.5 C1116.2,824.0 1116.7,824.6 1117.1,825.1 C1117.5,825.6 1117.9,826.1 1118.3,826.6 C1118.7,827.1 1119.2,827.6 1119.6,828.1 C1120.0,828.6 1120.4,829.2 1120.8,829.7 C1121.2,830.2 1121.6,830.8 1122.0,831.3 C1122.4,831.8 1122.8,832.4 1123.2,832.9 C1123.6,833.4 1124.0,833.9 1124.4,834.4 C1124.8,834.9 1125.2,835.5 1125.6,836.0 C1126.0,836.5 1126.4,837.1 1126.8,837.6 C1127.2,838.1 1127.6,838.8 1128.0,839.3 C1128.4,839.8 1128.8,840.4 1129.2,840.9 C1129.6,841.4 1130.0,842.0 1130.4,842.5 C1130.8,843.0 1131.2,843.6 1131.6,844.1 C1132.0,844.6 1132.3,845.2 1132.7,845.8 C1133.1,846.3 1133.5,846.8 1133.9,847.4 C1134.3,848.0 1134.6,848.5 1135.0,849.1 C1135.4,849.7 1135.8,850.2 1136.2,850.7 C1136.6,851.2 1136.9,851.8 1137.3,852.4 C1137.7,853.0 1138.0,853.5 1138.4,854.1 C1138.8,854.7 1139.1,855.2 1139.5,855.8 C1139.9,856.3 1140.2,856.8 1140.6,857.4 C1141.0,858.0 1141.3,858.5 1141.7,859.1 C1142.1,859.7 1142.4,860.2 1142.8,860.8 C1143.2,861.4 1143.5,861.9 1143.9,862.5 C1144.3,863.1 1144.6,863.6 1145.0,864.2 C1145.4,864.8 1145.8,865.3 1146.1,865.9 C1146.4,866.5 1146.8,867.0 1147.1,867.6 C1147.4,868.2 1147.8,868.7 1148.2,869.3 C1148.6,869.9 1148.9,870.4 1149.2,871.0 C1149.5,871.6 1149.9,872.2 1150.2,872.8 C1150.5,873.4 1150.9,873.9 1151.2,874.5 C1151.5,875.1 1151.9,875.6 1152.2,876.2 C1152.5,876.8 1152.9,877.3 1153.2,877.9 C1153.5,878.5 1153.9,879.1 1154.2,879.7 C1154.5,880.3 1154.9,880.8 1155.2,881.4 C1155.5,882.0 1155.9,882.5 1156.2,883.1 C1156.5,883.7 1156.9,884.2 1157.2,884.8 C1157.5,885.4 1157.8,886.0 1158.1,886.6 C1158.4,887.2 1158.8,887.7 1159.1,888.3 C1159.4,888.9 1159.7,889.5 1160.0,890.1 C1160.3,890.7 1160.6,891.2 1160.9,891.8 C1161.2,892.4 1161.6,893.0 1161.9,893.6 C1162.2,894.2 1162.5,894.7 1162.8,895.3 C1163.1,895.9 1163.4,896.4 1163.7,897.0 C1164.0,897.6 1164.3,898.2 1164.6,898.8 C1164.9,899.4 1165.2,899.9 1165.5,900.5 C1165.8,901.1 1166.1,901.7 1166.4,902.3 C1166.7,902.9 1167.0,903.5 1167.3,904.1 C1167.6,904.7 1167.9,905.2 1168.2,905.8 C1168.5,906.4 1168.8,907.0 1169.1,907.6 C1169.4,908.2 1169.7,908.7 1170.0,909.3 C1170.3,909.9 1170.6,910.5 1170.9,911.1 C1171.2,911.7 1171.5,912.3 1171.8,912.9 C1172.1,913.5 1172.3,914.0 1172.6,914.6 C1172.9,915.2 1173.2,915.8 1173.5,916.4 C1173.8,917.0 1174.1,917.6 1174.4,918.2 C1174.7,918.8 1174.9,919.3 1175.2,919.9 C1175.5,920.5 1175.8,921.1 1176.1,921.7 C1176.4,922.3 1176.6,922.9 1176.9,923.5 C1177.2,924.1 1177.5,924.6 1177.8,925.2 C1178.1,925.8 1178.4,926.4 1178.7,927.0 C1179.0,927.6 1179.2,928.2 1179.5,928.8 C1179.8,929.4 1180.1,929.9 1180.4,930.5 C1180.7,931.1 1180.9,931.7 1181.2,932.3 C1181.5,932.9 1181.8,933.5 1182.1,934.1 C1182.4,934.7 1182.6,935.2 1182.9,935.8 C1183.2,936.4 1183.5,937.0 1183.8,937.6 C1184.1,938.2 1184.3,938.8 1184.6,939.4 C1184.9,940.0 1185.2,940.6 1185.5,941.2 C1185.8,941.8 1186.0,942.3 1186.3,942.9 C1186.6,943.5 1186.9,944.1 1187.2,944.7 C1187.5,945.3 1187.7,945.9 1188.0,946.5 C1188.3,947.1 1188.6,947.7 1188.9,948.3 C1189.2,948.9 1189.4,949.4 1189.7,950.0 C1190.0,950.6 1190.3,951.2 1190.6,951.8 C1190.9,952.4 1191.1,953.0 1191.4,953.6 C1191.7,954.2 1192.0,954.7 1192.3,955.3 C1192.6,955.9 1192.9,956.5 1193.2,957.1 C1193.5,957.7 1193.7,958.3 1194.0,958.9 C1194.3,959.5 1194.6,960.1 1194.9,960.7 C1195.2,961.3 1195.5,961.8 1195.8,962.4 C1196.1,963.0 1196.3,963.6 1196.6,964.2 C1196.9,964.8 1197.2,965.4 1197.5,966.0 C1197.8,966.6 1198.1,967.1 1198.4,967.7 C1198.7,968.3 1199.0,968.9 1199.3,969.5 C1199.6,970.1 1199.9,970.6 1200.2,971.2 C1200.5,971.8 1200.8,972.4 1201.1,973.0 C1201.4,973.6 1201.7,974.2 1202.0,974.8 C1202.3,975.4 1202.6,975.9 1202.9,976.5 C1203.2,977.1 1203.5,977.7 1203.8,978.3 C1204.1,978.9 1204.4,979.4 1204.7,980.0 C1205.0,980.6 1205.4,981.2 1205.7,981.8 C1206.0,982.4 1206.3,983.0 1206.6,983.6 C1206.9,984.2 1207.2,984.7 1207.5,985.3 C1207.8,985.9 1208.2,986.5 1208.5,987.1 C1208.8,987.7 1209.1,988.2 1209.4,988.8 C1209.7,989.4 1210.1,990.0 1210.4,990.6 C1210.7,991.2 1211.0,991.7 1211.3,992.3 C1211.6,992.9 1212.0,993.4 1212.3,994.0 C1212.6,994.6 1213.0,995.2 1213.3,995.8 C1213.6,996.4 1214.0,996.9 1214.3,997.5 C1214.6,998.1 1215.0,998.7 1215.3,999.3 C1215.6,999.9 1216.0,1000.4 1216.3,1001.0 C1216.6,1001.6 1217.0,1002.1 1217.3,1002.7 C1217.6,1003.3 1217.9,1003.9 1218.3,1004.5 C1218.7,1005.1 1219.1,1005.6 1219.4,1006.2 C1219.8,1006.8 1220.1,1007.3 1220.4,1007.9 C1220.8,1008.5 1221.2,1009.0 1221.5,1009.6 C1221.8,1010.2 1222.2,1010.7 1222.5,1011.3 C1222.8,1011.9 1223.2,1012.5 1223.6,1013.1 C1224.0,1013.7 1224.3,1014.2 1224.7,1014.8 C1225.1,1015.4 1225.4,1015.9 1225.8,1016.5 C1226.2,1017.1 1226.5,1017.6 1226.9,1018.2 C1227.3,1018.8 1227.6,1019.3 1228.0,1019.9 C1228.4,1020.5 1228.7,1021.0 1229.1,1021.6 C1229.5,1022.2 1229.8,1022.7 1230.2,1023.3 C1230.6,1023.9 1230.9,1024.4 1231.3,1025.0 C1231.7,1025.6 1232.0,1026.2 1232.4,1026.7 C1232.8,1027.2 1233.2,1027.8 1233.6,1028.3 C1234.0,1028.8 1234.3,1029.4 1234.7,1030.0 C1235.1,1030.6 1235.5,1031.1 1235.9,1031.7 C1236.3,1032.3 1236.7,1032.9 1237.1,1033.4 C1237.5,1034.0 1237.8,1034.5 1238.2,1035.0 C1238.6,1035.5 1239.0,1036.1 1239.4,1036.7 C1239.8,1037.3 1240.2,1037.9 1240.6,1038.4 C1241.0,1039.0 1241.4,1039.5 1241.8,1040.0 C1242.2,1040.5 1242.6,1041.2 1243.0,1041.7 C1243.4,1042.2 1243.8,1042.8 1244.2,1043.3 C1244.6,1043.8 1245.0,1044.5 1245.4,1045.0 C1245.8,1045.5 1246.3,1046.1 1246.7,1046.6 C1247.1,1047.1 1247.5,1047.7 1247.9,1048.2 C1248.3,1048.8 1248.8,1049.4 1249.2,1049.9 C1249.6,1050.5 1250.0,1051.0 1250.4,1051.5 C1250.8,1052.0 1251.3,1052.6 1251.7,1053.1 C1252.1,1053.6 1252.5,1054.2 1252.9,1054.7 C1253.3,1055.2 1253.8,1055.8 1254.2,1056.3 C1254.6,1056.8 1255.1,1057.4 1255.5,1057.9 C1255.9,1058.4 1256.4,1059.0 1256.8,1059.5 C1257.2,1060.0 1257.7,1060.6 1258.1,1061.1 C1258.5,1061.6 1259.0,1062.2 1259.4,1062.7 C1259.8,1063.2 1260.3,1063.8 1260.7,1064.3 C1261.1,1064.8 1261.6,1065.4 1262.0,1065.9 C1262.4,1066.4 1262.9,1066.9 1263.3,1067.4 C1263.7,1067.9 1264.1,1068.5 1264.6,1069.0 C1265.0,1069.5 1265.5,1070.0 1266.0,1070.5 C1266.5,1071.0 1266.8,1071.6 1267.3,1072.1 C1267.8,1072.6 1268.2,1073.1 1268.7,1073.6 C1269.2,1074.1 1269.5,1074.7 1270.0,1075.2 C1270.5,1075.7 1271.0,1076.2 1271.4,1076.7 C1271.9,1077.2 1272.2,1077.7 1272.7,1078.2 C1273.2,1078.7 1273.6,1079.3 1274.1,1079.8 C1274.6,1080.3 1275.0,1080.8 1275.5,1081.3 C1276.0,1081.8 1276.4,1082.3 1276.9,1082.8 C1277.4,1083.3 1277.8,1083.8 1278.3,1084.3 C1278.8,1084.8 1279.2,1085.3 1279.7,1085.8 C1280.2,1086.3 1280.6,1086.7 1281.1,1087.2 C1281.6,1087.7 1282.0,1088.2 1282.5,1088.7 C1283.0,1089.2 1283.4,1089.7 1283.9,1090.2 C1284.4,1090.7 1284.8,1091.1 1285.3,1091.6 C1285.8,1092.1 1286.3,1092.6 1286.8,1093.1 C1287.3,1093.6 1287.7,1094.0 1288.2,1094.5 C1288.7,1095.0 1289.1,1095.5 1289.6,1096.0 C1290.1,1096.5 1290.6,1096.9 1291.1,1097.4 C1291.6,1097.9 1292.0,1098.3 1292.5,1098.8 C1293.0,1099.3 1293.5,1099.8 1294.0,1100.3 C1294.5,1100.8 1295.0,1101.2 1295.5,1101.7 C1296.0,1102.2 1296.4,1102.6 1296.9,1103.1 C1297.4,1103.6 1297.9,1104.0 1298.4,1104.5 C1298.9,1105.0 1299.4,1105.3 1299.9,1105.8 C1300.4,1106.2 1300.9,1106.7 1301.4,1107.2 C1301.9,1107.7 1302.4,1108.1 1302.9,1108.6 C1303.4,1109.1 1303.9,1109.5 1304.4,1110.0 C1304.9,1110.5 1305.4,1110.9 1305.9,1111.3 C1306.4,1111.7 1306.9,1112.1 1307.4,1112.6 C1307.9,1113.0 1308.4,1113.5 1308.9,1114.0 C1309.4,1114.5 1309.9,1114.9 1310.4,1115.3 C1310.9,1115.7 1311.5,1116.2 1312.0,1116.6 C1312.5,1117.0 1313.0,1117.5 1313.5,1117.9 C1314.0,1118.3 1314.5,1118.8 1315.0,1119.2 C1315.5,1119.6 1316.1,1120.1 1316.6,1120.5 C1317.1,1120.9 1317.6,1121.4 1318.1,1121.8 C1318.6,1122.2 1319.2,1122.7 1319.7,1123.1 C1320.2,1123.5 1320.7,1123.9 1321.2,1124.3 C1321.7,1124.7 1322.3,1125.2 1322.8,1125.6 C1323.3,1126.0 1323.9,1126.4 1324.4,1126.8 C1324.9,1127.2 1325.4,1127.6 1325.9,1128.0 C1326.4,1128.4 1327.0,1128.9 1327.5,1129.3 C1328.0,1129.7 1328.6,1130.1 1329.1,1130.5 C1329.6,1130.9 1330.2,1131.3 1330.7,1131.7 C1331.2,1132.1 1331.8,1132.5 1332.3,1132.9 C1332.8,1133.3 1333.3,1133.7 1333.8,1134.1 C1334.3,1134.5 1334.9,1134.8 1335.4,1135.2 C1335.9,1135.6 1336.5,1136.0 1337.0,1136.4 C1337.5,1136.8 1338.2,1137.2 1338.7,1137.6 C1339.2,1138.0 1339.8,1138.3 1340.3,1138.7 C1340.8,1139.1 1341.4,1139.4 1341.9,1139.8 C1342.4,1140.2 1343.0,1140.6 1343.5,1141.0 C1344.0,1141.4 1344.5,1141.7 1345.1,1142.1 C1345.6,1142.5 1346.2,1142.8 1346.8,1143.2 C1347.3,1143.6 1347.9,1143.9 1348.4,1144.3 C1348.9,1144.7 1349.5,1145.0 1350.0,1145.4 C1350.5,1145.8 1351.2,1146.1 1351.7,1146.5 C1352.2,1146.9 1352.8,1147.2 1353.3,1147.6 C1353.8,1147.9 1354.5,1148.2 1355.0,1148.6 C1355.5,1148.9 1356.0,1149.3 1356.6,1149.7 C1357.1,1150.1 1357.7,1150.4 1358.3,1150.7 C1358.9,1151.0 1359.5,1151.5 1360.0,1151.8 C1360.5,1152.1 1361.0,1152.5 1361.6,1152.8 C1362.1,1153.1 1362.7,1153.4 1363.3,1153.8 C1363.9,1154.2 1364.4,1154.6 1365.0,1154.9 C1365.6,1155.2 1366.1,1155.6 1366.7,1155.9 C1367.3,1156.2 1367.9,1156.6 1368.4,1156.9 C1369.0,1157.2 1369.5,1157.6 1370.0,1157.9 C1370.5,1158.2 1371.1,1158.5 1371.7,1158.8 C1372.3,1159.1 1372.8,1159.5 1373.4,1159.8 C1374.0,1160.1 1374.5,1160.5 1375.1,1160.8 C1375.7,1161.1 1376.2,1161.4 1376.8,1161.7 C1377.4,1162.0 1378.0,1162.4 1378.6,1162.7 C1379.2,1163.0 1379.7,1163.3 1380.3,1163.6 C1380.9,1163.9 1381.4,1164.2 1382.0,1164.5 C1382.6,1164.8 1383.1,1165.2 1383.7,1165.5 C1384.3,1165.8 1384.8,1166.1 1385.4,1166.4 C1386.0,1166.7 1386.6,1167.0 1387.2,1167.3 C1387.8,1167.6 1388.3,1167.9 1388.9,1168.2 C1389.5,1168.5 1390.0,1168.8 1390.6,1169.1 C1391.2,1169.4 1391.8,1169.7 1392.4,1170.0 C1393.0,1170.3 1393.5,1170.5 1394.1,1170.8 C1394.7,1171.1 1395.3,1171.4 1395.9,1171.7 C1396.5,1172.0 1397.0,1172.3 1397.6,1172.6 C1398.2,1172.9 1398.8,1173.1 1399.4,1173.4 C1400.0,1173.7 1400.6,1174.0 1401.2,1174.3 C1401.8,1174.6 1402.3,1174.8 1402.9,1175.1 C1403.5,1175.4 1404.1,1175.6 1404.7,1175.9 C1405.3,1176.2 1405.9,1176.5 1406.5,1176.8 C1407.1,1177.1 1407.6,1177.3 1408.2,1177.6 C1408.8,1177.9 1409.4,1178.1 1410.0,1178.4 C1410.6,1178.7 1411.2,1178.9 1411.8,1179.2 C1412.4,1179.5 1413.0,1179.8 1413.6,1180.0 C1414.2,1180.2 1414.8,1180.5 1415.4,1180.7 C1416.0,1181.0 1416.6,1181.2 1417.2,1181.5 C1417.8,1181.8 1418.4,1182.0 1419.0,1182.3 C1419.6,1182.6 1420.2,1182.8 1420.8,1183.1 C1421.4,1183.3 1422.0,1183.5 1422.6,1183.8 C1423.2,1184.0 1423.8,1184.3 1424.4,1184.6 C1425.0,1184.8 1425.6,1185.1 1426.2,1185.3 C1426.8,1185.5 1427.4,1185.8 1428.0,1186.0 C1428.6,1186.2 1429.2,1186.5 1429.8,1186.8 C1430.4,1187.0 1431.0,1187.3 1431.6,1187.5 C1432.2,1187.7 1432.9,1188.0 1433.5,1188.2 C1434.1,1188.4 1434.7,1188.7 1435.3,1188.9 C1435.9,1189.1 1436.5,1189.4 1437.1,1189.6 C1437.7,1189.8 1438.3,1190.1 1438.9,1190.3 C1439.5,1190.5 1440.2,1190.8 1440.8,1191.0 C1441.4,1191.2 1442.0,1191.4 1442.6,1191.6 C1443.2,1191.8 1443.9,1192.1 1444.5,1192.3 C1445.1,1192.5 1445.7,1192.8 1446.3,1193.0 C1446.9,1193.2 1447.6,1193.4 1448.2,1193.6 C1448.8,1193.8 1449.4,1194.1 1450.0,1194.3 C1450.6,1194.5 1451.3,1194.7 1451.9,1194.9 C1452.5,1195.1 1453.1,1195.3 1453.7,1195.5 C1454.3,1195.7 1455.0,1196.0 1455.6,1196.2 C1456.2,1196.4 1456.8,1196.6 1457.4,1196.8 C1458.0,1197.0 1458.7,1197.2 1459.3,1197.4 C1459.9,1197.6 1460.6,1197.8 1461.2,1198.0 C1461.8,1198.2 1462.4,1198.4 1463.0,1198.6 C1463.6,1198.8 1464.3,1199.0 1464.9,1199.2 C1465.5,1199.4 1466.2,1199.6 1466.8,1199.8 C1467.4,1200.0 1468.1,1200.2 1468.7,1200.4 C1469.3,1200.6 1470.0,1200.8 1470.6,1201.0 C1471.2,1201.2 1471.8,1201.3 1472.4,1201.5 C1473.0,1201.7 1473.7,1201.9 1474.3,1202.1 C1474.9,1202.3 1475.6,1202.5 1476.2,1202.7 C1476.8,1202.9 1477.5,1203.0 1478.1,1203.2 C1478.7,1203.4 1479.4,1203.6 1480.0,1203.8 C1480.6,1204.0 1481.3,1204.1 1481.9,1204.3 C1482.5,1204.5 1483.2,1204.6 1483.8,1204.8 C1484.4,1205.0 1485.1,1205.2 1485.7,1205.4 C1486.3,1205.6 1487.0,1205.7 1487.6,1205.9 C1488.2,1206.1 1488.9,1206.2 1489.5,1206.4 C1490.1,1206.6 1490.8,1206.7 1491.4,1206.9 C1492.1,1207.1 1492.8,1207.2 1493.4,1207.4 C1494.1,1207.6 1494.7,1207.7 1495.3,1207.9 C1495.9,1208.1 1496.6,1208.2 1497.2,1208.4 C1497.8,1208.6 1498.5,1208.7 1499.1,1208.9 C1499.7,1209.1 1500.3,1209.2 1501.0,1209.4 C1501.7,1209.6 1502.3,1209.7 1503.0,1209.8 C1503.7,1209.9 1504.3,1210.1 1504.9,1210.3 C1505.5,1210.5 1506.2,1210.6 1506.8,1210.8 C1507.4,1211.0 1508.1,1211.0 1508.8,1211.2 C1509.5,1211.4 1510.1,1211.6 1510.7,1211.7 C1511.3,1211.8 1511.9,1211.9 1512.6,1212.1 C1513.2,1212.2 1513.9,1212.4 1514.6,1212.6 C1515.2,1212.8 1515.8,1212.9 1516.5,1213.0 C1517.2,1213.1 1517.8,1213.2 1518.5,1213.4 C1519.2,1213.6 1519.8,1213.8 1520.4,1213.9 C1521.0,1214.1 1521.7,1214.2 1522.3,1214.3 C1522.9,1214.4 1523.6,1214.6 1524.3,1214.7 C1525.0,1214.8 1525.5,1215.0 1526.2,1215.1 C1526.9,1215.2 1527.5,1215.4 1528.2,1215.5 C1528.9,1215.6 1529.6,1215.8 1530.2,1215.9 C1530.8,1216.0 1531.4,1216.2 1532.1,1216.3 C1532.8,1216.4 1533.4,1216.6 1534.1,1216.7 C1534.8,1216.8 1535.3,1217.0 1536.0,1217.1 C1536.7,1217.2 1537.3,1217.4 1538.0,1217.5 C1538.7,1217.6 1539.3,1217.7 1540.0,1217.8 C1540.7,1217.9 1541.2,1218.1 1541.9,1218.2 C1542.6,1218.3 1543.2,1218.5 1543.9,1218.6 C1544.6,1218.7 1545.2,1218.8 1545.9,1218.9 C1546.6,1219.0 1547.2,1219.2 1547.8,1219.3 C1548.4,1219.4 1549.1,1219.5 1549.8,1219.6 C1550.5,1219.7 1551.1,1219.9 1551.8,1220.0 C1552.5,1220.1 1553.1,1220.2 1553.8,1220.3 C1554.5,1220.4 1555.1,1220.5 1555.8,1220.6 C1556.5,1220.7 1557.0,1220.9 1557.7,1221.0 C1558.4,1221.1 1559.0,1221.2 1559.7,1221.3 C1560.4,1221.4 1561.0,1221.5 1561.7,1221.6 C1562.4,1221.7 1563.0,1221.8 1563.7,1221.9 C1564.4,1222.0 1565.0,1222.1 1565.7,1222.2 C1566.4,1222.3 1567.0,1222.5 1567.7,1222.6 C1568.4,1222.7 1569.1,1222.8 1569.7,1222.9 C1570.3,1223.0 1570.9,1223.1 1571.6,1223.2 C1572.2,1223.3 1572.9,1223.4 1573.6,1223.5 C1574.3,1223.6 1574.9,1223.6 1575.6,1223.7 C1576.3,1223.8 1576.9,1223.9 1577.6,1224.0 C1578.3,1224.1 1578.9,1224.2 1579.6,1224.3 C1580.3,1224.4 1580.9,1224.5 1581.6,1224.6 C1582.3,1224.7 1582.9,1224.8 1583.6,1224.9 C1584.3,1225.0 1584.9,1225.0 1585.6,1225.1 C1586.3,1225.2 1586.9,1225.3 1587.6,1225.4 C1588.3,1225.5 1588.9,1225.6 1589.6,1225.7 C1590.3,1225.8 1590.9,1225.8 1591.6,1225.9 C1592.3,1226.0 1592.9,1226.1 1593.6,1226.2 C1594.3,1226.3 1594.9,1226.3 1595.6,1226.4 C1596.3,1226.5 1597.0,1226.6 1597.7,1226.7 C1598.4,1226.8 1599.0,1226.8 1599.7,1226.9 C1600.4,1227.0 1601.0,1227.1 1601.7,1227.2 C1602.4,1227.3 1603.0,1227.3 1603.7,1227.4 C1604.4,1227.5 1605.0,1227.5 1605.7,1227.6 C1606.4,1227.7 1607.0,1227.7 1607.7,1227.8 C1608.4,1227.9 1609.0,1228.0 1609.7,1228.1 C1610.4,1228.2 1611.0,1228.2 1611.7,1228.3 C1612.4,1228.4 1613.1,1228.4 1613.8,1228.5 C1614.5,1228.6 1615.1,1228.6 1615.8,1228.7 C1616.5,1228.8 1617.1,1228.8 1617.8,1228.9 C1618.5,1229.0 1619.1,1229.0 1619.8,1229.1 C1620.5,1229.2 1621.1,1229.2 1621.8,1229.3 C1622.5,1229.4 1623.2,1229.4 1623.9,1229.5 C1624.6,1229.6 1625.2,1229.6 1625.9,1229.7 C1626.6,1229.8 1627.2,1229.8 1627.9,1229.9 C1628.6,1230.0 1629.2,1230.0 1629.9,1230.1 C1630.6,1230.2 1631.3,1230.2 1632.0,1230.3 C1632.7,1230.4 1633.3,1230.4 1634.0,1230.5 C1634.7,1230.6 1635.3,1230.7 1636.0,1230.7 C1636.7,1230.8 1637.3,1230.8 1638.0,1230.8 C1638.7,1230.8 1639.4,1230.9 1640.1,1231.0 C1640.8,1231.1 1641.4,1231.2 1642.1,1231.2 C1642.8,1231.2 1643.4,1231.2 1644.1,1231.3 C1644.8,1231.3 1645.4,1231.4 1646.1,1231.5 C1646.8,1231.6 1647.5,1231.7 1648.2,1231.7 C1648.9,1231.8 1649.5,1231.8 1650.2,1231.8 C1650.9,1231.8 1651.5,1232.0 1652.2,1232.0 C1652.9,1232.0 1653.6,1232.0 1654.3,1232.1 C1655.0,1232.1 1655.6,1232.2 1656.3,1232.3 C1657.0,1232.3 1657.6,1232.4 1658.3,1232.4 C1659.0,1232.5 1659.7,1232.5 1660.4,1232.6 C1661.1,1232.6 1661.7,1232.7 1662.4,1232.7 C1663.1,1232.8 1663.7,1232.9 1664.4,1232.9 C1665.1,1233.0 1665.8,1233.0 1666.5,1233.0 C1667.2,1233.0 1667.8,1233.0 1668.5,1233.1 C1669.2,1233.1 1669.8,1233.2 1670.5,1233.3 C1671.2,1233.3 1671.9,1233.4 1672.6,1233.4 C1673.3,1233.4 1673.9,1233.5 1674.6,1233.5 C1675.3,1233.5 1675.9,1233.5 1676.6,1233.6 C1677.3,1233.6 1678.0,1233.8 1678.7,1233.8 C1679.4,1233.8 1680.0,1233.9 1680.7,1233.9 C1681.4,1233.9 1682.0,1234.0 1682.7,1234.0 C1683.4,1234.0 1684.1,1234.1 1684.8,1234.1 C1685.5,1234.1 1686.1,1234.2 1686.8,1234.2 C1687.5,1234.2 1688.1,1234.3 1688.8,1234.3 C1689.5,1234.3 1690.2,1234.4 1690.9,1234.4 C1691.6,1234.5 1692.2,1234.5 1692.9,1234.6 C1693.6,1234.6 1694.2,1234.7 1694.9,1234.7 C1695.6,1234.7 1696.3,1234.8 1697.0,1234.8 C1697.7,1234.8 1698.3,1234.9 1699.0,1234.9 C1699.7,1234.9 1700.3,1235.0 1701.0,1235.0 C1701.7,1235.0 1702.4,1235.1 1703.1,1235.1 C1703.8,1235.1 1704.4,1235.2 1705.1,1235.2 C1705.8,1235.2 1706.4,1235.2 1707.1,1235.2 C1707.8,1235.2 1708.5,1235.3 1709.2,1235.3 C1709.9,1235.3 1710.5,1235.4 1711.2,1235.4 C1711.9,1235.4 1712.5,1235.5 1713.2,1235.5 C1713.9,1235.5 1714.6,1235.6 1715.3,1235.6 C1716.0,1235.6 1716.6,1235.7 1717.3,1235.7 C1718.0,1235.7 1718.6,1235.8 1719.3,1235.8 C1720.0,1235.8 1720.7,1235.8 1721.4,1235.8 C1722.1,1235.8 1722.7,1235.9 1723.4,1235.9 C1724.1,1235.9 1724.7,1236.0 1725.4,1236.0 C1726.1,1236.0 1726.8,1236.1 1727.5,1236.1 C1728.2,1236.1 1728.8,1236.2 1729.5,1236.2 C1730.2,1236.2 1730.8,1236.2 1731.5,1236.2 C1732.2,1236.2 1732.9,1236.3 1733.6,1236.3 C1734.3,1236.3 1734.9,1236.4 1735.6,1236.4 C1736.3,1236.4 1736.9,1236.4 1737.6,1236.4 C1738.3,1236.4 1738.9,1236.5 1739.6,1236.5 C1740.3,1236.5 1741.0,1236.6 1741.7,1236.6 C1742.4,1236.6 1743.0,1236.6 1743.7,1236.6 C1744.4,1236.6 1745.0,1236.7 1745.7,1236.7 C1746.4,1236.7 1747.0,1236.8 1747.7,1236.8 C1748.4,1236.8 1749.1,1236.8 1749.8,1236.8 C1750.5,1236.8 1751.1,1236.9 1751.8,1236.9 C1752.5,1236.9 1753.1,1237.0 1753.8,1237.0 C1754.5,1237.0 1755.1,1237.0 1755.8,1237.0 C1756.5,1237.0 1757.2,1237.1 1757.9,1237.1 C1758.6,1237.1 1759.2,1237.1 1759.9,1237.1 C1760.6,1237.1 1761.2,1237.2 1761.9,1237.2 C1762.6,1237.2 1763.2,1237.3 1763.9,1237.3 C1764.6,1237.3 1765.2,1237.3 1765.9,1237.3 C1766.6,1237.3 1767.2,1237.4 1767.9,1237.4 C1768.6,1237.4 1769.3,1237.4 1770.0,1237.4 C1770.7,1237.4 1771.3,1237.5 1772.0,1237.5 C1772.7,1237.5 1773.3,1237.5 1774.0,1237.5 C1774.7,1237.5 1775.3,1237.6 1776.0,1237.6 C1776.7,1237.6 1777.3,1237.6 1778.0,1237.6 C1778.7,1237.6 1779.3,1237.7 1780.0,1237.7 C1780.7,1237.7 1781.3,1237.7 1782.0,1237.7 C1782.7,1237.7 1783.3,1237.8 1784.0,1237.8 C1784.7,1237.8 1785.4,1237.8 1786.1,1237.8 C1786.8,1237.8 1787.4,1237.9 1788.1,1237.9 C1788.8,1237.9 1789.4,1237.9 1790.1,1237.9 C1790.8,1237.9 1791.4,1238.0 1792.1,1238.0 C1792.8,1238.0 1793.4,1238.0 1794.1,1238.0 C1794.8,1238.0 1795.4,1238.1 1796.1,1238.1 C1796.8,1238.1 1797.4,1238.1 1798.1,1238.1 C1798.8,1238.1 1799.4,1238.2 1800.1,1238.2 C1800.8,1238.2 1801.4,1238.2 1802.1,1238.2 C1802.8,1238.2 1803.4,1238.3 1804.1,1238.3 C1804.8,1238.3 1805.4,1238.3 1806.1,1238.3 C1806.8,1238.3 1807.4,1238.3 1808.1,1238.3 C1808.8,1238.3 1809.4,1238.4 1810.1,1238.4 C1810.8,1238.4 1811.4,1238.4 1812.1,1238.4 C1812.8,1238.4 1813.4,1238.5 1814.1,1238.5 C1814.8,1238.5 1815.4,1238.5 1816.1,1238.5 C1816.8,1238.5 1817.4,1238.6 1818.1,1238.6 C1818.8,1238.6 1819.4,1238.6 1820.1,1238.6 C1820.8,1238.6 1821.4,1238.6 1822.1,1238.6 C1822.8,1238.6 1823.4,1238.7 1824.1,1238.7 C1824.8,1238.7 1825.3,1238.7 1826.0,1238.7 C1826.7,1238.7 1827.3,1238.8 1828.0,1238.8 C1828.7,1238.8 1829.3,1238.8 1830.0,1238.8 C1830.7,1238.8 1831.3,1238.8 1832.0,1238.8 C1832.7,1238.8 1833.3,1238.9 1834.0,1238.9 C1834.7,1238.9 1835.3,1238.9 1836.0,1238.9 C1836.7,1238.9 1837.3,1238.9 1838.0,1238.9 C1838.7,1238.9 1839.3,1239.0 1840.0,1239.0 C1840.7,1239.0 1841.3,1239.0 1842.0,1239.0 C1842.7,1239.0 1843.2,1239.0 1843.9,1239.0 C1844.6,1239.0 1845.2,1239.1 1845.9,1239.1 C1846.6,1239.1 1847.2,1239.1 1847.9,1239.1 C1848.6,1239.1 1849.2,1239.1 1849.9,1239.1 C1850.6,1239.1 1851.2,1239.2 1851.9,1239.2 C1852.6,1239.2 1853.2,1239.2 1853.9,1239.2 C1854.6,1239.2 1855.2,1239.2 1855.9,1239.2 C1856.6,1239.2 1857.2,1239.3 1857.8,1239.3 C1858.4,1239.3 1859.1,1239.3 1859.8,1239.3 C1860.5,1239.3 1861.1,1239.3 1861.8,1239.3 C1862.5,1239.3 1863.1,1239.4 1863.8,1239.4 C1864.5,1239.4 1865.1,1239.4 1865.8,1239.4 C1866.5,1239.4 1867.0,1239.4 1867.7,1239.4 C1868.4,1239.4 1869.0,1239.5 1869.7,1239.5 C1870.4,1239.5 1871.0,1239.5 1871.7,1239.5 C1872.4,1239.5 1873.0,1239.5 1873.7,1239.5 C1874.4,1239.5 1875.1,1239.5 1875.7,1239.5 C1876.3,1239.5 1876.9,1239.6 1877.6,1239.6 C1878.2,1239.6 1878.9,1239.6 1879.6,1239.6 C1880.3,1239.6 1880.9,1239.6 1881.6,1239.6 C1882.3,1239.6 1882.9,1239.6 1883.6,1239.6 C1884.2,1239.6 1884.8,1239.7 1885.5,1239.7 C1886.2,1239.7 1886.8,1239.7 1887.5,1239.7 C1888.2,1239.7 1888.8,1239.7 1889.5,1239.7 C1890.2,1239.7 1890.8,1239.7 1891.5,1239.7 C1892.2,1239.7 1892.8,1239.8 1893.5,1239.8 C1894.2,1239.8 1894.8,1239.8 1895.4,1239.8 C1896.1,1239.8 1896.7,1239.8 1897.4,1239.8 C1898.1,1239.8 1898.8,1239.8 1899.4,1239.8 C1900.1,1239.8 1900.7,1239.9 1901.3,1239.9 C1901.9,1239.9 1902.6,1239.9 1903.3,1239.9 C1904.0,1239.9 1904.6,1239.9 1905.3,1239.9 C1906.0,1239.9 1906.6,1239.9 1907.3,1239.9 C1908.0,1239.9 1908.5,1239.9 1909.2,1239.9 C1909.9,1239.9 1910.5,1240.0 1911.2,1240.0 C1911.9,1240.0 1912.5,1240.0 1913.2,1240.0 C1913.9,1240.0 1914.6,1240.0 1915.2,1240.0 C1915.8,1240.0 1916.4,1240.0 1917.1,1240.0 C1917.8,1240.0 1918.4,1240.0 1919.1,1240.0 C1919.8,1240.0 1920.4,1240.1 1921.1,1240.1 C1921.8,1240.1 1922.4,1240.1 1923.1,1240.1 C1923.8,1240.1 1924.3,1240.1 1925.0,1240.1 C1925.7,1240.1 1926.3,1240.1 1927.0,1240.1 C1927.7,1240.1 1928.3,1240.1 1929.0,1240.1 C1929.7,1240.1 1930.2,1240.1 1930.9,1240.1 C1931.6,1240.1 1932.2,1240.2 1932.9,1240.2 C1933.6,1240.2 1934.2,1240.2 1934.9,1240.2 C1935.6,1240.2 1936.2,1240.2 1936.9,1240.2 C1937.6,1240.2 1938.2,1240.2 1938.8,1240.2 C1939.4,1240.2 1940.1,1240.2 1940.8,1240.2 C1941.5,1240.2 1942.1,1240.2 1942.8,1240.2 C1943.5,1240.2 1944.0,1240.2 1944.7,1240.2 C1945.4,1240.2 1946.0,1240.3 1946.7,1240.3 C1947.4,1240.3 1948.1,1240.3 1948.7,1240.3 C1949.3,1240.3 1949.9,1240.3 1950.6,1240.3 C1951.2,1240.3 1951.9,1240.3 1952.6,1240.3 C1953.3,1240.3 1953.9,1240.3 1954.6,1240.3 C1955.3,1240.3 1955.9,1240.3 1956.6,1240.3 C1957.2,1240.3 1957.8,1240.3 1958.5,1240.3 C1959.2,1240.3 1959.8,1240.4 1960.5,1240.4 C1961.2,1240.4 1961.8,1240.4 1962.5,1240.4 C1963.2,1240.4 1963.8,1240.4 1964.4,1240.4 C1965.1,1240.4 1965.7,1240.4 1966.4,1240.4 C1967.1,1240.4 1967.7,1240.4 1968.4,1240.4 C1969.1,1240.4 1969.8,1240.4 1970.4,1240.4 C1971.1,1240.4 1971.7,1240.4 1972.3,1240.4 C1972.9,1240.4 1973.6,1240.4 1974.3,1240.4 C1975.0,1240.4 1975.6,1240.4 1976.3,1240.4 C1977.0,1240.4 1977.5,1240.5 1978.2,1240.5 C1978.9,1240.5 1979.5,1240.5 1980.2,1240.5 C1980.9,1240.5 1981.5,1240.5 1982.2,1240.5 C1982.9,1240.5 1983.6,1240.5 1984.2,1240.5 C1984.8,1240.5 1985.4,1240.5 1986.1,1240.5 C1986.8,1240.5 1987.4,1240.5 1988.1,1240.5 C1988.8,1240.5 1989.4,1240.5 1990.1,1240.5 C1990.8,1240.5 1991.4,1240.5 1992.1,1240.5 C1992.8,1240.5 1993.3,1240.5 1994.0,1240.5 C1994.7,1240.5 1995.3,1240.5 1996.0,1240.5 C1996.7,1240.5 1997.3,1240.5 1998.0,1240.5 C1998.7,1240.5 1999.3,1240.5 2000.0,1240.5 C2000.7,1240.5 2001.2,1240.6 2001.9,1240.6 C2002.6,1240.6 2003.2,1240.6 2003.9,1240.6 C2004.6,1240.6 2005.2,1240.6 2005.9,1240.6 C2006.6,1240.6 2007.2,1240.6 2007.9,1240.6 C2008.6,1240.6 2009.2,1240.6 2009.8,1240.6 C2010.4,1240.6 2011.1,1240.6 2011.8,1240.6 C2012.5,1240.6 2013.1,1240.6 2013.8,1240.6 C2014.5,1240.6 2015.1,1240.6 2015.8,1240.6 C2016.5,1240.6 2017.0,1240.6 2017.7,1240.6 C2018.4,1240.6 2019.0,1240.6 2019.7,1240.6 C2020.4,1240.6 2021.0,1240.6 2021.7,1240.6 C2022.4,1240.6 2023.0,1240.6 2023.7,1240.6 C2024.4,1240.6 2025.1,1240.6 2025.7,1240.6 C2026.3,1240.6 2026.9,1240.6 2027.6,1240.6 C2028.2,1240.6 2028.9,1240.6 2029.6,1240.6 C2030.3,1240.6 2030.9,1240.6 2031.6,1240.6 C2032.3,1240.6 2032.9,1240.7 2033.6,1240.7 C2034.3,1240.7 2034.9,1240.7 2035.6,1240.7 C2036.2,1240.7 2036.8,1240.7 2037.5,1240.7 C2038.2,1240.7 2038.8,1240.7 2039.5,1240.7 C2040.2,1240.7 2040.8,1240.7 2041.5,1240.7 C2042.2,1240.7 2042.8,1240.7 2043.5,1240.7 C2044.2,1240.7 2044.8,1240.7 2045.5,1240.7 C2046.2,1240.7 2046.8,1240.7 2047.5,1240.7 C2048.2,1240.7 2048.8,1240.7 2049.4,1240.7 C2050.1,1240.7 2050.7,1240.7 2051.4,1240.7 C2052.1,1240.7 2052.7,1240.7 2053.4,1240.7 C2054.1,1240.7 2054.7,1240.7 2055.4,1240.7 C2056.1,1240.7 2056.7,1240.7 2057.4,1240.7 C2058.1,1240.7 2058.7,1240.7 2059.4,1240.7 C2060.1,1240.7 2060.8,1240.7 2061.4,1240.7 C2062.1,1240.7 2062.7,1240.7 2063.3,1240.7 C2064.0,1240.7 2064.6,1240.7 2065.3,1240.7 C2066.0,1240.7 2066.6,1240.7 2067.3,1240.7 C2068.0,1240.7 2068.6,1240.7 2069.3,1240.7 C2070.0,1240.7 2070.6,1240.7 2071.3,1240.7 C2072.0,1240.7 2072.6,1240.7 2073.3,1240.7 C2074.0,1240.7 2074.6,1240.7 2075.3,1240.7 C2076.0,1240.7 2076.6,1240.7 2077.3,1240.7 C2078.0,1240.7 2078.6,1240.7 2079.3,1240.7 C2080.0,1240.7 2080.6,1240.7 2081.3,1240.7 C2082.0,1240.7 2082.6,1240.7 2083.3,1240.7 C2084.0,1240.7 2084.6,1240.7 2085.3,1240.7 C2086.0,1240.7 2086.6,1240.7 2087.3,1240.7 C2088.0,1240.7 2088.6,1240.8 2089.3,1240.8 C2090.0,1240.8 2090.6,1240.8 2091.3,1240.8 C2092.0,1240.8 2092.6,1240.8 2093.3,1240.8 C2094.0,1240.8 2094.6,1240.8 2095.3,1240.8 C2096.0,1240.8 2096.6,1240.8 2097.3,1240.8 C2098.0,1240.8 2098.6,1240.8 2099.3,1240.8 C2100.0,1240.8 2100.6,1240.8 2101.3,1240.8 C2102.0,1240.8 2102.6,1240.8 2103.3,1240.8 C2104.0,1240.8 2104.6,1240.8 2105.3,1240.8 C2106.0,1240.8 2106.6,1240.8 2107.3,1240.8 C2108.0,1240.8 2108.6,1240.8 2109.3,1240.8 C2110.0,1240.8 2110.6,1240.8 2111.3,1240.8 C2112.0,1240.8 2112.6,1240.8 2113.3,1240.8 C2114.0,1240.8 2114.6,1240.8 2115.3,1240.8 C2116.0,1240.8 2116.6,1240.8 2117.3,1240.8 C2118.0,1240.8 2118.6,1240.8 2119.3,1240.8 C2120.0,1240.8 2120.6,1240.8 2121.3,1240.8 C2122.0,1240.8 2122.7,1240.8 2123.4,1240.8 C2124.1,1240.8 2124.7,1240.8 2125.4,1240.8 C2126.1,1240.8 2126.7,1240.8 2127.4,1240.8 C2128.1,1240.8 2128.7,1240.8 2129.4,1240.8 C2130.1,1240.8 2130.7,1240.8 2131.4,1240.8 C2132.1,1240.8 2132.7,1240.8 2133.4,1240.8 C2134.1,1240.8 2134.8,1240.8 2135.5,1240.8 C2136.2,1240.8 2136.8,1240.8 2137.5,1240.8 C2138.2,1240.8 2138.8,1240.8 2139.5,1240.8 C2140.2,1240.8 2140.8,1240.8 2141.5,1240.8 C2142.2,1240.8 2142.8,1240.8 2143.5,1240.8 C2144.2,1240.8 2144.9,1240.8 2145.6,1240.8 C2146.3,1240.8 2146.9,1240.8 2147.6,1240.8 C2148.3,1240.8 2148.9,1240.8 2149.6,1240.8 C2150.3,1240.8 2150.9,1240.8 2151.6,1240.8 C2152.3,1240.8 2153.0,1240.8 2153.7,1240.8 C2154.4,1240.8 2155.0,1240.8 2155.7,1240.8 C2156.4,1240.8 2157.0,1240.9 2157.7,1240.9 C2158.4,1240.9 2159.1,1240.9 2159.8,1240.9 C2160.5,1240.9 2161.1,1240.9 2161.8,1240.9 C2162.5,1240.9 2163.1,1240.9 2163.8,1240.9 C2164.5,1240.9 2165.2,1240.9 2165.9,1240.9 C2166.6,1240.9 2167.2,1240.9 2167.9,1240.9 C2168.6,1240.9 2169.2,1240.9 2169.9,1240.9 C2170.6,1240.9 2171.3,1240.9 2172.0,1240.9 C2172.7,1240.9 2173.3,1240.9 2174.0,1240.9 C2174.7,1240.9 2175.4,1240.9 2176.1,1240.9 C2176.8,1240.9 2177.4,1240.9 2178.1,1240.9 C2178.8,1240.9 2179.4,1240.9 2180.1,1240.9 C2180.8,1240.9 2181.5,1240.9 2182.2,1240.9 C2182.9,1240.9 2183.5,1240.9 2184.2,1240.9 C2184.9,1240.9 2185.6,1240.9 2186.3,1240.9 C2187.0,1240.9 2187.6,1240.9 2188.3,1240.9 C2189.0,1240.9 2189.7,1240.9 2190.4,1240.9 C2191.1,1240.9 2191.7,1240.9 2192.4,1240.9 C2193.1,1240.9 2193.8,1240.9 2194.5,1240.9 C2195.2,1240.9 2195.8,1240.9 2196.5,1240.9 C2197.2,1240.9 2197.9,1241.0 2198.6,1241.0 C2199.3,1241.0 2200.0,1241.0 2200.7,1241.0 C2201.4,1241.0 2202.0,1241.0 2202.7,1241.0 C2203.4,1241.0 2204.1,1241.0 2204.8,1241.0 C2205.5,1241.0 2206.1,1241.0 2206.8,1241.0 C2207.5,1241.0 2208.2,1241.0 2208.9,1241.0 C2209.6,1241.0 2210.3,1241.0 2211.0,1241.0 C2211.7,1241.0 2212.3,1241.0 2213.0,1241.0 C2213.7,1241.0 2214.8,1241.0 2215.1,1241.0" fill="none" stroke="#FFC000" stroke-width="13.8" stroke-linecap="round" stroke-linejoin="round" shape-rendering="crispEdges" clip-path="url(#pc)"/>
<path d="M273.5,298.0 C274.4,293.0 276.9,275.5 279.0,268.0 C281.1,260.5 283.7,254.7 286.0,253.0 C288.3,251.3 290.7,253.5 293.0,258.0 C295.3,262.5 297.5,266.3 300.0,280.0 C302.5,293.7 303.5,281.7 308.0,340.0 C312.5,398.3 320.6,536.7 327.0,630.0 C333.4,723.3 341.7,845.0 346.4,900.0 C351.1,955.0 353.1,946.7 355.2,960.0 C357.3,973.3 357.4,973.3 359.2,980.0 C361.0,986.7 363.5,993.3 366.2,1000.0 C368.9,1006.7 372.1,1014.5 375.2,1020.0 C378.3,1025.5 381.4,1029.8 385.0,1033.0 C388.6,1036.2 392.8,1039.0 397.0,1039.0 C401.2,1039.0 404.5,1037.7 410.0,1033.0 C415.5,1028.3 423.3,1019.3 430.0,1011.0 C436.7,1002.7 443.6,989.6 450.0,983.0 C456.4,976.4 463.4,972.2 468.4,971.5 C473.4,970.8 476.6,975.9 480.0,979.0 C483.4,982.1 486.3,985.7 489.0,990.0 C491.7,994.3 492.8,996.8 496.0,1005.0 C499.2,1013.2 504.1,1027.7 508.4,1039.0 C512.7,1050.3 517.7,1063.5 521.8,1072.8 C525.9,1082.1 529.5,1089.5 533.0,1095.0 C536.5,1100.5 539.7,1103.5 543.0,1106.0 C546.3,1108.5 549.3,1110.2 553.0,1109.7 C556.7,1109.2 560.5,1106.5 565.0,1103.0 C569.5,1099.5 575.8,1093.3 580.0,1089.0 C584.2,1084.7 586.7,1081.6 590.0,1077.0 C593.3,1072.4 596.7,1066.4 600.0,1061.6 C603.3,1056.8 606.7,1052.0 610.0,1048.0 C613.3,1044.0 616.3,1041.2 620.0,1037.7 C623.7,1034.2 627.7,1029.8 632.0,1027.0 C636.3,1024.2 641.9,1021.7 645.7,1021.0 C649.5,1020.3 652.0,1021.5 655.0,1023.0 C658.0,1024.5 660.5,1026.3 663.7,1030.0 C666.9,1033.7 671.4,1040.0 674.3,1045.0 C677.2,1050.0 678.5,1054.5 681.0,1060.0 C683.5,1065.5 686.3,1071.8 689.0,1078.0 C691.7,1084.2 692.5,1088.3 697.0,1097.5 C701.5,1106.7 709.6,1124.9 716.0,1133.3 C722.4,1141.7 729.6,1144.2 735.3,1148.0 C741.0,1151.8 746.0,1154.2 750.0,1156.0 C754.0,1157.8 757.4,1158.4 759.2,1159.0 C761.0,1159.6 760.3,1159.4 760.9,1159.6 C761.5,1159.8 762.2,1160.1 762.8,1160.3 C763.4,1160.5 764.0,1160.6 764.6,1160.8 C765.2,1161.0 765.9,1161.2 766.5,1161.4 C767.1,1161.6 767.8,1161.7 768.4,1161.9 C769.0,1162.1 769.6,1162.3 770.3,1162.5 C770.9,1162.7 771.6,1162.8 772.3,1163.0 C772.9,1163.2 773.6,1163.2 774.2,1163.4 C774.8,1163.6 775.5,1163.8 776.1,1163.9 C776.8,1164.1 777.5,1164.2 778.1,1164.3 C778.8,1164.4 779.4,1164.6 780.0,1164.7 C780.6,1164.8 781.4,1165.0 782.0,1165.1 C782.6,1165.2 783.2,1165.3 783.9,1165.4 C784.5,1165.5 785.2,1165.7 785.9,1165.8 C786.6,1165.9 787.2,1166.0 787.9,1166.1 C788.6,1166.2 789.2,1166.3 789.9,1166.4 C790.6,1166.5 791.2,1166.6 791.9,1166.7 C792.6,1166.8 793.2,1166.8 793.9,1166.9 C794.6,1167.0 795.2,1167.1 795.9,1167.2 C796.6,1167.3 797.2,1167.3 797.9,1167.4 C798.6,1167.5 799.2,1167.5 799.9,1167.6 C800.6,1167.7 801.2,1167.8 801.9,1167.8 C802.6,1167.8 803.2,1167.9 803.9,1167.9 C804.6,1168.0 805.2,1168.0 805.9,1168.1 C806.6,1168.1 807.3,1168.2 808.0,1168.2 C808.7,1168.2 809.3,1168.3 810.0,1168.3 C810.7,1168.3 811.3,1168.4 812.0,1168.4 C812.7,1168.4 813.4,1168.5 814.1,1168.5 C814.8,1168.5 815.4,1168.6 816.1,1168.6 C816.8,1168.6 817.5,1168.6 818.2,1168.6 C818.9,1168.6 819.5,1168.7 820.2,1168.7 C820.9,1168.7 821.6,1168.7 822.3,1168.7 C823.0,1168.7 823.6,1168.7 824.3,1168.7 C825.0,1168.7 825.7,1168.7 826.4,1168.7 C827.1,1168.7 827.7,1168.7 828.4,1168.7 C829.1,1168.7 829.8,1168.6 830.5,1168.6 C831.2,1168.6 831.8,1168.6 832.5,1168.6 C833.2,1168.6 833.9,1168.5 834.6,1168.5 C835.3,1168.5 835.9,1168.5 836.6,1168.5 C837.3,1168.5 838.0,1168.4 838.7,1168.4 C839.4,1168.4 840.1,1168.3 840.8,1168.3 C841.5,1168.3 842.1,1168.2 842.8,1168.2 C843.5,1168.2 844.2,1168.1 844.9,1168.1 C845.6,1168.1 846.2,1168.0 846.9,1168.0 C847.6,1168.0 848.3,1167.8 849.0,1167.8 C849.7,1167.8 850.3,1167.8 851.0,1167.7 C851.7,1167.7 852.4,1167.5 853.1,1167.5 C853.8,1167.5 854.4,1167.5 855.1,1167.4 C855.8,1167.4 856.5,1167.3 857.2,1167.2 C857.9,1167.1 858.5,1167.1 859.2,1167.0 C859.9,1166.9 860.6,1166.9 861.3,1166.8 C862.0,1166.7 862.6,1166.7 863.3,1166.6 C864.0,1166.5 864.7,1166.5 865.4,1166.4 C866.1,1166.3 866.7,1166.3 867.4,1166.2 C868.1,1166.1 868.7,1166.1 869.4,1166.0 C870.1,1165.9 870.7,1165.9 871.4,1165.8 C872.1,1165.7 872.8,1165.7 873.5,1165.6 C874.2,1165.5 874.8,1165.5 875.5,1165.4 C876.2,1165.3 876.8,1165.2 877.5,1165.1 C878.2,1165.0 878.8,1165.0 879.5,1164.9 C880.2,1164.8 880.8,1164.7 881.5,1164.6 C882.2,1164.5 882.8,1164.5 883.5,1164.4 C884.2,1164.3 884.8,1164.2 885.5,1164.1 C886.2,1164.0 886.8,1164.0 887.5,1163.9 C888.2,1163.8 888.8,1163.7 889.5,1163.6 C890.2,1163.5 890.8,1163.4 891.5,1163.3 C892.2,1163.2 892.9,1163.2 893.5,1163.1 C894.1,1163.0 894.8,1162.9 895.4,1162.8 C896.0,1162.7 896.7,1162.6 897.4,1162.5 C898.1,1162.4 898.7,1162.4 899.4,1162.3 C900.1,1162.2 900.8,1162.1 901.4,1162.0 C902.0,1161.9 902.6,1161.8 903.3,1161.7 C903.9,1161.6 904.6,1161.5 905.3,1161.4 C906.0,1161.3 906.6,1161.2 907.3,1161.1 C907.9,1161.0 908.6,1160.9 909.2,1160.8 C909.9,1160.7 910.5,1160.6 911.2,1160.5 C911.9,1160.4 912.6,1160.4 913.2,1160.3 C913.9,1160.2 914.5,1160.1 915.1,1160.0 C915.8,1159.9 916.5,1159.8 917.1,1159.7 C917.8,1159.6 918.4,1159.5 919.0,1159.4 C919.6,1159.3 920.4,1159.2 921.0,1159.1 C921.6,1159.0 922.2,1158.9 922.9,1158.8 C923.5,1158.7 924.2,1158.6 924.9,1158.5 C925.5,1158.4 926.1,1158.3 926.8,1158.2 C927.4,1158.1 928.1,1158.0 928.8,1157.9 C929.4,1157.8 930.1,1157.7 930.7,1157.6 C931.4,1157.5 932.1,1157.4 932.7,1157.3 C933.4,1157.2 934.0,1157.2 934.6,1157.1 C935.2,1157.0 935.9,1156.9 936.5,1156.8 C937.1,1156.7 937.9,1156.6 938.5,1156.5 C939.1,1156.4 939.8,1156.3 940.4,1156.2 C941.0,1156.1 941.8,1156.0 942.4,1155.9 C943.0,1155.8 943.7,1155.8 944.3,1155.7 C944.9,1155.6 945.6,1155.5 946.2,1155.4 C946.9,1155.3 947.6,1155.2 948.2,1155.1 C948.9,1155.0 949.5,1154.9 950.1,1154.8 C950.8,1154.7 951.5,1154.7 952.1,1154.6 C952.8,1154.5 953.4,1154.4 954.0,1154.3 C954.6,1154.2 955.2,1154.2 955.9,1154.1 C956.5,1154.0 957.2,1153.9 957.9,1153.8 C958.5,1153.7 959.1,1153.6 959.8,1153.5 C960.4,1153.4 961.1,1153.4 961.8,1153.3 C962.4,1153.2 963.1,1153.2 963.7,1153.1 C964.4,1153.0 965.1,1152.9 965.7,1152.8 C966.4,1152.7 967.0,1152.7 967.6,1152.6 C968.2,1152.5 969.0,1152.5 969.6,1152.4 C970.2,1152.3 970.9,1152.2 971.5,1152.1 C972.1,1152.0 972.9,1152.0 973.5,1151.9 C974.1,1151.8 974.8,1151.8 975.4,1151.7 C976.0,1151.6 976.8,1151.6 977.4,1151.5 C978.0,1151.4 978.6,1151.4 979.3,1151.3 C979.9,1151.2 980.6,1151.1 981.3,1151.1 C982.0,1151.0 982.6,1151.0 983.3,1151.0 C983.9,1151.0 984.6,1150.9 985.2,1150.8 C985.9,1150.7 986.6,1150.6 987.2,1150.6 C987.9,1150.5 988.5,1150.5 989.1,1150.5 C989.8,1150.5 990.4,1150.3 991.1,1150.3 C991.8,1150.2 992.4,1150.2 993.1,1150.2 C993.8,1150.2 994.5,1150.0 995.1,1150.0 C995.8,1150.0 996.4,1149.9 997.0,1149.9 C997.6,1149.9 998.3,1149.8 999.0,1149.8 C999.7,1149.8 1000.3,1149.7 1001.0,1149.7 C1001.7,1149.7 1002.3,1149.6 1003.0,1149.6 C1003.7,1149.6 1004.3,1149.5 1005.0,1149.5 C1005.7,1149.5 1006.3,1149.4 1007.0,1149.4 C1007.7,1149.4 1008.3,1149.3 1009.0,1149.3 C1009.7,1149.3 1010.3,1149.2 1011.0,1149.2 C1011.7,1149.2 1012.3,1149.2 1013.0,1149.2 C1013.7,1149.2 1014.3,1149.1 1015.0,1149.1 C1015.7,1149.1 1016.3,1149.1 1017.0,1149.1 C1017.7,1149.1 1018.3,1149.0 1019.0,1149.0 C1019.7,1149.0 1020.3,1149.0 1021.0,1149.0 C1021.7,1149.0 1022.3,1149.0 1023.0,1149.0 C1023.7,1149.0 1024.3,1148.9 1025.0,1148.9 C1025.7,1148.9 1026.4,1148.9 1027.1,1148.9 C1027.8,1148.9 1028.4,1148.9 1029.1,1148.9 C1029.8,1148.9 1030.4,1148.9 1031.1,1148.9 C1031.8,1148.9 1032.4,1148.9 1033.1,1148.9 C1033.8,1148.9 1034.5,1148.8 1035.2,1148.8 C1035.9,1148.8 1036.5,1148.8 1037.2,1148.8 C1037.9,1148.8 1038.5,1148.8 1039.2,1148.8 C1039.9,1148.8 1040.5,1148.8 1041.2,1148.8 C1041.9,1148.8 1042.6,1148.8 1043.3,1148.8 C1044.0,1148.8 1044.6,1148.8 1045.3,1148.8 C1046.0,1148.8 1046.6,1148.9 1047.3,1148.9 C1048.0,1148.9 1048.7,1148.9 1049.4,1148.9 C1050.1,1148.9 1050.7,1148.9 1051.4,1148.9 C1052.1,1148.9 1052.7,1148.9 1053.4,1148.9 C1054.1,1148.9 1054.8,1148.9 1055.5,1148.9 C1056.2,1148.9 1056.8,1148.9 1057.5,1148.9 C1058.2,1148.9 1058.8,1148.9 1059.5,1148.9 C1060.2,1148.9 1060.9,1148.9 1061.6,1148.9 C1062.3,1148.9 1062.9,1148.9 1063.6,1148.9 C1064.3,1148.9 1064.9,1148.9 1065.6,1148.9 C1066.3,1148.9 1067.0,1148.9 1067.7,1148.9 C1068.4,1148.9 1069.0,1148.9 1069.7,1148.9 C1070.4,1148.9 1071.0,1148.9 1071.7,1148.9 C1072.4,1148.9 1073.1,1148.9 1073.8,1148.9 C1074.5,1148.9 1075.1,1148.9 1075.8,1148.9 C1076.5,1148.9 1077.1,1148.9 1077.8,1148.9 C1078.5,1148.9 1079.2,1148.9 1079.9,1148.9 C1080.6,1148.9 1081.2,1148.9 1081.9,1148.9 C1082.6,1148.9 1083.2,1148.8 1083.9,1148.8 C1084.6,1148.8 1085.3,1148.8 1086.0,1148.8 C1086.7,1148.8 1087.3,1148.8 1088.0,1148.8 C1088.7,1148.8 1089.3,1148.7 1090.0,1148.7 C1090.7,1148.7 1091.3,1148.7 1092.0,1148.7 C1092.7,1148.7 1093.4,1148.6 1094.1,1148.6 C1094.8,1148.6 1095.4,1148.6 1096.1,1148.6 C1096.8,1148.6 1097.4,1148.5 1098.1,1148.5 C1098.8,1148.5 1099.4,1148.4 1100.1,1148.4 C1100.8,1148.4 1101.4,1148.3 1102.1,1148.3 C1102.8,1148.3 1103.5,1148.3 1104.2,1148.3 C1104.9,1148.3 1105.5,1148.2 1106.2,1148.2 C1106.9,1148.2 1107.5,1148.1 1108.2,1148.1 C1108.9,1148.0 1109.5,1148.0 1110.2,1147.9 C1110.9,1147.9 1111.5,1147.8 1112.2,1147.8 C1112.9,1147.8 1113.5,1147.8 1114.2,1147.7 C1114.9,1147.7 1115.5,1147.5 1116.2,1147.5 C1116.9,1147.5 1117.5,1147.5 1118.2,1147.4 C1118.9,1147.4 1119.5,1147.2 1120.2,1147.2 C1120.9,1147.2 1121.5,1147.1 1122.2,1147.1 C1122.9,1147.0 1123.5,1147.0 1124.2,1146.9 C1124.9,1146.8 1125.5,1146.8 1126.2,1146.7 C1126.9,1146.6 1127.5,1146.6 1128.2,1146.5 C1128.9,1146.4 1129.6,1146.3 1130.2,1146.2 C1130.8,1146.1 1131.4,1146.1 1132.1,1146.0 C1132.8,1145.9 1133.4,1145.9 1134.1,1145.8 C1134.8,1145.7 1135.4,1145.6 1136.1,1145.5 C1136.8,1145.4 1137.4,1145.3 1138.1,1145.2 C1138.8,1145.1 1139.3,1145.1 1140.0,1145.0 C1140.7,1144.9 1141.3,1144.8 1142.0,1144.7 C1142.7,1144.6 1143.2,1144.4 1143.9,1144.3 C1144.6,1144.2 1145.2,1144.1 1145.9,1144.0 C1146.6,1143.9 1147.2,1143.8 1147.9,1143.7 C1148.6,1143.6 1149.2,1143.4 1149.8,1143.3 C1150.4,1143.2 1151.0,1143.0 1151.7,1142.9 C1152.4,1142.8 1153.1,1142.6 1153.7,1142.5 C1154.3,1142.4 1155.0,1142.2 1155.6,1142.1 C1156.2,1142.0 1156.8,1141.8 1157.5,1141.7 C1158.2,1141.6 1158.8,1141.5 1159.5,1141.3 C1160.2,1141.1 1160.8,1140.9 1161.4,1140.8 C1162.0,1140.7 1162.7,1140.6 1163.3,1140.4 C1163.9,1140.2 1164.6,1140.1 1165.2,1139.9 C1165.8,1139.7 1166.5,1139.6 1167.1,1139.4 C1167.7,1139.2 1168.4,1139.1 1169.0,1138.9 C1169.6,1138.7 1170.3,1138.5 1170.9,1138.3 C1171.5,1138.1 1172.2,1138.0 1172.8,1137.8 C1173.4,1137.6 1174.1,1137.4 1174.7,1137.2 C1175.3,1137.0 1176.0,1136.9 1176.6,1136.7 C1177.2,1136.5 1177.9,1136.3 1178.5,1136.1 C1179.1,1135.9 1179.7,1135.7 1180.3,1135.5 C1180.9,1135.3 1181.6,1135.0 1182.2,1134.8 C1182.8,1134.6 1183.5,1134.4 1184.1,1134.2 C1184.7,1134.0 1185.3,1133.8 1185.9,1133.6 C1186.5,1133.4 1187.2,1133.1 1187.8,1132.9 C1188.4,1132.7 1189.1,1132.4 1189.7,1132.2 C1190.3,1132.0 1190.9,1131.8 1191.5,1131.6 C1192.1,1131.4 1192.7,1131.2 1193.3,1130.9 C1193.9,1130.7 1194.6,1130.3 1195.2,1130.1 C1195.8,1129.8 1196.4,1129.6 1197.0,1129.4 C1197.6,1129.2 1198.3,1129.0 1198.9,1128.7 C1199.5,1128.5 1200.1,1128.2 1200.7,1127.9 C1201.3,1127.7 1201.9,1127.5 1202.5,1127.2 C1203.1,1127.0 1203.7,1126.7 1204.3,1126.4 C1204.9,1126.1 1205.5,1125.9 1206.1,1125.6 C1206.7,1125.3 1207.3,1125.1 1207.9,1124.8 C1208.5,1124.5 1209.1,1124.3 1209.7,1124.0 C1210.3,1123.7 1210.9,1123.4 1211.5,1123.1 C1212.1,1122.8 1212.7,1122.6 1213.3,1122.3 C1213.9,1122.0 1214.5,1121.8 1215.1,1121.5 C1215.7,1121.2 1216.3,1120.9 1216.9,1120.6 C1217.5,1120.3 1218.1,1120.0 1218.7,1119.7 C1219.3,1119.4 1219.8,1119.1 1220.4,1118.8 C1221.0,1118.5 1221.6,1118.2 1222.2,1117.9 C1222.8,1117.6 1223.4,1117.3 1224.0,1117.0 C1224.6,1116.7 1225.1,1116.4 1225.7,1116.1 C1226.3,1115.8 1226.9,1115.5 1227.5,1115.2 C1228.1,1114.9 1228.6,1114.5 1229.2,1114.2 C1229.8,1113.9 1230.4,1113.6 1231.0,1113.3 C1231.6,1113.0 1232.1,1112.6 1232.7,1112.3 C1233.3,1112.0 1233.9,1111.6 1234.5,1111.3 C1235.1,1111.0 1235.6,1110.6 1236.2,1110.3 C1236.8,1110.0 1237.3,1109.6 1237.9,1109.3 C1238.5,1109.0 1239.0,1108.6 1239.6,1108.3 C1240.2,1108.0 1240.8,1107.6 1241.4,1107.3 C1242.0,1107.0 1242.5,1106.6 1243.1,1106.3 C1243.7,1106.0 1244.2,1105.5 1244.8,1105.2 C1245.4,1104.9 1245.9,1104.6 1246.5,1104.2 C1247.1,1103.8 1247.6,1103.4 1248.2,1103.1 C1248.8,1102.8 1249.3,1102.4 1249.9,1102.1 C1250.5,1101.8 1251.0,1101.4 1251.6,1101.0 C1252.1,1100.6 1252.7,1100.3 1253.2,1099.9 C1253.8,1099.5 1254.3,1099.2 1254.9,1098.8 C1255.5,1098.4 1256.0,1098.1 1256.6,1097.7 C1257.2,1097.3 1257.8,1097.0 1258.3,1096.6 C1258.8,1096.2 1259.4,1095.8 1259.9,1095.4 C1260.5,1095.0 1261.0,1094.7 1261.6,1094.3 C1262.1,1093.9 1262.7,1093.6 1263.2,1093.2 C1263.8,1092.8 1264.4,1092.4 1264.9,1092.0 C1265.5,1091.6 1266.0,1091.3 1266.5,1090.9 C1267.0,1090.5 1267.7,1090.1 1268.2,1089.7 C1268.8,1089.3 1269.3,1088.9 1269.8,1088.5 C1270.3,1088.1 1270.9,1087.7 1271.4,1087.3 C1271.9,1086.9 1272.5,1086.5 1273.0,1086.1 C1273.5,1085.7 1274.2,1085.3 1274.7,1084.9 C1275.2,1084.5 1275.8,1084.1 1276.3,1083.7 C1276.8,1083.3 1277.4,1082.9 1277.9,1082.5 C1278.4,1082.1 1279.0,1081.7 1279.5,1081.3 C1280.0,1080.9 1280.6,1080.5 1281.1,1080.1 C1281.6,1079.7 1282.2,1079.2 1282.7,1078.8 C1283.2,1078.4 1283.7,1078.0 1284.2,1077.6 C1284.7,1077.2 1285.3,1076.7 1285.8,1076.3 C1286.3,1075.9 1286.9,1075.5 1287.4,1075.1 C1287.9,1074.7 1288.5,1074.2 1289.0,1073.8 C1289.5,1073.4 1290.0,1072.9 1290.5,1072.5 C1291.0,1072.1 1291.6,1071.6 1292.1,1071.2 C1292.6,1070.8 1293.2,1070.4 1293.7,1070.0 C1294.2,1069.6 1294.7,1069.1 1295.2,1068.7 C1295.7,1068.3 1296.2,1067.8 1296.7,1067.4 C1297.2,1067.0 1297.8,1066.5 1298.3,1066.1 C1298.8,1065.7 1299.3,1065.2 1299.8,1064.8 C1300.3,1064.3 1300.8,1063.9 1301.3,1063.4 C1301.8,1063.0 1302.4,1062.5 1302.9,1062.1 C1303.4,1061.7 1303.9,1061.2 1304.4,1060.8 C1304.9,1060.4 1305.4,1060.0 1305.9,1059.5 C1306.4,1059.0 1306.9,1058.5 1307.4,1058.1 C1307.9,1057.6 1308.4,1057.2 1308.9,1056.8 C1309.4,1056.3 1309.9,1055.9 1310.4,1055.4 C1310.9,1055.0 1311.4,1054.5 1311.9,1054.1 C1312.4,1053.6 1312.9,1053.2 1313.4,1052.7 C1313.9,1052.2 1314.4,1051.9 1314.9,1051.4 C1315.4,1051.0 1315.8,1050.5 1316.3,1050.0 C1316.8,1049.5 1317.3,1049.1 1317.8,1048.6 C1318.3,1048.1 1318.8,1047.7 1319.3,1047.2 C1319.8,1046.8 1320.2,1046.4 1320.7,1045.9 C1321.2,1045.5 1321.7,1045.0 1322.2,1044.5 C1322.7,1044.0 1323.1,1043.6 1323.6,1043.1 C1324.1,1042.6 1324.6,1042.2 1325.1,1041.7 C1325.6,1041.2 1326.0,1040.8 1326.5,1040.3 C1327.0,1039.8 1327.4,1039.4 1327.9,1038.9 C1328.4,1038.4 1328.9,1038.0 1329.4,1037.5 C1329.9,1037.0 1330.3,1036.6 1330.8,1036.1 C1331.3,1035.6 1331.7,1035.1 1332.2,1034.6 C1332.7,1034.1 1333.1,1033.7 1333.6,1033.2 C1334.1,1032.7 1334.5,1032.3 1335.0,1031.8 C1335.5,1031.3 1335.9,1030.9 1336.4,1030.4 C1336.9,1029.9 1337.3,1029.4 1337.8,1028.9 C1338.3,1028.4 1338.7,1028.0 1339.2,1027.5 C1339.7,1027.0 1340.1,1026.5 1340.6,1026.0 C1341.1,1025.5 1341.5,1025.1 1342.0,1024.6 C1342.5,1024.1 1343.0,1023.6 1343.4,1023.1 C1343.9,1022.6 1344.2,1022.2 1344.7,1021.7 C1345.2,1021.2 1345.6,1020.7 1346.1,1020.2 C1346.6,1019.7 1347.0,1019.3 1347.5,1018.8 C1348.0,1018.3 1348.3,1017.8 1348.8,1017.3 C1349.2,1016.8 1349.8,1016.3 1350.2,1015.8 C1350.7,1015.3 1351.0,1014.9 1351.5,1014.4 C1352.0,1013.9 1352.5,1013.4 1352.9,1012.9 C1353.4,1012.4 1353.8,1011.9 1354.2,1011.4 C1354.6,1010.9 1355.0,1010.4 1355.5,1009.9 C1356.0,1009.4 1356.5,1008.9 1356.9,1008.4 C1357.4,1007.9 1357.8,1007.4 1358.2,1006.9 C1358.6,1006.4 1359.1,1005.9 1359.5,1005.4 C1359.9,1004.9 1360.4,1004.4 1360.8,1003.9 C1361.2,1003.4 1361.7,1002.9 1362.1,1002.4 C1362.5,1001.9 1363.0,1001.4 1363.4,1000.9 C1363.8,1000.4 1364.3,999.9 1364.7,999.4 C1365.1,998.9 1365.6,998.4 1366.0,997.9 C1366.4,997.4 1366.9,996.9 1367.3,996.4 C1367.7,995.9 1368.2,995.3 1368.6,994.8 C1369.0,994.3 1369.5,993.8 1369.9,993.3 C1370.3,992.8 1370.8,992.3 1371.2,991.8 C1371.6,991.3 1372.1,990.7 1372.5,990.2 C1372.9,989.7 1373.3,989.2 1373.7,988.7 C1374.1,988.2 1374.6,987.7 1375.0,987.2 C1375.4,986.7 1375.9,986.1 1376.3,985.6 C1376.7,985.1 1377.1,984.6 1377.5,984.1 C1377.9,983.6 1378.4,983.0 1378.8,982.5 C1379.2,982.0 1379.6,981.5 1380.0,981.0 C1380.4,980.5 1380.9,979.9 1381.3,979.4 C1381.7,978.9 1382.1,978.3 1382.5,977.8 C1382.9,977.3 1383.3,976.8 1383.7,976.3 C1384.1,975.8 1384.6,975.2 1385.0,974.7 C1385.4,974.2 1385.8,973.6 1386.2,973.1 C1386.6,972.6 1387.0,972.1 1387.4,971.6 C1387.8,971.1 1388.2,970.5 1388.6,970.0 C1389.0,969.5 1389.5,968.9 1389.9,968.4 C1390.3,967.9 1390.7,967.3 1391.1,966.8 C1391.5,966.3 1391.9,965.7 1392.3,965.2 C1392.7,964.7 1393.1,964.1 1393.5,963.6 C1393.9,963.1 1394.3,962.5 1394.7,962.0 C1395.1,961.5 1395.5,960.9 1395.9,960.4 C1396.3,959.9 1396.7,959.3 1397.1,958.8 C1397.5,958.3 1397.9,957.7 1398.3,957.2 C1398.7,956.7 1399.0,956.1 1399.4,955.6 C1399.8,955.1 1400.2,954.5 1400.6,954.0 C1401.0,953.5 1401.4,952.9 1401.8,952.4 C1402.2,951.9 1402.6,951.3 1403.0,950.8 C1403.4,950.3 1403.7,949.7 1404.1,949.2 C1404.5,948.7 1404.9,948.2 1405.3,947.6 C1405.7,947.0 1406.1,946.5 1406.5,945.9 C1406.9,945.3 1407.2,944.8 1407.6,944.3 C1408.0,943.8 1408.4,943.2 1408.8,942.7 C1409.2,942.2 1409.5,941.7 1409.9,941.1 C1410.3,940.5 1410.7,940.0 1411.1,939.4 C1411.5,938.8 1411.8,938.3 1412.2,937.8 C1412.6,937.2 1413.0,936.6 1413.4,936.1 C1413.8,935.6 1414.1,935.0 1414.5,934.5 C1414.9,934.0 1415.2,933.4 1415.6,932.9 C1416.0,932.4 1416.4,931.8 1416.8,931.2 C1417.2,930.7 1417.5,930.2 1417.9,929.6 C1418.3,929.0 1418.6,928.5 1419.0,927.9 C1419.4,927.3 1419.7,926.8 1420.1,926.3 C1420.5,925.8 1420.9,925.2 1421.3,924.6 C1421.7,924.0 1422.0,923.5 1422.4,922.9 C1422.8,922.3 1423.1,921.8 1423.5,921.3 C1423.9,920.8 1424.2,920.2 1424.6,919.6 C1425.0,919.0 1425.3,918.5 1425.7,917.9 C1426.1,917.3 1426.4,916.8 1426.8,916.3 C1427.2,915.8 1427.5,915.2 1427.9,914.6 C1428.3,914.0 1428.6,913.5 1429.0,912.9 C1429.4,912.3 1429.7,911.8 1430.1,911.3 C1430.5,910.8 1430.8,910.2 1431.2,909.6 C1431.6,909.0 1432.0,908.5 1432.3,907.9 C1432.6,907.3 1432.9,906.8 1433.3,906.2 C1433.7,905.6 1434.0,905.1 1434.4,904.5 C1434.8,903.9 1435.1,903.3 1435.5,902.8 C1435.9,902.2 1436.2,901.8 1436.6,901.2 C1436.9,900.7 1437.2,900.1 1437.6,899.5 C1437.9,898.9 1438.3,898.4 1438.7,897.8 C1439.1,897.2 1439.5,896.7 1439.8,896.1 C1440.1,895.5 1440.4,895.0 1440.8,894.4 C1441.2,893.8 1441.5,893.3 1441.9,892.7 C1442.3,892.1 1442.7,891.6 1443.0,891.0 C1443.3,890.4 1443.7,889.9 1444.0,889.3 C1444.3,888.7 1444.8,888.2 1445.1,887.6 C1445.4,887.0 1445.8,886.5 1446.1,885.9 C1446.4,885.3 1446.8,884.7 1447.1,884.1 C1447.4,883.5 1447.8,883.0 1448.2,882.4 C1448.6,881.8 1448.9,881.3 1449.2,880.7 C1449.5,880.1 1450.0,879.6 1450.3,879.0 C1450.6,878.4 1451.0,877.9 1451.3,877.3 C1451.6,876.7 1451.9,876.2 1452.3,875.6 C1452.7,875.0 1453.1,874.5 1453.4,873.9 C1453.8,873.3 1454.1,872.7 1454.4,872.1 C1454.7,871.5 1455.1,871.0 1455.4,870.4 C1455.7,869.8 1456.1,869.3 1456.4,868.7 C1456.8,868.1 1457.2,867.6 1457.5,867.0 C1457.8,866.4 1458.2,865.8 1458.5,865.2 C1458.8,864.6 1459.2,864.1 1459.5,863.5 C1459.8,862.9 1460.2,862.4 1460.5,861.8 C1460.8,861.2 1461.2,860.6 1461.5,860.0 C1461.8,859.4 1462.2,858.9 1462.5,858.3 C1462.8,857.7 1463.2,857.2 1463.5,856.6 C1463.8,856.0 1464.2,855.4 1464.5,854.8 C1464.8,854.2 1465.2,853.7 1465.5,853.1 C1465.8,852.5 1466.2,852.0 1466.5,851.4 C1466.8,850.8 1467.2,850.2 1467.5,849.6 C1467.8,849.0 1468.2,848.5 1468.5,847.9 C1468.8,847.3 1469.2,846.7 1469.5,846.1 C1469.8,845.5 1470.2,845.0 1470.5,844.4 C1470.8,843.8 1471.2,843.2 1471.5,842.6 C1471.8,842.0 1472.2,841.5 1472.5,840.9 C1472.8,840.3 1473.2,839.7 1473.5,839.1 C1473.8,838.5 1474.1,838.0 1474.4,837.4 C1474.7,836.8 1475.1,836.2 1475.4,835.6 C1475.7,835.0 1476.1,834.5 1476.4,833.9 C1476.7,833.3 1477.1,832.7 1477.4,832.1 C1477.7,831.5 1478.1,831.0 1478.4,830.4 C1478.7,829.8 1479.0,829.2 1479.3,828.6 C1479.6,828.0 1480.0,827.5 1480.3,826.9 C1480.6,826.3 1481.0,825.7 1481.3,825.1 C1481.6,824.5 1481.9,824.0 1482.2,823.4 C1482.5,822.8 1482.9,822.2 1483.2,821.6 C1483.5,821.0 1483.9,820.4 1484.2,819.8 C1484.5,819.2 1484.8,818.7 1485.1,818.1 C1485.4,817.5 1485.8,816.9 1486.1,816.3 C1486.4,815.7 1486.7,815.2 1487.0,814.6 C1487.3,814.0 1487.7,813.4 1488.0,812.8 C1488.3,812.2 1488.7,811.6 1489.0,811.0 C1489.3,810.4 1489.6,809.9 1489.9,809.3 C1490.2,808.7 1490.6,808.1 1490.9,807.5 C1491.2,806.9 1491.5,806.3 1491.8,805.7 C1492.1,805.1 1492.5,804.6 1492.8,804.0 C1493.1,803.4 1493.4,802.8 1493.7,802.2 C1494.0,801.6 1494.3,801.0 1494.6,800.4 C1494.9,799.8 1495.3,799.3 1495.6,798.7 C1495.9,798.1 1496.2,797.5 1496.5,796.9 C1496.8,796.3 1497.2,795.7 1497.5,795.1 C1497.8,794.5 1498.1,794.0 1498.4,793.4 C1498.7,792.8 1499.1,792.2 1499.4,791.6 C1499.7,791.0 1500.0,790.4 1500.3,789.8 C1500.6,789.2 1500.9,788.6 1501.2,788.0 C1501.5,787.4 1501.9,786.9 1502.2,786.3 C1502.5,785.7 1502.8,785.1 1503.1,784.5 C1503.4,783.9 1503.7,783.3 1504.0,782.7 C1504.3,782.1 1504.7,781.6 1505.0,781.0 C1505.3,780.4 1505.6,779.8 1505.9,779.2 C1506.2,778.6 1506.5,778.0 1506.8,777.4 C1507.1,776.8 1507.5,776.2 1507.8,775.6 C1508.1,775.0 1508.4,774.5 1508.7,773.9 C1509.0,773.3 1509.3,772.7 1509.6,772.1 C1509.9,771.5 1510.2,770.9 1510.5,770.3 C1510.8,769.7 1511.2,769.1 1511.5,768.5 C1511.8,767.9 1512.1,767.3 1512.4,766.7 C1512.7,766.1 1513.0,765.6 1513.3,765.0 C1513.6,764.4 1513.9,763.8 1514.2,763.2 C1514.5,762.6 1514.8,762.0 1515.1,761.4 C1515.4,760.8 1515.8,760.2 1516.1,759.6 C1516.4,759.0 1516.7,758.5 1517.0,757.9 C1517.3,757.3 1517.6,756.7 1517.9,756.1 C1518.2,755.5 1518.5,754.9 1518.8,754.3 C1519.1,753.7 1519.4,753.1 1519.7,752.5 C1520.0,751.9 1520.4,751.4 1520.7,750.8 C1521.0,750.2 1521.3,749.6 1521.6,749.0 C1521.9,748.4 1522.2,747.8 1522.5,747.2 C1522.8,746.6 1523.1,746.0 1523.4,745.4 C1523.7,744.8 1524.0,744.2 1524.3,743.6 C1524.6,743.0 1524.9,742.5 1525.2,741.9 C1525.5,741.3 1525.8,740.7 1526.1,740.1 C1526.4,739.5 1526.8,738.9 1527.1,738.3 C1527.4,737.7 1527.7,737.1 1528.0,736.5 C1528.3,735.9 1528.6,735.3 1528.9,734.7 C1529.2,734.1 1529.5,733.6 1529.8,733.0 C1530.1,732.4 1530.4,731.8 1530.7,731.2 C1531.0,730.6 1531.3,730.0 1531.6,729.4 C1531.9,728.8 1532.2,728.2 1532.5,727.6 C1532.8,727.0 1533.2,726.5 1533.5,725.9 C1533.8,725.3 1534.1,724.7 1534.4,724.1 C1534.7,723.5 1535.0,722.9 1535.3,722.3 C1535.6,721.7 1535.9,721.1 1536.2,720.5 C1536.5,719.9 1536.8,719.3 1537.1,718.7 C1537.4,718.1 1537.7,717.6 1538.0,717.0 C1538.3,716.4 1538.6,715.8 1538.9,715.2 C1539.2,714.6 1539.5,714.0 1539.8,713.4 C1540.1,712.8 1540.4,712.2 1540.7,711.6 C1541.0,711.0 1541.4,710.4 1541.7,709.8 C1542.0,709.2 1542.3,708.7 1542.6,708.1 C1542.9,707.5 1543.2,706.9 1543.5,706.3 C1543.8,705.7 1544.1,705.1 1544.4,704.5 C1544.7,703.9 1545.0,703.3 1545.3,702.7 C1545.6,702.1 1545.9,701.6 1546.2,701.0 C1546.5,700.4 1546.8,699.8 1547.1,699.2 C1547.4,698.6 1547.7,698.0 1548.0,697.4 C1548.3,696.8 1548.7,696.2 1549.0,695.6 C1549.3,695.0 1549.6,694.5 1549.9,693.9 C1550.2,693.3 1550.5,692.7 1550.8,692.1 C1551.1,691.5 1551.4,690.9 1551.7,690.3 C1552.0,689.7 1552.3,689.1 1552.6,688.5 C1552.9,687.9 1553.2,687.4 1553.5,686.8 C1553.8,686.2 1554.2,685.6 1554.5,685.0 C1554.8,684.4 1555.1,683.8 1555.4,683.2 C1555.7,682.6 1556.0,682.1 1556.3,681.5 C1556.6,680.9 1556.9,680.3 1557.2,679.7 C1557.5,679.1 1557.8,678.5 1558.1,677.9 C1558.4,677.3 1558.8,676.7 1559.1,676.1 C1559.4,675.5 1559.7,675.0 1560.0,674.4 C1560.3,673.8 1560.6,673.2 1560.9,672.6 C1561.2,672.0 1561.5,671.4 1561.8,670.8 C1562.1,670.2 1562.4,669.7 1562.7,669.1 C1563.0,668.5 1563.4,667.9 1563.7,667.3 C1564.0,666.7 1564.3,666.1 1564.6,665.5 C1564.9,664.9 1565.2,664.4 1565.5,663.8 C1565.8,663.2 1566.1,662.6 1566.4,662.0 C1566.7,661.4 1567.1,660.8 1567.4,660.2 C1567.7,659.6 1568.0,659.1 1568.3,658.5 C1568.6,657.9 1568.9,657.3 1569.2,656.7 C1569.5,656.1 1569.9,655.6 1570.2,655.0 C1570.5,654.4 1570.8,653.8 1571.1,653.2 C1571.4,652.6 1571.7,652.0 1572.0,651.4 C1572.3,650.8 1572.7,650.3 1573.0,649.7 C1573.3,649.1 1573.6,648.5 1573.9,647.9 C1574.2,647.3 1574.5,646.8 1574.8,646.2 C1575.1,645.6 1575.5,645.0 1575.8,644.4 C1576.1,643.8 1576.4,643.2 1576.7,642.6 C1577.0,642.0 1577.4,641.5 1577.7,640.9 C1578.0,640.3 1578.3,639.7 1578.6,639.1 C1578.9,638.5 1579.3,638.0 1579.6,637.4 C1579.9,636.8 1580.2,636.2 1580.5,635.6 C1580.8,635.0 1581.1,634.5 1581.4,633.9 C1581.7,633.3 1582.1,632.7 1582.4,632.1 C1582.7,631.5 1583.0,631.0 1583.3,630.4 C1583.6,629.8 1584.0,629.2 1584.3,628.6 C1584.6,628.0 1585.0,627.5 1585.3,626.9 C1585.6,626.3 1585.9,625.7 1586.2,625.1 C1586.5,624.5 1586.9,624.0 1587.2,623.4 C1587.5,622.8 1587.8,622.2 1588.1,621.6 C1588.4,621.0 1588.8,620.5 1589.1,619.9 C1589.4,619.3 1589.7,618.8 1590.0,618.2 C1590.3,617.6 1590.7,617.0 1591.0,616.4 C1591.3,615.8 1591.7,615.3 1592.0,614.7 C1592.3,614.1 1592.6,613.5 1592.9,612.9 C1593.2,612.3 1593.6,611.8 1593.9,611.2 C1594.2,610.6 1594.6,610.1 1594.9,609.5 C1595.2,608.9 1595.6,608.3 1595.9,607.7 C1596.2,607.1 1596.5,606.6 1596.8,606.0 C1597.1,605.4 1597.5,604.9 1597.8,604.3 C1598.1,603.7 1598.5,603.1 1598.8,602.5 C1599.1,601.9 1599.5,601.4 1599.8,600.8 C1600.1,600.2 1600.5,599.7 1600.8,599.1 C1601.1,598.5 1601.4,597.9 1601.7,597.3 C1602.0,596.7 1602.4,596.2 1602.7,595.6 C1603.0,595.0 1603.4,594.5 1603.7,593.9 C1604.0,593.3 1604.4,592.8 1604.7,592.2 C1605.0,591.6 1605.4,591.0 1605.7,590.4 C1606.0,589.8 1606.4,589.3 1606.7,588.7 C1607.0,588.1 1607.4,587.6 1607.7,587.0 C1608.0,586.4 1608.4,585.9 1608.7,585.3 C1609.0,584.7 1609.4,584.2 1609.7,583.6 C1610.0,583.0 1610.5,582.5 1610.8,581.9 C1611.1,581.3 1611.5,580.7 1611.8,580.1 C1612.1,579.5 1612.4,579.0 1612.8,578.4 C1613.2,577.8 1613.6,577.3 1613.9,576.7 C1614.2,576.1 1614.6,575.6 1614.9,575.0 C1615.2,574.4 1615.6,573.8 1615.9,573.3 C1616.2,572.8 1616.6,572.2 1617.0,571.7 C1617.4,571.2 1617.8,570.6 1618.1,570.0 C1618.4,569.4 1618.8,568.9 1619.1,568.3 C1619.4,567.7 1619.8,567.2 1620.2,566.6 C1620.6,566.0 1620.9,565.5 1621.3,564.9 C1621.7,564.3 1622.0,563.8 1622.4,563.2 C1622.8,562.7 1623.1,562.2 1623.5,561.6 C1623.9,561.0 1624.2,560.5 1624.6,559.9 C1625.0,559.3 1625.3,558.8 1625.7,558.2 C1626.1,557.7 1626.4,557.2 1626.8,556.6 C1627.2,556.0 1627.6,555.5 1628.0,554.9 C1628.4,554.3 1628.7,553.8 1629.1,553.3 C1629.5,552.8 1629.8,552.2 1630.2,551.7 C1630.6,551.2 1631.0,550.5 1631.4,550.0 C1631.8,549.5 1632.2,548.9 1632.6,548.4 C1633.0,547.9 1633.4,547.3 1633.8,546.8 C1634.2,546.2 1634.6,545.6 1635.0,545.1 C1635.4,544.6 1635.8,544.0 1636.2,543.5 C1636.6,543.0 1637.0,542.4 1637.4,541.9 C1637.8,541.4 1638.2,540.8 1638.6,540.3 C1639.0,539.8 1639.5,539.2 1639.9,538.7 C1640.3,538.2 1640.7,537.6 1641.1,537.1 C1641.5,536.6 1642.0,536.0 1642.4,535.5 C1642.8,535.0 1643.3,534.5 1643.7,534.0 C1644.1,533.5 1644.6,532.9 1645.0,532.4 C1645.4,531.9 1645.9,531.3 1646.3,530.8 C1646.7,530.3 1647.2,529.8 1647.6,529.3 C1648.0,528.8 1648.5,528.3 1648.9,527.8 C1649.4,527.3 1649.8,526.7 1650.3,526.2 C1650.8,525.7 1651.1,525.3 1651.6,524.8 C1652.0,524.3 1652.5,523.8 1653.0,523.3 C1653.5,522.8 1653.9,522.3 1654.4,521.8 C1654.9,521.3 1655.4,520.9 1655.9,520.4 C1656.4,519.9 1656.8,519.4 1657.3,518.9 C1657.8,518.4 1658.3,518.0 1658.8,517.5 C1659.3,517.0 1659.7,516.7 1660.2,516.2 C1660.7,515.8 1661.2,515.2 1661.7,514.8 C1662.2,514.3 1662.8,513.9 1663.3,513.5 C1663.8,513.1 1664.3,512.6 1664.8,512.2 C1665.3,511.8 1665.9,511.3 1666.4,510.9 C1666.9,510.5 1667.5,510.0 1668.0,509.6 C1668.5,509.2 1669.1,508.8 1669.6,508.4 C1670.1,508.0 1670.7,507.6 1671.2,507.2 C1671.7,506.8 1672.2,506.5 1672.8,506.1 C1673.3,505.7 1673.9,505.3 1674.5,504.9 C1675.1,504.5 1675.6,504.1 1676.2,503.8 C1676.8,503.5 1677.3,503.1 1677.9,502.8 C1678.5,502.5 1679.1,502.1 1679.7,501.8 C1680.3,501.5 1680.9,501.1 1681.5,500.8 C1682.1,500.5 1682.7,500.1 1683.3,499.8 C1683.9,499.5 1684.5,499.2 1685.1,498.9 C1685.7,498.6 1686.4,498.4 1687.0,498.1 C1687.6,497.8 1688.3,497.5 1688.9,497.2 C1689.5,496.9 1690.2,496.8 1690.8,496.5 C1691.4,496.2 1692.0,495.9 1692.7,495.7 C1693.4,495.4 1694.0,495.2 1694.7,495.0 C1695.4,494.8 1696.0,494.6 1696.7,494.4 C1697.4,494.2 1698.0,494.0 1698.7,493.8 C1699.4,493.6 1700.1,493.5 1700.8,493.3 C1701.5,493.1 1702.2,493.0 1702.9,492.8 C1703.6,492.6 1704.3,492.5 1705.0,492.3 C1705.7,492.1 1706.4,492.0 1707.1,491.9 C1707.8,491.8 1708.5,491.7 1709.2,491.6 C1709.9,491.5 1710.6,491.4 1711.3,491.3 C1712.0,491.2 1712.7,491.2 1713.4,491.1 C1714.1,491.0 1714.8,490.9 1715.5,490.9 C1716.2,490.8 1716.9,490.8 1717.6,490.8 C1718.3,490.8 1718.9,490.7 1719.6,490.7 C1720.3,490.7 1721.0,490.7 1721.7,490.7 C1722.4,490.7 1723.0,490.8 1723.7,490.8 C1724.4,490.8 1725.1,490.8 1725.7,490.9 C1726.3,490.9 1726.9,491.0 1727.6,491.1 C1728.2,491.2 1728.9,491.2 1729.6,491.3 C1730.2,491.4 1730.9,491.5 1731.5,491.6 C1732.1,491.7 1732.7,491.8 1733.3,491.9 C1733.9,492.0 1734.6,492.1 1735.2,492.3 C1735.8,492.5 1736.4,492.6 1737.0,492.8 C1737.6,493.0 1738.2,493.1 1738.8,493.3 C1739.4,493.5 1740.0,493.7 1740.6,493.9 C1741.2,494.1 1741.7,494.3 1742.3,494.5 C1742.9,494.7 1743.4,494.9 1744.0,495.1 C1744.6,495.3 1745.1,495.6 1745.7,495.8 C1746.3,496.1 1746.8,496.3 1747.4,496.6 C1748.0,496.9 1748.5,497.1 1749.1,497.4 C1749.6,497.7 1750.2,497.9 1750.7,498.2 C1751.2,498.5 1751.8,498.8 1752.3,499.1 C1752.8,499.4 1753.4,499.7 1753.9,500.0 C1754.4,500.3 1754.9,500.7 1755.4,501.0 C1755.9,501.3 1756.5,501.6 1757.0,502.0 C1757.5,502.4 1758.0,502.7 1758.5,503.1 C1759.0,503.5 1759.5,503.8 1760.0,504.2 C1760.5,504.6 1761.0,504.9 1761.5,505.3 C1762.0,505.7 1762.4,506.1 1762.9,506.5 C1763.4,506.9 1763.9,507.3 1764.4,507.7 C1764.9,508.1 1765.3,508.5 1765.8,508.9 C1766.3,509.3 1766.7,509.8 1767.2,510.2 C1767.7,510.6 1768.1,511.1 1768.6,511.5 C1769.0,511.9 1769.5,512.3 1769.9,512.8 C1770.4,513.2 1770.8,513.7 1771.3,514.2 C1771.8,514.7 1772.2,515.1 1772.6,515.6 C1773.0,516.1 1773.5,516.5 1773.9,517.0 C1774.3,517.5 1774.8,517.9 1775.2,518.4 C1775.6,518.9 1776.1,519.4 1776.5,519.9 C1776.9,520.4 1777.4,520.9 1777.8,521.4 C1778.2,521.9 1778.6,522.4 1779.0,522.9 C1779.4,523.4 1779.9,524.0 1780.3,524.5 C1780.7,525.0 1781.1,525.5 1781.5,526.0 C1781.9,526.5 1782.3,527.1 1782.7,527.6 C1783.1,528.1 1783.5,528.7 1783.9,529.2 C1784.3,529.8 1784.7,530.4 1785.1,530.9 C1785.5,531.4 1785.8,532.0 1786.2,532.5 C1786.6,533.0 1787.0,533.6 1787.4,534.2 C1787.8,534.8 1788.1,535.3 1788.5,535.9 C1788.9,536.5 1789.3,537.0 1789.7,537.6 C1790.1,538.2 1790.4,538.7 1790.8,539.3 C1791.2,539.9 1791.5,540.4 1791.9,541.0 C1792.3,541.6 1792.6,542.1 1793.0,542.7 C1793.4,543.3 1793.8,543.9 1794.1,544.5 C1794.4,545.1 1794.8,545.7 1795.1,546.3 C1795.4,546.9 1795.8,547.4 1796.2,548.0 C1796.6,548.6 1797.0,549.2 1797.3,549.8 C1797.6,550.4 1797.9,551.0 1798.3,551.6 C1798.7,552.2 1799.1,552.8 1799.4,553.4 C1799.8,554.0 1800.1,554.6 1800.4,555.2 C1800.7,555.8 1801.1,556.3 1801.4,556.9 C1801.8,557.5 1802.2,558.1 1802.5,558.7 C1802.8,559.3 1803.2,559.9 1803.5,560.5 C1803.8,561.1 1804.2,561.7 1804.5,562.3 C1804.8,562.9 1805.2,563.5 1805.5,564.1 C1805.8,564.7 1806.2,565.3 1806.5,565.9 C1806.8,566.5 1807.2,567.2 1807.5,567.8 C1807.8,568.4 1808.2,569.0 1808.5,569.6 C1808.8,570.2 1809.1,570.8 1809.4,571.4 C1809.7,572.0 1810.1,572.6 1810.4,573.2 C1810.7,573.8 1811.1,574.4 1811.4,575.0 C1811.7,575.6 1812.0,576.2 1812.3,576.8 C1812.6,577.4 1813.0,578.0 1813.3,578.6 C1813.6,579.2 1813.9,579.8 1814.2,580.4 C1814.5,581.0 1814.9,581.6 1815.2,582.2 C1815.5,582.8 1815.8,583.4 1816.1,584.0 C1816.4,584.6 1816.7,585.3 1817.0,585.9 C1817.3,586.5 1817.7,587.1 1818.0,587.7 C1818.3,588.3 1818.6,588.9 1818.9,589.5 C1819.2,590.1 1819.5,590.7 1819.8,591.3 C1820.1,591.9 1820.4,592.5 1820.7,593.1 C1821.0,593.7 1821.3,594.3 1821.6,594.9 C1821.9,595.5 1822.2,596.2 1822.5,596.8 C1822.8,597.4 1823.1,598.0 1823.4,598.6 C1823.7,599.2 1824.0,599.8 1824.3,600.4 C1824.6,601.0 1824.9,601.6 1825.2,602.2 C1825.5,602.8 1825.8,603.5 1826.1,604.1 C1826.4,604.7 1826.6,605.3 1826.9,605.9 C1827.2,606.5 1827.5,607.1 1827.8,607.7 C1828.1,608.3 1828.4,608.9 1828.7,609.5 C1829.0,610.1 1829.2,610.8 1829.5,611.4 C1829.8,612.0 1830.1,612.6 1830.4,613.2 C1830.7,613.8 1830.9,614.4 1831.2,615.0 C1831.5,615.6 1831.7,616.2 1832.0,616.8 C1832.3,617.4 1832.6,618.1 1832.9,618.7 C1833.2,619.3 1833.4,619.9 1833.7,620.5 C1834.0,621.1 1834.2,621.7 1834.5,622.3 C1834.8,622.9 1835.1,623.6 1835.4,624.2 C1835.7,624.8 1835.9,625.4 1836.2,626.0 C1836.5,626.6 1836.7,627.3 1837.0,627.9 C1837.3,628.5 1837.5,629.1 1837.8,629.7 C1838.1,630.3 1838.3,630.9 1838.6,631.5 C1838.9,632.1 1839.1,632.8 1839.4,633.4 C1839.7,634.0 1839.9,634.6 1840.2,635.2 C1840.5,635.8 1840.7,636.5 1841.0,637.1 C1841.3,637.7 1841.5,638.3 1841.8,638.9 C1842.1,639.5 1842.3,640.1 1842.6,640.7 C1842.8,641.3 1843.0,642.0 1843.3,642.6 C1843.5,643.2 1843.8,643.8 1844.1,644.4 C1844.4,645.0 1844.6,645.7 1844.9,646.3 C1845.2,646.9 1845.5,647.5 1845.7,648.1 C1846.0,648.7 1846.2,649.4 1846.4,650.0 C1846.7,650.6 1847.0,651.2 1847.2,651.8 C1847.5,652.4 1847.7,653.1 1847.9,653.7 C1848.2,654.3 1848.5,654.9 1848.7,655.5 C1849.0,656.1 1849.2,656.8 1849.4,657.4 C1849.7,658.0 1850.0,658.6 1850.2,659.2 C1850.5,659.8 1850.7,660.5 1850.9,661.1 C1851.1,661.7 1851.3,662.3 1851.6,662.9 C1851.8,663.5 1852.2,664.2 1852.4,664.8 C1852.7,665.4 1852.9,666.0 1853.1,666.6 C1853.3,667.2 1853.6,667.9 1853.8,668.5 C1854.0,669.1 1854.2,669.7 1854.5,670.3 C1854.8,670.9 1855.0,671.6 1855.3,672.2 C1855.5,672.8 1855.8,673.5 1856.0,674.1 C1856.2,674.7 1856.5,675.3 1856.7,675.9 C1856.9,676.5 1857.2,677.2 1857.4,677.8 C1857.6,678.4 1857.9,679.0 1858.1,679.6 C1858.3,680.2 1858.6,680.9 1858.8,681.5 C1859.0,682.1 1859.3,682.8 1859.5,683.4 C1859.7,684.0 1860.0,684.6 1860.2,685.2 C1860.4,685.8 1860.7,686.5 1860.9,687.1 C1861.1,687.7 1861.4,688.4 1861.6,689.0 C1861.8,689.6 1862.1,690.2 1862.3,690.8 C1862.5,691.4 1862.7,692.1 1862.9,692.7 C1863.1,693.3 1863.4,694.0 1863.6,694.6 C1863.8,695.2 1864.1,695.8 1864.3,696.4 C1864.5,697.0 1864.8,697.7 1865.0,698.3 C1865.2,698.9 1865.4,699.6 1865.6,700.2 C1865.8,700.8 1866.1,701.4 1866.3,702.0 C1866.5,702.6 1866.8,703.3 1867.0,703.9 C1867.2,704.5 1867.4,705.2 1867.6,705.8 C1867.8,706.4 1868.1,707.1 1868.3,707.7 C1868.5,708.3 1868.8,708.9 1869.0,709.5 C1869.2,710.1 1869.4,710.8 1869.6,711.4 C1869.8,712.0 1870.1,712.7 1870.3,713.3 C1870.5,713.9 1870.7,714.6 1870.9,715.2 C1871.1,715.8 1871.4,716.4 1871.6,717.0 C1871.8,717.6 1872.0,718.3 1872.2,718.9 C1872.4,719.5 1872.7,720.2 1872.9,720.8 C1873.1,721.4 1873.3,722.1 1873.5,722.7 C1873.7,723.3 1874.0,723.9 1874.2,724.5 C1874.4,725.1 1874.6,725.8 1874.8,726.4 C1875.0,727.0 1875.2,727.7 1875.4,728.3 C1875.6,728.9 1875.9,729.6 1876.1,730.2 C1876.3,730.8 1876.5,731.5 1876.7,732.1 C1876.9,732.7 1877.1,733.4 1877.3,734.0 C1877.5,734.6 1877.8,735.2 1878.0,735.8 C1878.2,736.4 1878.4,737.1 1878.6,737.7 C1878.8,738.3 1879.0,739.0 1879.2,739.6 C1879.4,740.2 1879.6,740.9 1879.8,741.5 C1880.0,742.1 1880.3,742.8 1880.5,743.4 C1880.7,744.0 1880.9,744.7 1881.1,745.3 C1881.3,745.9 1881.5,746.6 1881.7,747.2 C1881.9,747.8 1882.1,748.4 1882.3,749.0 C1882.5,749.6 1882.7,750.3 1882.9,750.9 C1883.1,751.5 1883.3,752.2 1883.5,752.8 C1883.7,753.4 1884.0,754.1 1884.2,754.7 C1884.4,755.3 1884.6,756.0 1884.8,756.6 C1885.0,757.2 1885.2,757.9 1885.4,758.5 C1885.6,759.1 1885.8,759.8 1886.0,760.4 C1886.2,761.0 1886.4,761.7 1886.6,762.3 C1886.8,762.9 1887.0,763.6 1887.2,764.2 C1887.4,764.8 1887.6,765.5 1887.8,766.1 C1888.0,766.7 1888.2,767.4 1888.4,768.0 C1888.6,768.6 1888.8,769.3 1889.0,769.9 C1889.2,770.5 1889.4,771.2 1889.6,771.8 C1889.8,772.4 1890.0,773.1 1890.2,773.7 C1890.4,774.3 1890.6,774.9 1890.8,775.5 C1891.0,776.1 1891.2,776.8 1891.4,777.4 C1891.6,778.0 1891.8,778.7 1892.0,779.3 C1892.2,779.9 1892.4,780.6 1892.6,781.2 C1892.8,781.8 1893.0,782.5 1893.2,783.1 C1893.4,783.7 1893.6,784.4 1893.8,785.0 C1894.0,785.6 1894.2,786.3 1894.4,786.9 C1894.6,787.5 1894.8,788.2 1895.0,788.8 C1895.2,789.4 1895.4,790.1 1895.6,790.7 C1895.8,791.4 1896.0,792.1 1896.2,792.7 C1896.4,793.4 1896.6,794.0 1896.8,794.6 C1897.0,795.2 1897.2,795.9 1897.4,796.5 C1897.6,797.1 1897.8,797.8 1898.0,798.4 C1898.2,799.0 1898.4,799.7 1898.6,800.3 C1898.8,800.9 1899.0,801.6 1899.2,802.2 C1899.4,802.8 1899.6,803.5 1899.8,804.1 C1900.0,804.7 1900.2,805.4 1900.4,806.0 C1900.6,806.6 1900.8,807.3 1901.0,807.9 C1901.2,808.5 1901.4,809.2 1901.6,809.8 C1901.8,810.4 1902.0,811.1 1902.2,811.7 C1902.4,812.3 1902.6,813.0 1902.8,813.6 C1903.0,814.2 1903.2,814.9 1903.4,815.5 C1903.6,816.1 1903.8,816.8 1904.0,817.4 C1904.2,818.0 1904.4,818.7 1904.6,819.3 C1904.8,819.9 1905.0,820.6 1905.2,821.2 C1905.4,821.9 1905.6,822.6 1905.8,823.2 C1906.0,823.9 1906.2,824.5 1906.4,825.1 C1906.6,825.7 1906.8,826.4 1907.0,827.0 C1907.2,827.6 1907.4,828.3 1907.6,828.9 C1907.8,829.5 1908.0,830.2 1908.2,830.8 C1908.4,831.4 1908.6,832.1 1908.8,832.7 C1909.0,833.3 1909.2,834.0 1909.4,834.6 C1909.6,835.2 1909.8,835.9 1910.0,836.5 C1910.2,837.1 1910.4,837.8 1910.6,838.4 C1910.8,839.0 1911.0,839.8 1911.2,840.4 C1911.4,841.0 1911.6,841.7 1911.8,842.3 C1912.0,842.9 1912.2,843.6 1912.4,844.2 C1912.6,844.8 1912.8,845.5 1913.0,846.1 C1913.2,846.7 1913.4,847.4 1913.6,848.0 C1913.8,848.6 1914.0,849.3 1914.2,849.9 C1914.4,850.5 1914.6,851.2 1914.8,851.8 C1915.0,852.4 1915.2,853.1 1915.4,853.7 C1915.6,854.3 1915.8,855.0 1916.0,855.6 C1916.2,856.2 1916.4,857.0 1916.6,857.6 C1916.8,858.2 1917.1,858.9 1917.3,859.5 C1917.5,860.1 1917.7,860.8 1917.9,861.4 C1918.1,862.0 1918.3,862.7 1918.5,863.3 C1918.7,863.9 1918.9,864.6 1919.1,865.2 C1919.3,865.8 1919.5,866.5 1919.7,867.1 C1919.9,867.7 1920.1,868.4 1920.3,869.0 C1920.5,869.6 1920.7,870.3 1920.9,870.9 C1921.1,871.5 1921.4,872.2 1921.6,872.8 C1921.8,873.4 1922.0,874.1 1922.2,874.7 C1922.4,875.3 1922.6,876.0 1922.8,876.6 C1923.0,877.2 1923.2,878.0 1923.4,878.6 C1923.6,879.2 1923.9,879.9 1924.1,880.5 C1924.3,881.1 1924.5,881.8 1924.7,882.4 C1924.9,883.0 1925.1,883.7 1925.3,884.3 C1925.5,884.9 1925.7,885.6 1925.9,886.2 C1926.1,886.8 1926.4,887.5 1926.6,888.1 C1926.8,888.7 1927.0,889.4 1927.2,890.0 C1927.4,890.6 1927.6,891.3 1927.8,891.9 C1928.0,892.5 1928.3,893.2 1928.5,893.8 C1928.7,894.4 1928.9,895.1 1929.1,895.7 C1929.3,896.3 1929.6,897.0 1929.8,897.6 C1930.0,898.2 1930.2,898.9 1930.4,899.5 C1930.6,900.1 1930.9,900.8 1931.1,901.4 C1931.3,902.0 1931.5,902.7 1931.7,903.3 C1931.9,903.9 1932.1,904.6 1932.3,905.2 C1932.5,905.8 1932.8,906.5 1933.0,907.1 C1933.2,907.7 1933.4,908.4 1933.6,909.0 C1933.8,909.6 1934.1,910.3 1934.3,910.9 C1934.5,911.5 1934.8,912.2 1935.0,912.8 C1935.2,913.4 1935.4,914.1 1935.6,914.7 C1935.8,915.3 1936.1,916.0 1936.3,916.6 C1936.5,917.2 1936.7,917.9 1936.9,918.5 C1937.1,919.1 1937.4,919.8 1937.6,920.4 C1937.8,921.0 1938.1,921.7 1938.3,922.3 C1938.5,922.9 1938.7,923.6 1938.9,924.2 C1939.1,924.8 1939.4,925.5 1939.6,926.1 C1939.8,926.7 1940.1,927.3 1940.3,927.9 C1940.5,928.5 1940.8,929.2 1941.0,929.8 C1941.2,930.4 1941.5,931.1 1941.7,931.7 C1941.9,932.3 1942.1,933.0 1942.3,933.6 C1942.5,934.2 1942.8,934.9 1943.0,935.5 C1943.2,936.1 1943.5,936.8 1943.7,937.4 C1943.9,938.0 1944.2,938.7 1944.4,939.3 C1944.6,939.9 1944.9,940.5 1945.1,941.1 C1945.3,941.7 1945.6,942.4 1945.8,943.0 C1946.0,943.6 1946.3,944.3 1946.5,944.9 C1946.7,945.5 1947.0,946.2 1947.2,946.8 C1947.4,947.4 1947.7,948.1 1947.9,948.7 C1948.1,949.3 1948.4,949.9 1948.6,950.5 C1948.8,951.1 1949.1,951.8 1949.3,952.4 C1949.5,953.0 1949.8,953.7 1950.0,954.3 C1950.2,954.9 1950.5,955.6 1950.7,956.2 C1951.0,956.8 1951.2,957.4 1951.5,958.0 C1951.8,958.6 1952.0,959.3 1952.2,959.9 C1952.4,960.5 1952.7,961.2 1952.9,961.8 C1953.1,962.4 1953.3,963.0 1953.6,963.6 C1953.8,964.2 1954.2,964.9 1954.4,965.5 C1954.7,966.1 1954.9,966.8 1955.1,967.4 C1955.3,968.0 1955.5,968.6 1955.8,969.2 C1956.0,969.8 1956.3,970.5 1956.6,971.1 C1956.8,971.7 1957.0,972.3 1957.3,972.9 C1957.5,973.5 1957.8,974.2 1958.1,974.8 C1958.3,975.4 1958.5,976.0 1958.8,976.6 C1959.0,977.2 1959.3,977.9 1959.6,978.5 C1959.9,979.1 1960.2,979.8 1960.4,980.4 C1960.7,981.0 1960.8,981.6 1961.1,982.2 C1961.3,982.8 1961.6,983.5 1961.9,984.1 C1962.2,984.7 1962.5,985.3 1962.7,985.9 C1963.0,986.5 1963.2,987.1 1963.4,987.7 C1963.7,988.3 1963.9,989.0 1964.2,989.6 C1964.5,990.2 1964.7,990.8 1965.0,991.4 C1965.3,992.0 1965.5,992.7 1965.8,993.3 C1966.1,993.9 1966.3,994.5 1966.6,995.1 C1966.9,995.7 1967.1,996.3 1967.4,996.9 C1967.7,997.5 1967.9,998.2 1968.2,998.8 C1968.5,999.4 1968.7,1000.0 1969.0,1000.6 C1969.3,1001.2 1969.5,1001.8 1969.8,1002.4 C1970.1,1003.0 1970.3,1003.7 1970.6,1004.3 C1970.9,1004.9 1971.1,1005.5 1971.4,1006.1 C1971.7,1006.7 1971.9,1007.3 1972.2,1007.9 C1972.5,1008.5 1972.7,1009.1 1973.0,1009.7 C1973.3,1010.3 1973.6,1011.0 1973.9,1011.6 C1974.2,1012.2 1974.4,1012.8 1974.7,1013.4 C1975.0,1014.0 1975.2,1014.6 1975.5,1015.2 C1975.8,1015.8 1976.1,1016.4 1976.4,1017.0 C1976.7,1017.6 1976.9,1018.2 1977.2,1018.8 C1977.5,1019.4 1977.7,1020.0 1978.0,1020.6 C1978.3,1021.2 1978.6,1021.8 1978.9,1022.4 C1979.2,1023.0 1979.5,1023.7 1979.8,1024.3 C1980.1,1024.9 1980.3,1025.5 1980.6,1026.1 C1980.9,1026.7 1981.2,1027.3 1981.5,1027.9 C1981.8,1028.5 1982.1,1029.1 1982.4,1029.7 C1982.7,1030.3 1982.9,1030.9 1983.2,1031.5 C1983.5,1032.1 1983.8,1032.6 1984.1,1033.2 C1984.4,1033.8 1984.7,1034.4 1985.0,1035.0 C1985.3,1035.6 1985.6,1036.2 1985.9,1036.8 C1986.2,1037.4 1986.5,1038.0 1986.8,1038.6 C1987.1,1039.2 1987.4,1039.8 1987.7,1040.4 C1988.0,1041.0 1988.3,1041.6 1988.6,1042.2 C1988.9,1042.8 1989.2,1043.4 1989.5,1044.0 C1989.8,1044.6 1990.1,1045.1 1990.4,1045.7 C1990.7,1046.3 1991.0,1046.9 1991.3,1047.5 C1991.6,1048.1 1991.9,1048.7 1992.2,1049.3 C1992.5,1049.9 1992.9,1050.5 1993.2,1051.1 C1993.5,1051.7 1993.8,1052.2 1994.1,1052.8 C1994.4,1053.4 1994.8,1054.0 1995.1,1054.6 C1995.4,1055.2 1995.7,1055.8 1996.0,1056.4 C1996.3,1057.0 1996.6,1057.5 1996.9,1058.1 C1997.2,1058.7 1997.6,1059.3 1997.9,1059.9 C1998.2,1060.5 1998.6,1061.0 1998.9,1061.6 C1999.2,1062.2 1999.5,1062.8 1999.8,1063.4 C2000.1,1064.0 2000.5,1064.5 2000.8,1065.1 C2001.1,1065.7 2001.5,1066.3 2001.8,1066.9 C2002.1,1067.5 2002.5,1068.0 2002.8,1068.6 C2003.1,1069.2 2003.4,1069.8 2003.7,1070.4 C2004.0,1071.0 2004.4,1071.5 2004.7,1072.1 C2005.0,1072.7 2005.4,1073.2 2005.7,1073.8 C2006.0,1074.4 2006.4,1075.0 2006.7,1075.6 C2007.0,1076.2 2007.4,1076.7 2007.7,1077.3 C2008.0,1077.9 2008.5,1078.4 2008.8,1079.0 C2009.1,1079.6 2009.5,1080.1 2009.8,1080.7 C2010.1,1081.3 2010.5,1081.9 2010.8,1082.5 C2011.1,1083.1 2011.4,1083.6 2011.8,1084.2 C2012.2,1084.8 2012.6,1085.3 2012.9,1085.9 C2013.2,1086.5 2013.6,1087.0 2013.9,1087.6 C2014.2,1088.2 2014.7,1088.7 2015.0,1089.3 C2015.3,1089.9 2015.7,1090.4 2016.0,1091.0 C2016.3,1091.6 2016.7,1092.1 2017.1,1092.7 C2017.5,1093.3 2017.8,1093.8 2018.2,1094.4 C2018.6,1095.0 2018.9,1095.5 2019.2,1096.1 C2019.5,1096.7 2019.9,1097.2 2020.3,1097.8 C2020.7,1098.4 2021.0,1098.9 2021.4,1099.5 C2021.8,1100.1 2022.1,1100.6 2022.5,1101.2 C2022.9,1101.8 2023.2,1102.4 2023.6,1102.9 C2024.0,1103.5 2024.3,1104.0 2024.7,1104.5 C2025.1,1105.0 2025.4,1105.6 2025.8,1106.2 C2026.2,1106.8 2026.5,1107.3 2026.9,1107.9 C2027.3,1108.5 2027.7,1109.0 2028.1,1109.6 C2028.5,1110.1 2028.8,1110.7 2029.2,1111.2 C2029.6,1111.8 2029.9,1112.4 2030.3,1112.9 C2030.7,1113.5 2031.1,1114.0 2031.5,1114.5 C2031.9,1115.0 2032.2,1115.7 2032.6,1116.2 C2033.0,1116.8 2033.4,1117.2 2033.8,1117.8 C2034.2,1118.3 2034.5,1119.0 2034.9,1119.5 C2035.3,1120.0 2035.7,1120.6 2036.1,1121.1 C2036.5,1121.6 2036.9,1122.2 2037.3,1122.7 C2037.7,1123.2 2038.1,1123.8 2038.5,1124.3 C2038.9,1124.8 2039.3,1125.5 2039.7,1126.0 C2040.1,1126.5 2040.5,1127.1 2040.9,1127.6 C2041.3,1128.1 2041.7,1128.7 2042.1,1129.2 C2042.5,1129.7 2042.9,1130.3 2043.3,1130.8 C2043.7,1131.3 2044.1,1131.9 2044.5,1132.4 C2044.9,1132.9 2045.3,1133.5 2045.7,1134.0 C2046.1,1134.5 2046.6,1135.0 2047.0,1135.5 C2047.4,1136.0 2047.8,1136.6 2048.2,1137.1 C2048.6,1137.6 2049.1,1138.2 2049.5,1138.7 C2049.9,1139.2 2050.3,1139.7 2050.7,1140.2 C2051.1,1140.7 2051.6,1141.3 2052.0,1141.8 C2052.4,1142.3 2052.9,1142.8 2053.3,1143.3 C2053.7,1143.8 2054.1,1144.4 2054.5,1144.9 C2054.9,1145.4 2055.4,1145.9 2055.8,1146.4 C2056.2,1146.9 2056.7,1147.4 2057.1,1147.9 C2057.5,1148.4 2058.0,1148.9 2058.4,1149.4 C2058.8,1149.9 2059.2,1150.4 2059.7,1150.9 C2060.1,1151.4 2060.6,1151.9 2061.1,1152.4 C2061.6,1152.9 2062.0,1153.4 2062.4,1153.9 C2062.8,1154.4 2063.2,1154.9 2063.7,1155.4 C2064.1,1155.9 2064.6,1156.3 2065.1,1156.8 C2065.6,1157.3 2065.9,1157.8 2066.4,1158.3 C2066.9,1158.8 2067.4,1159.3 2067.8,1159.8 C2068.2,1160.3 2068.7,1160.7 2069.1,1161.2 C2069.5,1161.7 2070.0,1162.1 2070.5,1162.6 C2071.0,1163.1 2071.4,1163.5 2071.9,1164.0 C2072.4,1164.5 2072.8,1165.0 2073.3,1165.5 C2073.8,1166.0 2074.2,1166.5 2074.7,1166.9 C2075.2,1167.4 2075.6,1167.8 2076.1,1168.2 C2076.6,1168.7 2077.0,1169.1 2077.5,1169.6 C2078.0,1170.1 2078.4,1170.5 2078.9,1171.0 C2079.4,1171.5 2079.9,1172.0 2080.4,1172.4 C2080.9,1172.9 2081.3,1173.3 2081.8,1173.7 C2082.3,1174.1 2082.8,1174.5 2083.3,1175.0 C2083.8,1175.5 2084.2,1176.0 2084.7,1176.4 C2085.2,1176.9 2085.7,1177.3 2086.2,1177.7 C2086.7,1178.1 2087.2,1178.6 2087.7,1179.0 C2088.2,1179.4 2088.6,1179.9 2089.1,1180.3 C2089.6,1180.7 2090.1,1181.1 2090.6,1181.5 C2091.1,1181.9 2091.6,1182.4 2092.1,1182.8 C2092.6,1183.2 2093.1,1183.7 2093.6,1184.1 C2094.1,1184.5 2094.7,1184.9 2095.2,1185.3 C2095.7,1185.7 2096.2,1186.1 2096.7,1186.5 C2097.2,1186.9 2097.7,1187.3 2098.2,1187.7 C2098.7,1188.1 2099.3,1188.5 2099.8,1188.9 C2100.3,1189.3 2100.8,1189.7 2101.3,1190.1 C2101.8,1190.5 2102.4,1190.9 2102.9,1191.3 C2103.4,1191.7 2104.0,1192.1 2104.5,1192.5 C2105.0,1192.9 2105.6,1193.2 2106.1,1193.6 C2106.6,1194.0 2107.2,1194.4 2107.7,1194.8 C2108.2,1195.2 2108.8,1195.5 2109.3,1195.9 C2109.8,1196.3 2110.4,1196.6 2110.9,1197.0 C2111.4,1197.4 2112.0,1197.7 2112.5,1198.1 C2113.0,1198.5 2113.5,1198.8 2114.1,1199.2 C2114.7,1199.6 2115.2,1199.9 2115.8,1200.2 C2116.4,1200.5 2116.9,1201.0 2117.4,1201.3 C2117.9,1201.6 2118.5,1202.0 2119.1,1202.3 C2119.7,1202.6 2120.2,1203.0 2120.8,1203.3 C2121.4,1203.6 2121.9,1204.0 2122.4,1204.3 C2122.9,1204.6 2123.5,1205.0 2124.1,1205.3 C2124.7,1205.6 2125.2,1206.0 2125.8,1206.3 C2126.4,1206.6 2126.9,1206.9 2127.5,1207.2 C2128.1,1207.5 2128.7,1207.9 2129.3,1208.2 C2129.9,1208.5 2130.4,1208.8 2131.0,1209.1 C2131.6,1209.4 2132.1,1209.7 2132.7,1210.0 C2133.3,1210.3 2133.9,1210.6 2134.5,1210.9 C2135.1,1211.2 2135.7,1211.5 2136.3,1211.8 C2136.9,1212.1 2137.4,1212.3 2138.0,1212.6 C2138.6,1212.9 2139.2,1213.2 2139.8,1213.5 C2140.4,1213.8 2141.0,1214.0 2141.6,1214.3 C2142.2,1214.6 2142.8,1214.8 2143.4,1215.1 C2144.0,1215.4 2144.6,1215.6 2145.2,1215.9 C2145.8,1216.2 2146.4,1216.5 2147.0,1216.7 C2147.6,1217.0 2148.3,1217.2 2148.9,1217.4 C2149.5,1217.7 2150.1,1218.0 2150.7,1218.2 C2151.3,1218.5 2152.0,1218.7 2152.6,1218.9 C2153.2,1219.1 2153.8,1219.4 2154.4,1219.6 C2155.0,1219.8 2155.7,1220.1 2156.3,1220.3 C2156.9,1220.5 2157.6,1220.7 2158.2,1220.9 C2158.8,1221.1 2159.5,1221.4 2160.1,1221.6 C2160.7,1221.8 2161.4,1222.0 2162.0,1222.2 C2162.6,1222.4 2163.2,1222.6 2163.9,1222.8 C2164.6,1223.0 2165.2,1223.2 2165.9,1223.4 C2166.6,1223.6 2167.2,1223.8 2167.8,1224.0 C2168.5,1224.2 2169.2,1224.3 2169.8,1224.5 C2170.5,1224.7 2171.0,1224.8 2171.7,1225.0 C2172.3,1225.2 2173.0,1225.3 2173.7,1225.5 C2174.4,1225.7 2175.0,1225.8 2175.7,1226.0 C2176.4,1226.2 2177.0,1226.3 2177.7,1226.5 C2178.4,1226.7 2179.0,1226.8 2179.7,1226.9 C2180.4,1227.1 2181.0,1227.2 2181.7,1227.4 C2182.4,1227.6 2183.1,1227.7 2183.8,1227.8 C2184.5,1227.9 2185.1,1228.1 2185.8,1228.2 C2186.5,1228.3 2187.2,1228.4 2187.9,1228.5 C2188.6,1228.6 2189.2,1228.8 2189.9,1228.9 C2190.6,1229.0 2191.3,1229.1 2192.0,1229.2 C2192.7,1229.3 2193.4,1229.4 2194.1,1229.5 C2194.8,1229.6 2195.5,1229.7 2196.2,1229.8 C2196.9,1229.9 2197.6,1229.9 2198.3,1230.0 C2199.0,1230.1 2199.8,1230.2 2200.5,1230.3 C2201.2,1230.4 2201.9,1230.4 2202.6,1230.5 C2203.3,1230.6 2204.1,1230.7 2204.8,1230.7 C2205.5,1230.8 2206.2,1230.8 2206.9,1230.8 C2207.6,1230.8 2208.4,1231.0 2209.1,1231.0 C2209.8,1231.0 2210.6,1231.1 2211.3,1231.1 C2212.0,1231.1 2212.8,1231.2 2213.5,1231.2 C2214.2,1231.2 2215.3,1231.3 2215.7,1231.3" fill="none" stroke="#7030A0" stroke-width="13.8" stroke-linecap="round" stroke-linejoin="round" shape-rendering="crispEdges" clip-path="url(#pc)"/>
<line x1="977.5" y1="599.7" x2="977.5" y2="711" stroke="#000" stroke-width="4.8" fill="none"/><polyline points="948.0,662 977.5,711 1007.0,662" stroke="#000" stroke-width="4.8" fill="none" stroke-linecap="round" stroke-linejoin="miter"/><line x1="1071.5" y1="643.7" x2="1071.5" y2="754.4" stroke="#000" stroke-width="4.8" fill="none"/><polyline points="1042.0,705.4 1071.5,754.4 1101.0,705.4" stroke="#000" stroke-width="4.8" fill="none" stroke-linecap="round" stroke-linejoin="miter"/><line x1="1584.8" y1="568.4" x2="1584.8" y2="457.7" stroke="#000" stroke-width="4.8" fill="none"/><polyline points="1555.3,506.7 1584.8,457.7 1614.3,506.7" stroke="#000" stroke-width="4.8" fill="none" stroke-linecap="round" stroke-linejoin="miter"/><line x1="1716" y1="468.6" x2="1716" y2="357.8" stroke="#000" stroke-width="4.8" fill="none"/><polyline points="1686.5,406.8 1716,357.8 1745.5,406.8" stroke="#000" stroke-width="4.8" fill="none" stroke-linecap="round" stroke-linejoin="miter"/><text transform="translate(988.65,586.8) scale(0.91,1)" x="0" y="0" text-anchor="middle" class="an">A</text><text transform="translate(1088.75,623.9) scale(0.86,1)" x="0" y="0" text-anchor="middle" class="an">B</text><text transform="translate(1593.65,443.2) scale(0.84,1)" x="0" y="0" text-anchor="middle" class="an">C</text><text transform="translate(1729,335.8) scale(0.91,1)" x="0" y="0" text-anchor="middle" class="an">D</text>
</svg>
</body></html>
